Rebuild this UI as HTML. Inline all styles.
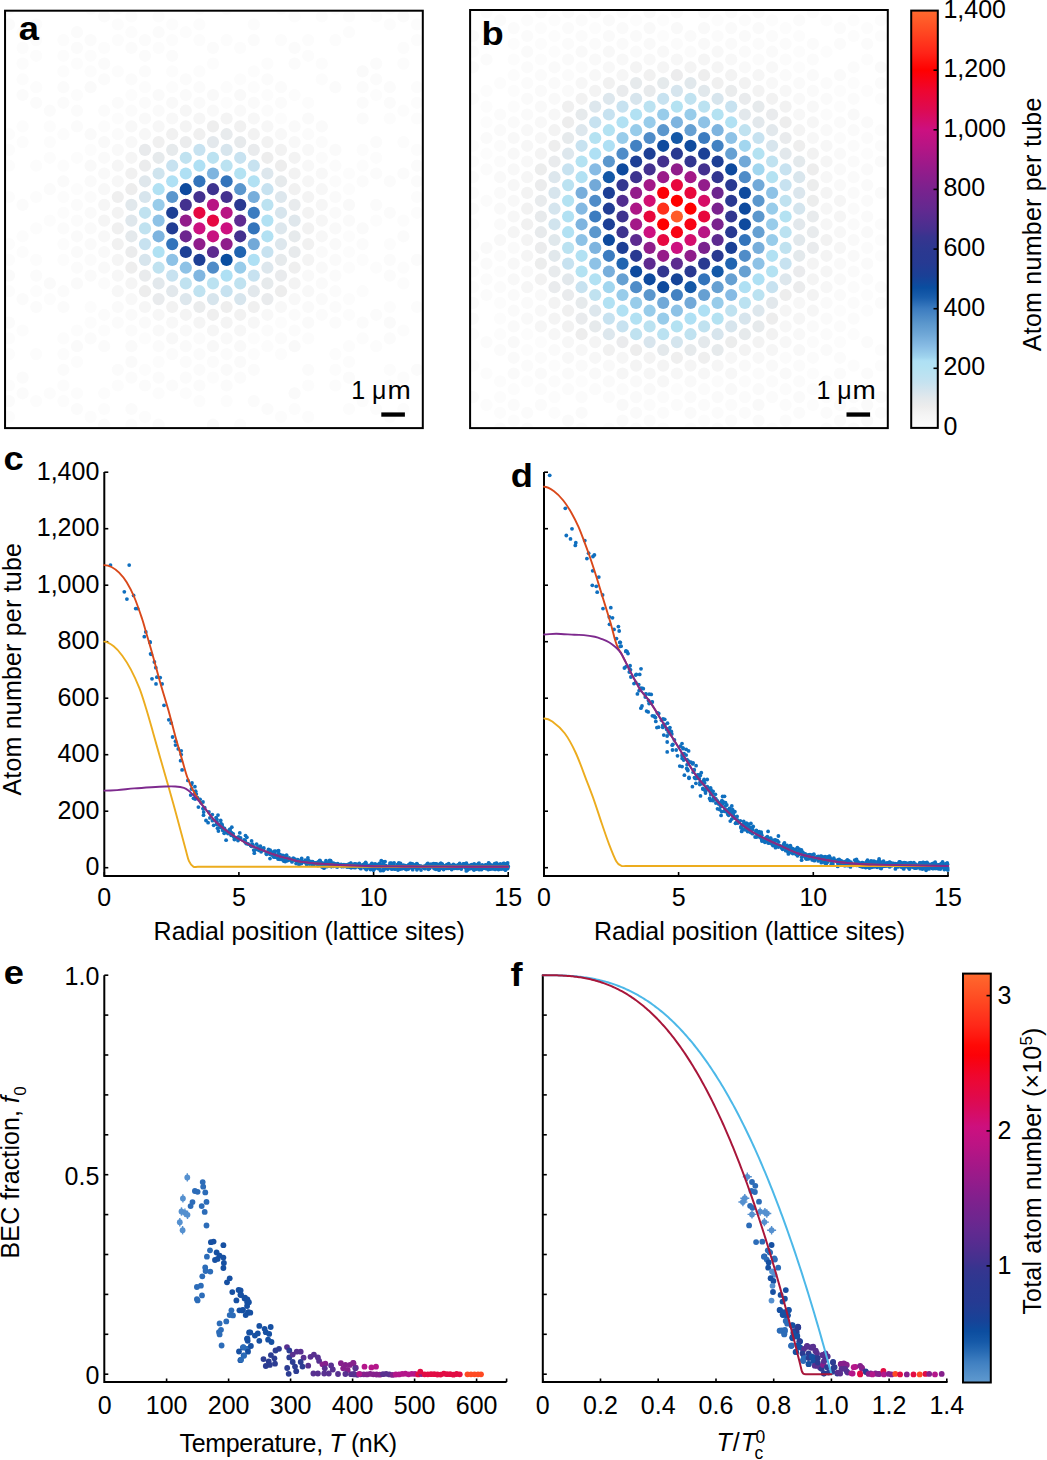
<!DOCTYPE html>
<html><head><meta charset="utf-8"><style>html,body{margin:0;padding:0;background:#fff;overflow:hidden}svg{display:block}</style></head>
<body><svg width="1047" height="1460" viewBox="0 0 1047 1460">
<rect width="1047" height="1460" fill="#fff"/>
<defs><clipPath id="ca"><rect x="6" y="11.7" width="415.8" height="415.3"/></clipPath><clipPath id="cb"><rect x="471" y="11" width="416" height="416"/></clipPath></defs>
<g clip-path="url(#ca)"><circle cx="9.0" cy="8.7" r="6.1" fill="#fbfbfb"/><circle cx="9.0" cy="24.4" r="6.1" fill="#fbfbfb"/><circle cx="9.0" cy="134.2" r="6.1" fill="#fcfcfc"/><circle cx="9.0" cy="149.9" r="6.1" fill="#fcfcfc"/><circle cx="9.0" cy="165.7" r="6.1" fill="#fcfcfc"/><circle cx="9.0" cy="197.0" r="6.1" fill="#fcfcfc"/><circle cx="9.0" cy="244.1" r="6.1" fill="#fcfcfc"/><circle cx="9.0" cy="259.9" r="6.1" fill="#fcfcfc"/><circle cx="9.0" cy="275.6" r="6.1" fill="#fafafa"/><circle cx="9.0" cy="291.2" r="6.1" fill="#fcfcfc"/><circle cx="9.0" cy="322.6" r="6.1" fill="#fbfbfb"/><circle cx="9.0" cy="338.4" r="6.1" fill="#fcfcfc"/><circle cx="9.0" cy="354.1" r="6.1" fill="#fcfcfc"/><circle cx="9.0" cy="385.5" r="6.1" fill="#fcfcfc"/><circle cx="9.0" cy="401.1" r="6.1" fill="#fbfbfb"/><circle cx="9.0" cy="416.9" r="6.1" fill="#fcfcfc"/><circle cx="9.0" cy="432.6" r="6.1" fill="#fcfcfc"/><circle cx="22.6" cy="32.2" r="6.1" fill="#fcfcfc"/><circle cx="22.6" cy="47.9" r="6.1" fill="#fcfcfc"/><circle cx="22.6" cy="63.6" r="6.1" fill="#fcfcfc"/><circle cx="22.6" cy="79.3" r="6.1" fill="#fcfcfc"/><circle cx="22.6" cy="95.0" r="6.1" fill="#fbfbfb"/><circle cx="22.6" cy="126.4" r="6.1" fill="#fcfcfc"/><circle cx="22.6" cy="142.1" r="6.1" fill="#fcfcfc"/><circle cx="22.6" cy="204.9" r="6.1" fill="#fbfbfb"/><circle cx="22.6" cy="236.3" r="6.1" fill="#fcfcfc"/><circle cx="22.6" cy="252.0" r="6.1" fill="#fcfcfc"/><circle cx="22.6" cy="299.1" r="6.1" fill="#fbfbfb"/><circle cx="22.6" cy="330.5" r="6.1" fill="#fcfcfc"/><circle cx="22.6" cy="377.6" r="6.1" fill="#fbfbfb"/><circle cx="22.6" cy="393.3" r="6.1" fill="#fbfbfb"/><circle cx="36.2" cy="24.4" r="6.1" fill="#fcfcfc"/><circle cx="36.2" cy="40.1" r="6.1" fill="#fcfcfc"/><circle cx="36.2" cy="55.8" r="6.1" fill="#fcfcfc"/><circle cx="36.2" cy="87.2" r="6.1" fill="#fcfcfc"/><circle cx="36.2" cy="102.8" r="6.1" fill="#fbfbfb"/><circle cx="36.2" cy="165.7" r="6.1" fill="#fcfcfc"/><circle cx="36.2" cy="197.0" r="6.1" fill="#fcfcfc"/><circle cx="36.2" cy="228.4" r="6.1" fill="#fcfcfc"/><circle cx="36.2" cy="259.9" r="6.1" fill="#fcfcfc"/><circle cx="36.2" cy="275.6" r="6.1" fill="#fbfbfb"/><circle cx="36.2" cy="291.2" r="6.1" fill="#fcfcfc"/><circle cx="36.2" cy="307.0" r="6.1" fill="#fbfbfb"/><circle cx="36.2" cy="354.1" r="6.1" fill="#fcfcfc"/><circle cx="36.2" cy="401.1" r="6.1" fill="#fcfcfc"/><circle cx="36.2" cy="432.6" r="6.1" fill="#fcfcfc"/><circle cx="49.8" cy="110.7" r="6.1" fill="#fbfbfb"/><circle cx="49.8" cy="126.4" r="6.1" fill="#fcfcfc"/><circle cx="49.8" cy="142.1" r="6.1" fill="#fcfcfc"/><circle cx="49.8" cy="157.8" r="6.1" fill="#fcfcfc"/><circle cx="49.8" cy="189.2" r="6.1" fill="#fbfbfb"/><circle cx="49.8" cy="220.6" r="6.1" fill="#fcfcfc"/><circle cx="49.8" cy="283.4" r="6.1" fill="#fafafa"/><circle cx="49.8" cy="299.1" r="6.1" fill="#fcfcfc"/><circle cx="49.8" cy="393.3" r="6.1" fill="#fcfcfc"/><circle cx="63.4" cy="40.1" r="6.1" fill="#fcfcfc"/><circle cx="63.4" cy="55.8" r="6.1" fill="#fcfcfc"/><circle cx="63.4" cy="71.4" r="6.1" fill="#fcfcfc"/><circle cx="63.4" cy="87.2" r="6.1" fill="#fbfbfb"/><circle cx="63.4" cy="102.8" r="6.1" fill="#fbfbfb"/><circle cx="63.4" cy="134.2" r="6.1" fill="#fcfcfc"/><circle cx="63.4" cy="165.7" r="6.1" fill="#fcfcfc"/><circle cx="63.4" cy="181.3" r="6.1" fill="#fafafa"/><circle cx="63.4" cy="197.0" r="6.1" fill="#fcfcfc"/><circle cx="63.4" cy="212.8" r="6.1" fill="#fcfcfc"/><circle cx="63.4" cy="228.4" r="6.1" fill="#fbfbfb"/><circle cx="63.4" cy="244.1" r="6.1" fill="#fcfcfc"/><circle cx="63.4" cy="259.9" r="6.1" fill="#fcfcfc"/><circle cx="63.4" cy="291.2" r="6.1" fill="#fbfbfb"/><circle cx="63.4" cy="307.0" r="6.1" fill="#fbfbfb"/><circle cx="63.4" cy="338.4" r="6.1" fill="#fcfcfc"/><circle cx="63.4" cy="354.1" r="6.1" fill="#fcfcfc"/><circle cx="63.4" cy="369.8" r="6.1" fill="#fbfbfb"/><circle cx="63.4" cy="385.5" r="6.1" fill="#fcfcfc"/><circle cx="63.4" cy="401.1" r="6.1" fill="#fcfcfc"/><circle cx="77.0" cy="32.2" r="6.1" fill="#fbfbfb"/><circle cx="77.0" cy="47.9" r="6.1" fill="#fbfbfb"/><circle cx="77.0" cy="63.6" r="6.1" fill="#fcfcfc"/><circle cx="77.0" cy="95.0" r="6.1" fill="#fcfcfc"/><circle cx="77.0" cy="110.7" r="6.1" fill="#fbfbfb"/><circle cx="77.0" cy="126.4" r="6.1" fill="#fbfbfb"/><circle cx="77.0" cy="157.8" r="6.1" fill="#fcfcfc"/><circle cx="77.0" cy="189.2" r="6.1" fill="#fcfcfc"/><circle cx="77.0" cy="204.9" r="6.1" fill="#fbfbfb"/><circle cx="77.0" cy="220.6" r="6.1" fill="#fbfbfb"/><circle cx="77.0" cy="236.3" r="6.1" fill="#fafafa"/><circle cx="77.0" cy="252.0" r="6.1" fill="#fafafa"/><circle cx="77.0" cy="267.7" r="6.1" fill="#fbfbfb"/><circle cx="77.0" cy="283.4" r="6.1" fill="#fafafa"/><circle cx="77.0" cy="330.5" r="6.1" fill="#fcfcfc"/><circle cx="77.0" cy="346.2" r="6.1" fill="#fafafa"/><circle cx="77.0" cy="361.9" r="6.1" fill="#fcfcfc"/><circle cx="77.0" cy="393.3" r="6.1" fill="#fcfcfc"/><circle cx="77.0" cy="409.0" r="6.1" fill="#fbfbfb"/><circle cx="90.6" cy="8.7" r="6.1" fill="#fcfcfc"/><circle cx="90.6" cy="40.1" r="6.1" fill="#fbfbfb"/><circle cx="90.6" cy="55.8" r="6.1" fill="#fcfcfc"/><circle cx="90.6" cy="71.4" r="6.1" fill="#fcfcfc"/><circle cx="90.6" cy="87.2" r="6.1" fill="#fafafa"/><circle cx="90.6" cy="134.2" r="6.1" fill="#fafafa"/><circle cx="90.6" cy="149.9" r="6.1" fill="#fcfcfc"/><circle cx="90.6" cy="165.7" r="6.1" fill="#f9f9f9"/><circle cx="90.6" cy="181.3" r="6.1" fill="#fafafa"/><circle cx="90.6" cy="197.0" r="6.1" fill="#fbfbfb"/><circle cx="90.6" cy="212.8" r="6.1" fill="#fafafa"/><circle cx="90.6" cy="228.4" r="6.1" fill="#fafafa"/><circle cx="90.6" cy="244.1" r="6.1" fill="#fafafa"/><circle cx="90.6" cy="259.9" r="6.1" fill="#fbfbfb"/><circle cx="90.6" cy="275.6" r="6.1" fill="#fafafa"/><circle cx="90.6" cy="307.0" r="6.1" fill="#fcfcfc"/><circle cx="90.6" cy="322.6" r="6.1" fill="#fcfcfc"/><circle cx="90.6" cy="338.4" r="6.1" fill="#fbfbfb"/><circle cx="90.6" cy="416.9" r="6.1" fill="#fcfcfc"/><circle cx="90.6" cy="432.6" r="6.1" fill="#fcfcfc"/><circle cx="104.2" cy="16.5" r="6.1" fill="#fbfbfb"/><circle cx="104.2" cy="47.9" r="6.1" fill="#fcfcfc"/><circle cx="104.2" cy="63.6" r="6.1" fill="#fbfbfb"/><circle cx="104.2" cy="79.3" r="6.1" fill="#fbfbfb"/><circle cx="104.2" cy="110.7" r="6.1" fill="#fbfbfb"/><circle cx="104.2" cy="126.4" r="6.1" fill="#fcfcfc"/><circle cx="104.2" cy="142.1" r="6.1" fill="#f9f9f9"/><circle cx="104.2" cy="157.8" r="6.1" fill="#fafafa"/><circle cx="104.2" cy="173.5" r="6.1" fill="#f9f9f9"/><circle cx="104.2" cy="189.2" r="6.1" fill="#f8f8f8"/><circle cx="104.2" cy="204.9" r="6.1" fill="#f6f6f6"/><circle cx="104.2" cy="220.6" r="6.1" fill="#f5f5f5"/><circle cx="104.2" cy="236.3" r="6.1" fill="#f8f8f8"/><circle cx="104.2" cy="252.0" r="6.1" fill="#f9f9f9"/><circle cx="104.2" cy="267.7" r="6.1" fill="#f9f9f9"/><circle cx="104.2" cy="283.4" r="6.1" fill="#fbfbfb"/><circle cx="104.2" cy="314.8" r="6.1" fill="#fbfbfb"/><circle cx="104.2" cy="330.5" r="6.1" fill="#fcfcfc"/><circle cx="104.2" cy="346.2" r="6.1" fill="#fbfbfb"/><circle cx="104.2" cy="393.3" r="6.1" fill="#fcfcfc"/><circle cx="104.2" cy="409.0" r="6.1" fill="#fcfcfc"/><circle cx="104.2" cy="424.7" r="6.1" fill="#fbfbfb"/><circle cx="117.8" cy="8.7" r="6.1" fill="#fcfcfc"/><circle cx="117.8" cy="24.4" r="6.1" fill="#fcfcfc"/><circle cx="117.8" cy="40.1" r="6.1" fill="#fcfcfc"/><circle cx="117.8" cy="71.4" r="6.1" fill="#fcfcfc"/><circle cx="117.8" cy="102.8" r="6.1" fill="#fbfbfb"/><circle cx="117.8" cy="118.5" r="6.1" fill="#fcfcfc"/><circle cx="117.8" cy="134.2" r="6.1" fill="#fbfbfb"/><circle cx="117.8" cy="149.9" r="6.1" fill="#f9f9f9"/><circle cx="117.8" cy="165.7" r="6.1" fill="#f6f6f6"/><circle cx="117.8" cy="181.3" r="6.1" fill="#f7f7f7"/><circle cx="117.8" cy="197.0" r="6.1" fill="#efefef"/><circle cx="117.8" cy="212.8" r="6.1" fill="#f3f3f3"/><circle cx="117.8" cy="228.4" r="6.1" fill="#f0f0f0"/><circle cx="117.8" cy="244.1" r="6.1" fill="#f1f1f1"/><circle cx="117.8" cy="259.9" r="6.1" fill="#f5f5f5"/><circle cx="117.8" cy="275.6" r="6.1" fill="#f7f7f7"/><circle cx="117.8" cy="291.2" r="6.1" fill="#f7f7f7"/><circle cx="117.8" cy="307.0" r="6.1" fill="#fafafa"/><circle cx="117.8" cy="322.6" r="6.1" fill="#fbfbfb"/><circle cx="117.8" cy="369.8" r="6.1" fill="#fbfbfb"/><circle cx="117.8" cy="385.5" r="6.1" fill="#fcfcfc"/><circle cx="131.4" cy="16.5" r="6.1" fill="#fcfcfc"/><circle cx="131.4" cy="32.2" r="6.1" fill="#fcfcfc"/><circle cx="131.4" cy="47.9" r="6.1" fill="#fbfbfb"/><circle cx="131.4" cy="79.3" r="6.1" fill="#fbfbfb"/><circle cx="131.4" cy="95.0" r="6.1" fill="#fcfcfc"/><circle cx="131.4" cy="110.7" r="6.1" fill="#fbfbfb"/><circle cx="131.4" cy="126.4" r="6.1" fill="#f8f8f8"/><circle cx="131.4" cy="142.1" r="6.1" fill="#f8f8f8"/><circle cx="131.4" cy="157.8" r="6.1" fill="#f5f5f5"/><circle cx="131.4" cy="173.5" r="6.1" fill="#f1f1f1"/><circle cx="131.4" cy="189.2" r="6.1" fill="#ededed"/><circle cx="131.4" cy="204.9" r="6.1" fill="#e1e8ec"/><circle cx="131.4" cy="220.6" r="6.1" fill="#dfe7ec"/><circle cx="131.4" cy="236.3" r="6.1" fill="#e4e9ec"/><circle cx="131.4" cy="252.0" r="6.1" fill="#ebeced"/><circle cx="131.4" cy="267.7" r="6.1" fill="#eeeeee"/><circle cx="131.4" cy="283.4" r="6.1" fill="#f5f5f5"/><circle cx="131.4" cy="299.1" r="6.1" fill="#f8f8f8"/><circle cx="131.4" cy="314.8" r="6.1" fill="#fafafa"/><circle cx="131.4" cy="330.5" r="6.1" fill="#fbfbfb"/><circle cx="131.4" cy="346.2" r="6.1" fill="#fafafa"/><circle cx="131.4" cy="361.9" r="6.1" fill="#fafafa"/><circle cx="131.4" cy="377.6" r="6.1" fill="#fbfbfb"/><circle cx="131.4" cy="409.0" r="6.1" fill="#fbfbfb"/><circle cx="131.4" cy="424.7" r="6.1" fill="#fcfcfc"/><circle cx="145.0" cy="40.1" r="6.1" fill="#fbfbfb"/><circle cx="145.0" cy="55.8" r="6.1" fill="#fbfbfb"/><circle cx="145.0" cy="71.4" r="6.1" fill="#fbfbfb"/><circle cx="145.0" cy="87.2" r="6.1" fill="#fcfcfc"/><circle cx="145.0" cy="102.8" r="6.1" fill="#fbfbfb"/><circle cx="145.0" cy="118.5" r="6.1" fill="#f9f9f9"/><circle cx="145.0" cy="134.2" r="6.1" fill="#f7f7f7"/><circle cx="145.0" cy="149.9" r="6.1" fill="#e8eaec"/><circle cx="145.0" cy="165.7" r="6.1" fill="#ebeced"/><circle cx="145.0" cy="181.3" r="6.1" fill="#dfe7ec"/><circle cx="145.0" cy="197.0" r="6.1" fill="#d7e5ed"/><circle cx="145.0" cy="212.8" r="6.1" fill="#c0e2f0"/><circle cx="145.0" cy="228.4" r="6.1" fill="#c0e2f0"/><circle cx="145.0" cy="244.1" r="6.1" fill="#c7e2f0"/><circle cx="145.0" cy="259.9" r="6.1" fill="#d7e5ed"/><circle cx="145.0" cy="275.6" r="6.1" fill="#e9ebed"/><circle cx="145.0" cy="291.2" r="6.1" fill="#ededed"/><circle cx="145.0" cy="307.0" r="6.1" fill="#f6f6f6"/><circle cx="145.0" cy="322.6" r="6.1" fill="#fafafa"/><circle cx="145.0" cy="338.4" r="6.1" fill="#fcfcfc"/><circle cx="145.0" cy="369.8" r="6.1" fill="#fcfcfc"/><circle cx="145.0" cy="385.5" r="6.1" fill="#fbfbfb"/><circle cx="145.0" cy="416.9" r="6.1" fill="#fcfcfc"/><circle cx="145.0" cy="432.6" r="6.1" fill="#fcfcfc"/><circle cx="158.6" cy="16.5" r="6.1" fill="#fcfcfc"/><circle cx="158.6" cy="32.2" r="6.1" fill="#fbfbfb"/><circle cx="158.6" cy="47.9" r="6.1" fill="#fcfcfc"/><circle cx="158.6" cy="95.0" r="6.1" fill="#fafafa"/><circle cx="158.6" cy="110.7" r="6.1" fill="#fafafa"/><circle cx="158.6" cy="126.4" r="6.1" fill="#f7f7f7"/><circle cx="158.6" cy="142.1" r="6.1" fill="#f0f0f0"/><circle cx="158.6" cy="157.8" r="6.1" fill="#e6eaec"/><circle cx="158.6" cy="173.5" r="6.1" fill="#cfe4ee"/><circle cx="158.6" cy="189.2" r="6.1" fill="#b2e1f3"/><circle cx="158.6" cy="204.9" r="6.1" fill="#98ccea"/><circle cx="158.6" cy="220.6" r="6.1" fill="#8ec2e6"/><circle cx="158.6" cy="236.3" r="6.1" fill="#7eb4df"/><circle cx="158.6" cy="252.0" r="6.1" fill="#b0e1f3"/><circle cx="158.6" cy="267.7" r="6.1" fill="#c0e2f0"/><circle cx="158.6" cy="283.4" r="6.1" fill="#e2e8ec"/><circle cx="158.6" cy="299.1" r="6.1" fill="#e9ebed"/><circle cx="158.6" cy="314.8" r="6.1" fill="#f7f7f7"/><circle cx="158.6" cy="330.5" r="6.1" fill="#f9f9f9"/><circle cx="158.6" cy="346.2" r="6.1" fill="#fbfbfb"/><circle cx="158.6" cy="361.9" r="6.1" fill="#fcfcfc"/><circle cx="158.6" cy="377.6" r="6.1" fill="#fbfbfb"/><circle cx="158.6" cy="393.3" r="6.1" fill="#fcfcfc"/><circle cx="158.6" cy="424.7" r="6.1" fill="#fbfbfb"/><circle cx="172.2" cy="24.4" r="6.1" fill="#fcfcfc"/><circle cx="172.2" cy="40.1" r="6.1" fill="#fcfcfc"/><circle cx="172.2" cy="55.8" r="6.1" fill="#fbfbfb"/><circle cx="172.2" cy="71.4" r="6.1" fill="#fcfcfc"/><circle cx="172.2" cy="87.2" r="6.1" fill="#fcfcfc"/><circle cx="172.2" cy="102.8" r="6.1" fill="#f9f9f9"/><circle cx="172.2" cy="118.5" r="6.1" fill="#f8f8f8"/><circle cx="172.2" cy="134.2" r="6.1" fill="#f1f1f1"/><circle cx="172.2" cy="149.9" r="6.1" fill="#e6eaec"/><circle cx="172.2" cy="165.7" r="6.1" fill="#c7e2f0"/><circle cx="172.2" cy="181.3" r="6.1" fill="#afe0f4"/><circle cx="172.2" cy="197.0" r="6.1" fill="#5b97cd"/><circle cx="172.2" cy="212.8" r="6.1" fill="#1d3f95"/><circle cx="172.2" cy="228.4" r="6.1" fill="#223c93"/><circle cx="172.2" cy="244.1" r="6.1" fill="#3374bb"/><circle cx="172.2" cy="259.9" r="6.1" fill="#8ec2e6"/><circle cx="172.2" cy="275.6" r="6.1" fill="#c7e2f0"/><circle cx="172.2" cy="291.2" r="6.1" fill="#e2e8ec"/><circle cx="172.2" cy="307.0" r="6.1" fill="#f2f2f2"/><circle cx="172.2" cy="322.6" r="6.1" fill="#f8f8f8"/><circle cx="172.2" cy="338.4" r="6.1" fill="#f8f8f8"/><circle cx="172.2" cy="354.1" r="6.1" fill="#fbfbfb"/><circle cx="172.2" cy="385.5" r="6.1" fill="#fbfbfb"/><circle cx="185.8" cy="32.2" r="6.1" fill="#fcfcfc"/><circle cx="185.8" cy="79.3" r="6.1" fill="#fbfbfb"/><circle cx="185.8" cy="95.0" r="6.1" fill="#fafafa"/><circle cx="185.8" cy="110.7" r="6.1" fill="#f6f6f6"/><circle cx="185.8" cy="126.4" r="6.1" fill="#f4f4f4"/><circle cx="185.8" cy="142.1" r="6.1" fill="#ebeced"/><circle cx="185.8" cy="157.8" r="6.1" fill="#c0e2f0"/><circle cx="185.8" cy="173.5" r="6.1" fill="#afe0f4"/><circle cx="185.8" cy="189.2" r="6.1" fill="#0e4a9e"/><circle cx="185.8" cy="204.9" r="6.1" fill="#43318f"/><circle cx="185.8" cy="220.6" r="6.1" fill="#931c8b"/><circle cx="185.8" cy="236.3" r="6.1" fill="#6c268f"/><circle cx="185.8" cy="252.0" r="6.1" fill="#1d3f95"/><circle cx="185.8" cy="267.7" r="6.1" fill="#8ec2e6"/><circle cx="185.8" cy="283.4" r="6.1" fill="#c0e2f0"/><circle cx="185.8" cy="299.1" r="6.1" fill="#dde7ed"/><circle cx="185.8" cy="314.8" r="6.1" fill="#f4f4f4"/><circle cx="185.8" cy="330.5" r="6.1" fill="#f9f9f9"/><circle cx="185.8" cy="346.2" r="6.1" fill="#fafafa"/><circle cx="185.8" cy="361.9" r="6.1" fill="#fbfbfb"/><circle cx="185.8" cy="377.6" r="6.1" fill="#fbfbfb"/><circle cx="185.8" cy="393.3" r="6.1" fill="#fcfcfc"/><circle cx="199.4" cy="8.7" r="6.1" fill="#fcfcfc"/><circle cx="199.4" cy="24.4" r="6.1" fill="#fcfcfc"/><circle cx="199.4" cy="40.1" r="6.1" fill="#fcfcfc"/><circle cx="199.4" cy="71.4" r="6.1" fill="#fcfcfc"/><circle cx="199.4" cy="87.2" r="6.1" fill="#fbfbfb"/><circle cx="199.4" cy="102.8" r="6.1" fill="#fafafa"/><circle cx="199.4" cy="118.5" r="6.1" fill="#f6f6f6"/><circle cx="199.4" cy="134.2" r="6.1" fill="#f0f0f0"/><circle cx="199.4" cy="149.9" r="6.1" fill="#c7e2f0"/><circle cx="199.4" cy="165.7" r="6.1" fill="#afe0f4"/><circle cx="199.4" cy="181.3" r="6.1" fill="#3374bb"/><circle cx="199.4" cy="197.0" r="6.1" fill="#43318f"/><circle cx="199.4" cy="212.8" r="6.1" fill="#e60841"/><circle cx="199.4" cy="228.4" r="6.1" fill="#cc1080"/><circle cx="199.4" cy="244.1" r="6.1" fill="#8f1d8b"/><circle cx="199.4" cy="259.9" r="6.1" fill="#1d3f95"/><circle cx="199.4" cy="275.6" r="6.1" fill="#81b6e0"/><circle cx="199.4" cy="291.2" r="6.1" fill="#c0e2f0"/><circle cx="199.4" cy="307.0" r="6.1" fill="#eaeced"/><circle cx="199.4" cy="322.6" r="6.1" fill="#f5f5f5"/><circle cx="199.4" cy="338.4" r="6.1" fill="#fbfbfb"/><circle cx="199.4" cy="354.1" r="6.1" fill="#fbfbfb"/><circle cx="199.4" cy="369.8" r="6.1" fill="#fbfbfb"/><circle cx="199.4" cy="385.5" r="6.1" fill="#fbfbfb"/><circle cx="199.4" cy="401.1" r="6.1" fill="#fcfcfc"/><circle cx="213.0" cy="47.9" r="6.1" fill="#fbfbfb"/><circle cx="213.0" cy="63.6" r="6.1" fill="#fcfcfc"/><circle cx="213.0" cy="95.0" r="6.1" fill="#f9f9f9"/><circle cx="213.0" cy="110.7" r="6.1" fill="#f9f9f9"/><circle cx="213.0" cy="126.4" r="6.1" fill="#eeeeee"/><circle cx="213.0" cy="142.1" r="6.1" fill="#e3e8ec"/><circle cx="213.0" cy="157.8" r="6.1" fill="#bbe2f1"/><circle cx="213.0" cy="173.5" r="6.1" fill="#7eb4df"/><circle cx="213.0" cy="189.2" r="6.1" fill="#3d338f"/><circle cx="213.0" cy="204.9" r="6.1" fill="#b81484"/><circle cx="213.0" cy="220.6" r="6.1" fill="#e60841"/><circle cx="213.0" cy="236.3" r="6.1" fill="#c81181"/><circle cx="213.0" cy="252.0" r="6.1" fill="#5d2b90"/><circle cx="213.0" cy="267.7" r="6.1" fill="#4f8cc8"/><circle cx="213.0" cy="283.4" r="6.1" fill="#bbe2f1"/><circle cx="213.0" cy="299.1" r="6.1" fill="#d7e5ed"/><circle cx="213.0" cy="314.8" r="6.1" fill="#efefef"/><circle cx="213.0" cy="330.5" r="6.1" fill="#f6f6f6"/><circle cx="213.0" cy="346.2" r="6.1" fill="#f8f8f8"/><circle cx="213.0" cy="361.9" r="6.1" fill="#fbfbfb"/><circle cx="213.0" cy="377.6" r="6.1" fill="#fcfcfc"/><circle cx="213.0" cy="424.7" r="6.1" fill="#fafafa"/><circle cx="226.6" cy="8.7" r="6.1" fill="#fcfcfc"/><circle cx="226.6" cy="40.1" r="6.1" fill="#fcfcfc"/><circle cx="226.6" cy="87.2" r="6.1" fill="#fcfcfc"/><circle cx="226.6" cy="102.8" r="6.1" fill="#fcfcfc"/><circle cx="226.6" cy="118.5" r="6.1" fill="#f4f4f4"/><circle cx="226.6" cy="134.2" r="6.1" fill="#e8ebed"/><circle cx="226.6" cy="149.9" r="6.1" fill="#d7e5ed"/><circle cx="226.6" cy="165.7" r="6.1" fill="#bbe2f1"/><circle cx="226.6" cy="181.3" r="6.1" fill="#3374bb"/><circle cx="226.6" cy="197.0" r="6.1" fill="#43318f"/><circle cx="226.6" cy="212.8" r="6.1" fill="#b81484"/><circle cx="226.6" cy="228.4" r="6.1" fill="#cc1080"/><circle cx="226.6" cy="244.1" r="6.1" fill="#8f1d8b"/><circle cx="226.6" cy="259.9" r="6.1" fill="#0a4ea0"/><circle cx="226.6" cy="275.6" r="6.1" fill="#afe0f4"/><circle cx="226.6" cy="291.2" r="6.1" fill="#c7e2f0"/><circle cx="226.6" cy="307.0" r="6.1" fill="#eeeeee"/><circle cx="226.6" cy="322.6" r="6.1" fill="#f4f4f4"/><circle cx="226.6" cy="338.4" r="6.1" fill="#f9f9f9"/><circle cx="226.6" cy="354.1" r="6.1" fill="#fbfbfb"/><circle cx="226.6" cy="369.8" r="6.1" fill="#fafafa"/><circle cx="226.6" cy="385.5" r="6.1" fill="#fbfbfb"/><circle cx="226.6" cy="401.1" r="6.1" fill="#fcfcfc"/><circle cx="226.6" cy="432.6" r="6.1" fill="#fcfcfc"/><circle cx="240.2" cy="47.9" r="6.1" fill="#fcfcfc"/><circle cx="240.2" cy="79.3" r="6.1" fill="#fcfcfc"/><circle cx="240.2" cy="95.0" r="6.1" fill="#f9f9f9"/><circle cx="240.2" cy="110.7" r="6.1" fill="#f9f9f9"/><circle cx="240.2" cy="126.4" r="6.1" fill="#f1f1f1"/><circle cx="240.2" cy="142.1" r="6.1" fill="#e7eaec"/><circle cx="240.2" cy="157.8" r="6.1" fill="#c7e2f0"/><circle cx="240.2" cy="173.5" r="6.1" fill="#b4e2f2"/><circle cx="240.2" cy="189.2" r="6.1" fill="#5b97cd"/><circle cx="240.2" cy="204.9" r="6.1" fill="#293991"/><circle cx="240.2" cy="220.6" r="6.1" fill="#5d2b90"/><circle cx="240.2" cy="236.3" r="6.1" fill="#43318f"/><circle cx="240.2" cy="252.0" r="6.1" fill="#2064b0"/><circle cx="240.2" cy="267.7" r="6.1" fill="#98ccea"/><circle cx="240.2" cy="283.4" r="6.1" fill="#c0e2f0"/><circle cx="240.2" cy="299.1" r="6.1" fill="#d7e5ed"/><circle cx="240.2" cy="314.8" r="6.1" fill="#f2f2f2"/><circle cx="240.2" cy="330.5" r="6.1" fill="#f7f7f7"/><circle cx="240.2" cy="346.2" r="6.1" fill="#f9f9f9"/><circle cx="240.2" cy="361.9" r="6.1" fill="#fafafa"/><circle cx="240.2" cy="377.6" r="6.1" fill="#fbfbfb"/><circle cx="240.2" cy="424.7" r="6.1" fill="#fcfcfc"/><circle cx="253.8" cy="24.4" r="6.1" fill="#fcfcfc"/><circle cx="253.8" cy="40.1" r="6.1" fill="#fbfbfb"/><circle cx="253.8" cy="71.4" r="6.1" fill="#fcfcfc"/><circle cx="253.8" cy="87.2" r="6.1" fill="#fcfcfc"/><circle cx="253.8" cy="102.8" r="6.1" fill="#fafafa"/><circle cx="253.8" cy="118.5" r="6.1" fill="#f7f7f7"/><circle cx="253.8" cy="134.2" r="6.1" fill="#f2f2f2"/><circle cx="253.8" cy="149.9" r="6.1" fill="#e9ebed"/><circle cx="253.8" cy="165.7" r="6.1" fill="#c7e2f0"/><circle cx="253.8" cy="181.3" r="6.1" fill="#b2e1f3"/><circle cx="253.8" cy="197.0" r="6.1" fill="#78aedb"/><circle cx="253.8" cy="212.8" r="6.1" fill="#3c7cc0"/><circle cx="253.8" cy="228.4" r="6.1" fill="#3374bb"/><circle cx="253.8" cy="244.1" r="6.1" fill="#72a9d8"/><circle cx="253.8" cy="259.9" r="6.1" fill="#afe0f4"/><circle cx="253.8" cy="275.6" r="6.1" fill="#c7e2f0"/><circle cx="253.8" cy="291.2" r="6.1" fill="#e2e8ec"/><circle cx="253.8" cy="307.0" r="6.1" fill="#f0f0f0"/><circle cx="253.8" cy="322.6" r="6.1" fill="#f7f7f7"/><circle cx="253.8" cy="338.4" r="6.1" fill="#fcfcfc"/><circle cx="253.8" cy="354.1" r="6.1" fill="#fcfcfc"/><circle cx="253.8" cy="369.8" r="6.1" fill="#fbfbfb"/><circle cx="253.8" cy="401.1" r="6.1" fill="#fbfbfb"/><circle cx="253.8" cy="432.6" r="6.1" fill="#fcfcfc"/><circle cx="267.4" cy="63.6" r="6.1" fill="#fcfcfc"/><circle cx="267.4" cy="79.3" r="6.1" fill="#fbfbfb"/><circle cx="267.4" cy="95.0" r="6.1" fill="#fcfcfc"/><circle cx="267.4" cy="110.7" r="6.1" fill="#fbfbfb"/><circle cx="267.4" cy="126.4" r="6.1" fill="#f7f7f7"/><circle cx="267.4" cy="142.1" r="6.1" fill="#f2f2f2"/><circle cx="267.4" cy="157.8" r="6.1" fill="#ededed"/><circle cx="267.4" cy="173.5" r="6.1" fill="#dde7ed"/><circle cx="267.4" cy="189.2" r="6.1" fill="#c7e2f0"/><circle cx="267.4" cy="204.9" r="6.1" fill="#bbe2f1"/><circle cx="267.4" cy="220.6" r="6.1" fill="#b2e1f3"/><circle cx="267.4" cy="236.3" r="6.1" fill="#b2e1f3"/><circle cx="267.4" cy="252.0" r="6.1" fill="#c7e2f0"/><circle cx="267.4" cy="267.7" r="6.1" fill="#dde7ed"/><circle cx="267.4" cy="283.4" r="6.1" fill="#e6eaec"/><circle cx="267.4" cy="299.1" r="6.1" fill="#e9ebed"/><circle cx="267.4" cy="314.8" r="6.1" fill="#f8f8f8"/><circle cx="267.4" cy="330.5" r="6.1" fill="#fbfbfb"/><circle cx="267.4" cy="346.2" r="6.1" fill="#fcfcfc"/><circle cx="267.4" cy="409.0" r="6.1" fill="#fbfbfb"/><circle cx="281.0" cy="8.7" r="6.1" fill="#fcfcfc"/><circle cx="281.0" cy="40.1" r="6.1" fill="#fcfcfc"/><circle cx="281.0" cy="87.2" r="6.1" fill="#fbfbfb"/><circle cx="281.0" cy="102.8" r="6.1" fill="#fbfbfb"/><circle cx="281.0" cy="118.5" r="6.1" fill="#fcfcfc"/><circle cx="281.0" cy="134.2" r="6.1" fill="#f8f8f8"/><circle cx="281.0" cy="149.9" r="6.1" fill="#f2f2f2"/><circle cx="281.0" cy="165.7" r="6.1" fill="#ededed"/><circle cx="281.0" cy="181.3" r="6.1" fill="#e6eaec"/><circle cx="281.0" cy="197.0" r="6.1" fill="#dde7ed"/><circle cx="281.0" cy="212.8" r="6.1" fill="#d7e5ed"/><circle cx="281.0" cy="228.4" r="6.1" fill="#dde7ed"/><circle cx="281.0" cy="244.1" r="6.1" fill="#dde7ed"/><circle cx="281.0" cy="259.9" r="6.1" fill="#e6eaec"/><circle cx="281.0" cy="275.6" r="6.1" fill="#e9ebed"/><circle cx="281.0" cy="291.2" r="6.1" fill="#ededed"/><circle cx="281.0" cy="307.0" r="6.1" fill="#f8f8f8"/><circle cx="281.0" cy="322.6" r="6.1" fill="#fcfcfc"/><circle cx="281.0" cy="338.4" r="6.1" fill="#fbfbfb"/><circle cx="281.0" cy="354.1" r="6.1" fill="#fcfcfc"/><circle cx="281.0" cy="416.9" r="6.1" fill="#fcfcfc"/><circle cx="281.0" cy="432.6" r="6.1" fill="#fcfcfc"/><circle cx="294.6" cy="16.5" r="6.1" fill="#fcfcfc"/><circle cx="294.6" cy="47.9" r="6.1" fill="#fbfbfb"/><circle cx="294.6" cy="63.6" r="6.1" fill="#fbfbfb"/><circle cx="294.6" cy="95.0" r="6.1" fill="#fcfcfc"/><circle cx="294.6" cy="126.4" r="6.1" fill="#fafafa"/><circle cx="294.6" cy="142.1" r="6.1" fill="#f8f8f8"/><circle cx="294.6" cy="157.8" r="6.1" fill="#f3f3f3"/><circle cx="294.6" cy="173.5" r="6.1" fill="#f2f2f2"/><circle cx="294.6" cy="189.2" r="6.1" fill="#f1f1f1"/><circle cx="294.6" cy="204.9" r="6.1" fill="#e8ebed"/><circle cx="294.6" cy="220.6" r="6.1" fill="#dfe7ec"/><circle cx="294.6" cy="236.3" r="6.1" fill="#e6eaec"/><circle cx="294.6" cy="252.0" r="6.1" fill="#e7eaec"/><circle cx="294.6" cy="267.7" r="6.1" fill="#efefef"/><circle cx="294.6" cy="283.4" r="6.1" fill="#f3f3f3"/><circle cx="294.6" cy="299.1" r="6.1" fill="#f8f8f8"/><circle cx="294.6" cy="314.8" r="6.1" fill="#fbfbfb"/><circle cx="294.6" cy="330.5" r="6.1" fill="#fbfbfb"/><circle cx="294.6" cy="346.2" r="6.1" fill="#f9f9f9"/><circle cx="294.6" cy="393.3" r="6.1" fill="#fafafa"/><circle cx="294.6" cy="409.0" r="6.1" fill="#fcfcfc"/><circle cx="308.2" cy="40.1" r="6.1" fill="#fcfcfc"/><circle cx="308.2" cy="55.8" r="6.1" fill="#fcfcfc"/><circle cx="308.2" cy="102.8" r="6.1" fill="#fcfcfc"/><circle cx="308.2" cy="118.5" r="6.1" fill="#fafafa"/><circle cx="308.2" cy="134.2" r="6.1" fill="#fbfbfb"/><circle cx="308.2" cy="149.9" r="6.1" fill="#f8f8f8"/><circle cx="308.2" cy="165.7" r="6.1" fill="#f8f8f8"/><circle cx="308.2" cy="181.3" r="6.1" fill="#f6f6f6"/><circle cx="308.2" cy="197.0" r="6.1" fill="#f4f4f4"/><circle cx="308.2" cy="212.8" r="6.1" fill="#f3f3f3"/><circle cx="308.2" cy="228.4" r="6.1" fill="#f2f2f2"/><circle cx="308.2" cy="244.1" r="6.1" fill="#f1f1f1"/><circle cx="308.2" cy="259.9" r="6.1" fill="#f4f4f4"/><circle cx="308.2" cy="275.6" r="6.1" fill="#f9f9f9"/><circle cx="308.2" cy="291.2" r="6.1" fill="#f8f8f8"/><circle cx="308.2" cy="307.0" r="6.1" fill="#fafafa"/><circle cx="308.2" cy="322.6" r="6.1" fill="#fafafa"/><circle cx="308.2" cy="338.4" r="6.1" fill="#fcfcfc"/><circle cx="308.2" cy="369.8" r="6.1" fill="#fbfbfb"/><circle cx="308.2" cy="385.5" r="6.1" fill="#fcfcfc"/><circle cx="308.2" cy="416.9" r="6.1" fill="#fcfcfc"/><circle cx="308.2" cy="432.6" r="6.1" fill="#fcfcfc"/><circle cx="321.8" cy="16.5" r="6.1" fill="#fcfcfc"/><circle cx="321.8" cy="63.6" r="6.1" fill="#fcfcfc"/><circle cx="321.8" cy="79.3" r="6.1" fill="#fcfcfc"/><circle cx="321.8" cy="126.4" r="6.1" fill="#fafafa"/><circle cx="321.8" cy="142.1" r="6.1" fill="#fbfbfb"/><circle cx="321.8" cy="157.8" r="6.1" fill="#fbfbfb"/><circle cx="321.8" cy="173.5" r="6.1" fill="#f8f8f8"/><circle cx="321.8" cy="189.2" r="6.1" fill="#f7f7f7"/><circle cx="321.8" cy="204.9" r="6.1" fill="#f6f6f6"/><circle cx="321.8" cy="220.6" r="6.1" fill="#f6f6f6"/><circle cx="321.8" cy="236.3" r="6.1" fill="#f7f7f7"/><circle cx="321.8" cy="252.0" r="6.1" fill="#fafafa"/><circle cx="321.8" cy="267.7" r="6.1" fill="#f9f9f9"/><circle cx="321.8" cy="283.4" r="6.1" fill="#fafafa"/><circle cx="321.8" cy="299.1" r="6.1" fill="#fafafa"/><circle cx="321.8" cy="314.8" r="6.1" fill="#fbfbfb"/><circle cx="335.4" cy="8.7" r="6.1" fill="#fcfcfc"/><circle cx="335.4" cy="40.1" r="6.1" fill="#fcfcfc"/><circle cx="335.4" cy="87.2" r="6.1" fill="#fbfbfb"/><circle cx="335.4" cy="149.9" r="6.1" fill="#fafafa"/><circle cx="335.4" cy="165.7" r="6.1" fill="#fbfbfb"/><circle cx="335.4" cy="181.3" r="6.1" fill="#fbfbfb"/><circle cx="335.4" cy="197.0" r="6.1" fill="#fafafa"/><circle cx="335.4" cy="212.8" r="6.1" fill="#fafafa"/><circle cx="335.4" cy="228.4" r="6.1" fill="#f9f9f9"/><circle cx="335.4" cy="244.1" r="6.1" fill="#f9f9f9"/><circle cx="335.4" cy="259.9" r="6.1" fill="#fafafa"/><circle cx="335.4" cy="275.6" r="6.1" fill="#fbfbfb"/><circle cx="335.4" cy="291.2" r="6.1" fill="#fbfbfb"/><circle cx="335.4" cy="307.0" r="6.1" fill="#fbfbfb"/><circle cx="335.4" cy="322.6" r="6.1" fill="#fbfbfb"/><circle cx="335.4" cy="354.1" r="6.1" fill="#fcfcfc"/><circle cx="335.4" cy="369.8" r="6.1" fill="#fcfcfc"/><circle cx="335.4" cy="385.5" r="6.1" fill="#fcfcfc"/><circle cx="335.4" cy="432.6" r="6.1" fill="#fcfcfc"/><circle cx="349.0" cy="16.5" r="6.1" fill="#fcfcfc"/><circle cx="349.0" cy="32.2" r="6.1" fill="#fcfcfc"/><circle cx="349.0" cy="173.5" r="6.1" fill="#fcfcfc"/><circle cx="349.0" cy="189.2" r="6.1" fill="#fcfcfc"/><circle cx="349.0" cy="204.9" r="6.1" fill="#f9f9f9"/><circle cx="349.0" cy="220.6" r="6.1" fill="#fafafa"/><circle cx="349.0" cy="236.3" r="6.1" fill="#fcfcfc"/><circle cx="349.0" cy="252.0" r="6.1" fill="#fcfcfc"/><circle cx="349.0" cy="267.7" r="6.1" fill="#fcfcfc"/><circle cx="349.0" cy="299.1" r="6.1" fill="#fcfcfc"/><circle cx="349.0" cy="314.8" r="6.1" fill="#fcfcfc"/><circle cx="349.0" cy="346.2" r="6.1" fill="#fcfcfc"/><circle cx="349.0" cy="361.9" r="6.1" fill="#fcfcfc"/><circle cx="349.0" cy="377.6" r="6.1" fill="#fbfbfb"/><circle cx="349.0" cy="409.0" r="6.1" fill="#fcfcfc"/><circle cx="362.6" cy="71.4" r="6.1" fill="#fafafa"/><circle cx="362.6" cy="87.2" r="6.1" fill="#fbfbfb"/><circle cx="362.6" cy="102.8" r="6.1" fill="#fbfbfb"/><circle cx="362.6" cy="118.5" r="6.1" fill="#fbfbfb"/><circle cx="362.6" cy="149.9" r="6.1" fill="#fcfcfc"/><circle cx="362.6" cy="165.7" r="6.1" fill="#fcfcfc"/><circle cx="362.6" cy="181.3" r="6.1" fill="#fbfbfb"/><circle cx="362.6" cy="228.4" r="6.1" fill="#fafafa"/><circle cx="362.6" cy="244.1" r="6.1" fill="#fbfbfb"/><circle cx="362.6" cy="259.9" r="6.1" fill="#fcfcfc"/><circle cx="362.6" cy="291.2" r="6.1" fill="#fcfcfc"/><circle cx="362.6" cy="322.6" r="6.1" fill="#fbfbfb"/><circle cx="362.6" cy="338.4" r="6.1" fill="#fcfcfc"/><circle cx="362.6" cy="401.1" r="6.1" fill="#fcfcfc"/><circle cx="362.6" cy="432.6" r="6.1" fill="#fcfcfc"/><circle cx="376.2" cy="16.5" r="6.1" fill="#fcfcfc"/><circle cx="376.2" cy="63.6" r="6.1" fill="#fbfbfb"/><circle cx="376.2" cy="79.3" r="6.1" fill="#fbfbfb"/><circle cx="376.2" cy="95.0" r="6.1" fill="#fcfcfc"/><circle cx="376.2" cy="142.1" r="6.1" fill="#fbfbfb"/><circle cx="376.2" cy="157.8" r="6.1" fill="#fcfcfc"/><circle cx="376.2" cy="173.5" r="6.1" fill="#fbfbfb"/><circle cx="376.2" cy="204.9" r="6.1" fill="#fbfbfb"/><circle cx="376.2" cy="220.6" r="6.1" fill="#fcfcfc"/><circle cx="376.2" cy="267.7" r="6.1" fill="#fcfcfc"/><circle cx="376.2" cy="314.8" r="6.1" fill="#fbfbfb"/><circle cx="376.2" cy="346.2" r="6.1" fill="#fcfcfc"/><circle cx="376.2" cy="409.0" r="6.1" fill="#fcfcfc"/><circle cx="389.8" cy="8.7" r="6.1" fill="#fcfcfc"/><circle cx="389.8" cy="24.4" r="6.1" fill="#fcfcfc"/><circle cx="389.8" cy="87.2" r="6.1" fill="#fbfbfb"/><circle cx="389.8" cy="102.8" r="6.1" fill="#fbfbfb"/><circle cx="389.8" cy="118.5" r="6.1" fill="#fcfcfc"/><circle cx="389.8" cy="181.3" r="6.1" fill="#fbfbfb"/><circle cx="389.8" cy="212.8" r="6.1" fill="#fbfbfb"/><circle cx="389.8" cy="244.1" r="6.1" fill="#fcfcfc"/><circle cx="389.8" cy="259.9" r="6.1" fill="#fbfbfb"/><circle cx="389.8" cy="275.6" r="6.1" fill="#fbfbfb"/><circle cx="389.8" cy="307.0" r="6.1" fill="#fcfcfc"/><circle cx="389.8" cy="322.6" r="6.1" fill="#fafafa"/><circle cx="389.8" cy="338.4" r="6.1" fill="#fbfbfb"/><circle cx="389.8" cy="369.8" r="6.1" fill="#fcfcfc"/><circle cx="389.8" cy="385.5" r="6.1" fill="#fafafa"/><circle cx="389.8" cy="416.9" r="6.1" fill="#fcfcfc"/><circle cx="403.4" cy="16.5" r="6.1" fill="#fbfbfb"/><circle cx="403.4" cy="47.9" r="6.1" fill="#fcfcfc"/><circle cx="403.4" cy="63.6" r="6.1" fill="#fcfcfc"/><circle cx="403.4" cy="110.7" r="6.1" fill="#fcfcfc"/><circle cx="403.4" cy="142.1" r="6.1" fill="#fcfcfc"/><circle cx="403.4" cy="173.5" r="6.1" fill="#fbfbfb"/><circle cx="403.4" cy="220.6" r="6.1" fill="#fcfcfc"/><circle cx="403.4" cy="236.3" r="6.1" fill="#fbfbfb"/><circle cx="403.4" cy="267.7" r="6.1" fill="#fcfcfc"/><circle cx="403.4" cy="283.4" r="6.1" fill="#fcfcfc"/><circle cx="403.4" cy="330.5" r="6.1" fill="#fcfcfc"/><circle cx="403.4" cy="377.6" r="6.1" fill="#fcfcfc"/><circle cx="403.4" cy="393.3" r="6.1" fill="#fcfcfc"/><circle cx="403.4" cy="409.0" r="6.1" fill="#fcfcfc"/><circle cx="417.0" cy="24.4" r="6.1" fill="#fcfcfc"/><circle cx="417.0" cy="40.1" r="6.1" fill="#fcfcfc"/><circle cx="417.0" cy="87.2" r="6.1" fill="#fcfcfc"/><circle cx="417.0" cy="102.8" r="6.1" fill="#fcfcfc"/><circle cx="417.0" cy="118.5" r="6.1" fill="#fcfcfc"/><circle cx="417.0" cy="149.9" r="6.1" fill="#fcfcfc"/><circle cx="417.0" cy="165.7" r="6.1" fill="#fbfbfb"/><circle cx="417.0" cy="181.3" r="6.1" fill="#fbfbfb"/><circle cx="417.0" cy="197.0" r="6.1" fill="#fcfcfc"/><circle cx="417.0" cy="212.8" r="6.1" fill="#fcfcfc"/><circle cx="417.0" cy="259.9" r="6.1" fill="#fbfbfb"/><circle cx="417.0" cy="307.0" r="6.1" fill="#fcfcfc"/><circle cx="417.0" cy="369.8" r="6.1" fill="#fbfbfb"/><circle cx="417.0" cy="432.6" r="6.1" fill="#fcfcfc"/></g>
<g clip-path="url(#cb)"><circle cx="472.9" cy="4.6" r="6.1" fill="#fafafa"/><circle cx="472.9" cy="36.0" r="6.1" fill="#fbfbfb"/><circle cx="472.9" cy="51.7" r="6.1" fill="#fcfcfc"/><circle cx="472.9" cy="67.3" r="6.1" fill="#fbfbfb"/><circle cx="472.9" cy="98.8" r="6.1" fill="#fcfcfc"/><circle cx="472.9" cy="145.8" r="6.1" fill="#fcfcfc"/><circle cx="472.9" cy="161.5" r="6.1" fill="#fcfcfc"/><circle cx="472.9" cy="177.2" r="6.1" fill="#fbfbfb"/><circle cx="472.9" cy="192.9" r="6.1" fill="#fcfcfc"/><circle cx="472.9" cy="208.7" r="6.1" fill="#fbfbfb"/><circle cx="472.9" cy="224.3" r="6.1" fill="#fcfcfc"/><circle cx="472.9" cy="255.8" r="6.1" fill="#fafafa"/><circle cx="472.9" cy="271.5" r="6.1" fill="#fcfcfc"/><circle cx="472.9" cy="287.2" r="6.1" fill="#fcfcfc"/><circle cx="472.9" cy="302.9" r="6.1" fill="#fbfbfb"/><circle cx="472.9" cy="318.6" r="6.1" fill="#fbfbfb"/><circle cx="472.9" cy="334.2" r="6.1" fill="#fcfcfc"/><circle cx="472.9" cy="365.6" r="6.1" fill="#fcfcfc"/><circle cx="472.9" cy="397.1" r="6.1" fill="#fbfbfb"/><circle cx="472.9" cy="428.5" r="6.1" fill="#fcfcfc"/><circle cx="486.5" cy="12.4" r="6.1" fill="#fcfcfc"/><circle cx="486.5" cy="28.1" r="6.1" fill="#fcfcfc"/><circle cx="486.5" cy="43.8" r="6.1" fill="#fcfcfc"/><circle cx="486.5" cy="59.5" r="6.1" fill="#fbfbfb"/><circle cx="486.5" cy="90.9" r="6.1" fill="#fcfcfc"/><circle cx="486.5" cy="106.6" r="6.1" fill="#fcfcfc"/><circle cx="486.5" cy="122.3" r="6.1" fill="#fcfcfc"/><circle cx="486.5" cy="138.0" r="6.1" fill="#fafafa"/><circle cx="486.5" cy="153.7" r="6.1" fill="#fcfcfc"/><circle cx="486.5" cy="169.4" r="6.1" fill="#fbfbfb"/><circle cx="486.5" cy="200.8" r="6.1" fill="#fbfbfb"/><circle cx="486.5" cy="247.9" r="6.1" fill="#f9f9f9"/><circle cx="486.5" cy="263.6" r="6.1" fill="#fafafa"/><circle cx="486.5" cy="279.3" r="6.1" fill="#fbfbfb"/><circle cx="486.5" cy="295.0" r="6.1" fill="#fbfbfb"/><circle cx="486.5" cy="342.1" r="6.1" fill="#fbfbfb"/><circle cx="486.5" cy="373.5" r="6.1" fill="#fcfcfc"/><circle cx="486.5" cy="404.9" r="6.1" fill="#fcfcfc"/><circle cx="500.1" cy="4.6" r="6.1" fill="#fafafa"/><circle cx="500.1" cy="20.3" r="6.1" fill="#fbfbfb"/><circle cx="500.1" cy="83.1" r="6.1" fill="#fcfcfc"/><circle cx="500.1" cy="114.5" r="6.1" fill="#fbfbfb"/><circle cx="500.1" cy="130.2" r="6.1" fill="#fafafa"/><circle cx="500.1" cy="145.8" r="6.1" fill="#fbfbfb"/><circle cx="500.1" cy="161.5" r="6.1" fill="#fbfbfb"/><circle cx="500.1" cy="177.2" r="6.1" fill="#f9f9f9"/><circle cx="500.1" cy="192.9" r="6.1" fill="#fafafa"/><circle cx="500.1" cy="208.7" r="6.1" fill="#f9f9f9"/><circle cx="500.1" cy="224.3" r="6.1" fill="#fafafa"/><circle cx="500.1" cy="240.0" r="6.1" fill="#f8f8f8"/><circle cx="500.1" cy="255.8" r="6.1" fill="#fbfbfb"/><circle cx="500.1" cy="271.5" r="6.1" fill="#fcfcfc"/><circle cx="500.1" cy="287.2" r="6.1" fill="#fbfbfb"/><circle cx="500.1" cy="302.9" r="6.1" fill="#fcfcfc"/><circle cx="500.1" cy="318.6" r="6.1" fill="#fcfcfc"/><circle cx="500.1" cy="334.2" r="6.1" fill="#fcfcfc"/><circle cx="500.1" cy="350.0" r="6.1" fill="#fbfbfb"/><circle cx="500.1" cy="381.4" r="6.1" fill="#fcfcfc"/><circle cx="500.1" cy="397.1" r="6.1" fill="#fcfcfc"/><circle cx="500.1" cy="412.8" r="6.1" fill="#fcfcfc"/><circle cx="500.1" cy="428.5" r="6.1" fill="#fbfbfb"/><circle cx="513.7" cy="28.1" r="6.1" fill="#fbfbfb"/><circle cx="513.7" cy="43.8" r="6.1" fill="#fcfcfc"/><circle cx="513.7" cy="59.5" r="6.1" fill="#fcfcfc"/><circle cx="513.7" cy="75.2" r="6.1" fill="#fcfcfc"/><circle cx="513.7" cy="90.9" r="6.1" fill="#fcfcfc"/><circle cx="513.7" cy="106.6" r="6.1" fill="#fcfcfc"/><circle cx="513.7" cy="122.3" r="6.1" fill="#fafafa"/><circle cx="513.7" cy="138.0" r="6.1" fill="#f8f8f8"/><circle cx="513.7" cy="153.7" r="6.1" fill="#f8f8f8"/><circle cx="513.7" cy="169.4" r="6.1" fill="#f8f8f8"/><circle cx="513.7" cy="185.1" r="6.1" fill="#f7f7f7"/><circle cx="513.7" cy="200.8" r="6.1" fill="#f8f8f8"/><circle cx="513.7" cy="216.5" r="6.1" fill="#f7f7f7"/><circle cx="513.7" cy="232.2" r="6.1" fill="#f5f5f5"/><circle cx="513.7" cy="247.9" r="6.1" fill="#fafafa"/><circle cx="513.7" cy="263.6" r="6.1" fill="#f8f8f8"/><circle cx="513.7" cy="279.3" r="6.1" fill="#f8f8f8"/><circle cx="513.7" cy="295.0" r="6.1" fill="#fafafa"/><circle cx="513.7" cy="310.7" r="6.1" fill="#fafafa"/><circle cx="513.7" cy="326.4" r="6.1" fill="#fafafa"/><circle cx="513.7" cy="342.1" r="6.1" fill="#f9f9f9"/><circle cx="513.7" cy="357.8" r="6.1" fill="#fafafa"/><circle cx="513.7" cy="373.5" r="6.1" fill="#fafafa"/><circle cx="513.7" cy="389.2" r="6.1" fill="#fcfcfc"/><circle cx="513.7" cy="404.9" r="6.1" fill="#fbfbfb"/><circle cx="513.7" cy="420.6" r="6.1" fill="#fcfcfc"/><circle cx="527.2" cy="4.6" r="6.1" fill="#fcfcfc"/><circle cx="527.2" cy="20.3" r="6.1" fill="#fcfcfc"/><circle cx="527.2" cy="36.0" r="6.1" fill="#fbfbfb"/><circle cx="527.2" cy="51.7" r="6.1" fill="#fafafa"/><circle cx="527.2" cy="67.3" r="6.1" fill="#fbfbfb"/><circle cx="527.2" cy="83.1" r="6.1" fill="#fbfbfb"/><circle cx="527.2" cy="98.8" r="6.1" fill="#fafafa"/><circle cx="527.2" cy="114.5" r="6.1" fill="#fafafa"/><circle cx="527.2" cy="130.2" r="6.1" fill="#f8f8f8"/><circle cx="527.2" cy="145.8" r="6.1" fill="#f7f7f7"/><circle cx="527.2" cy="161.5" r="6.1" fill="#f8f8f8"/><circle cx="527.2" cy="177.2" r="6.1" fill="#f6f6f6"/><circle cx="527.2" cy="192.9" r="6.1" fill="#f3f3f3"/><circle cx="527.2" cy="208.7" r="6.1" fill="#f2f2f2"/><circle cx="527.2" cy="224.3" r="6.1" fill="#f1f1f1"/><circle cx="527.2" cy="240.0" r="6.1" fill="#f4f4f4"/><circle cx="527.2" cy="255.8" r="6.1" fill="#f5f5f5"/><circle cx="527.2" cy="271.5" r="6.1" fill="#f8f8f8"/><circle cx="527.2" cy="287.2" r="6.1" fill="#f6f6f6"/><circle cx="527.2" cy="302.9" r="6.1" fill="#fafafa"/><circle cx="527.2" cy="318.6" r="6.1" fill="#f9f9f9"/><circle cx="527.2" cy="334.2" r="6.1" fill="#fcfcfc"/><circle cx="527.2" cy="350.0" r="6.1" fill="#fcfcfc"/><circle cx="527.2" cy="365.6" r="6.1" fill="#fbfbfb"/><circle cx="527.2" cy="381.4" r="6.1" fill="#fcfcfc"/><circle cx="527.2" cy="412.8" r="6.1" fill="#fbfbfb"/><circle cx="527.2" cy="428.5" r="6.1" fill="#fbfbfb"/><circle cx="540.9" cy="12.4" r="6.1" fill="#fbfbfb"/><circle cx="540.9" cy="28.1" r="6.1" fill="#fcfcfc"/><circle cx="540.9" cy="43.8" r="6.1" fill="#fcfcfc"/><circle cx="540.9" cy="59.5" r="6.1" fill="#fcfcfc"/><circle cx="540.9" cy="75.2" r="6.1" fill="#fbfbfb"/><circle cx="540.9" cy="90.9" r="6.1" fill="#fafafa"/><circle cx="540.9" cy="106.6" r="6.1" fill="#f9f9f9"/><circle cx="540.9" cy="122.3" r="6.1" fill="#f8f8f8"/><circle cx="540.9" cy="138.0" r="6.1" fill="#f7f7f7"/><circle cx="540.9" cy="153.7" r="6.1" fill="#f4f4f4"/><circle cx="540.9" cy="169.4" r="6.1" fill="#eceded"/><circle cx="540.9" cy="185.1" r="6.1" fill="#ebeced"/><circle cx="540.9" cy="200.8" r="6.1" fill="#e8ebed"/><circle cx="540.9" cy="216.5" r="6.1" fill="#e7eaec"/><circle cx="540.9" cy="232.2" r="6.1" fill="#e7eaec"/><circle cx="540.9" cy="247.9" r="6.1" fill="#ebeced"/><circle cx="540.9" cy="263.6" r="6.1" fill="#eceded"/><circle cx="540.9" cy="279.3" r="6.1" fill="#f2f2f2"/><circle cx="540.9" cy="295.0" r="6.1" fill="#f9f9f9"/><circle cx="540.9" cy="310.7" r="6.1" fill="#f8f8f8"/><circle cx="540.9" cy="326.4" r="6.1" fill="#f6f6f6"/><circle cx="540.9" cy="342.1" r="6.1" fill="#fcfcfc"/><circle cx="540.9" cy="357.8" r="6.1" fill="#fbfbfb"/><circle cx="540.9" cy="373.5" r="6.1" fill="#fafafa"/><circle cx="540.9" cy="389.2" r="6.1" fill="#fbfbfb"/><circle cx="540.9" cy="404.9" r="6.1" fill="#fbfbfb"/><circle cx="554.5" cy="20.3" r="6.1" fill="#fcfcfc"/><circle cx="554.5" cy="36.0" r="6.1" fill="#fcfcfc"/><circle cx="554.5" cy="51.7" r="6.1" fill="#fcfcfc"/><circle cx="554.5" cy="67.3" r="6.1" fill="#fafafa"/><circle cx="554.5" cy="83.1" r="6.1" fill="#fafafa"/><circle cx="554.5" cy="98.8" r="6.1" fill="#f9f9f9"/><circle cx="554.5" cy="114.5" r="6.1" fill="#f7f7f7"/><circle cx="554.5" cy="130.2" r="6.1" fill="#f3f3f3"/><circle cx="554.5" cy="145.8" r="6.1" fill="#eeeeee"/><circle cx="554.5" cy="161.5" r="6.1" fill="#e9ebed"/><circle cx="554.5" cy="177.2" r="6.1" fill="#dde7ed"/><circle cx="554.5" cy="192.9" r="6.1" fill="#d7e5ed"/><circle cx="554.5" cy="208.7" r="6.1" fill="#d5e5ee"/><circle cx="554.5" cy="224.3" r="6.1" fill="#d1e4ee"/><circle cx="554.5" cy="240.0" r="6.1" fill="#e0e8ec"/><circle cx="554.5" cy="255.8" r="6.1" fill="#e1e8ec"/><circle cx="554.5" cy="271.5" r="6.1" fill="#e8ebed"/><circle cx="554.5" cy="287.2" r="6.1" fill="#e9ebed"/><circle cx="554.5" cy="302.9" r="6.1" fill="#f3f3f3"/><circle cx="554.5" cy="318.6" r="6.1" fill="#f4f4f4"/><circle cx="554.5" cy="334.2" r="6.1" fill="#f7f7f7"/><circle cx="554.5" cy="350.0" r="6.1" fill="#fafafa"/><circle cx="554.5" cy="365.6" r="6.1" fill="#fcfcfc"/><circle cx="554.5" cy="381.4" r="6.1" fill="#fbfbfb"/><circle cx="554.5" cy="397.1" r="6.1" fill="#fcfcfc"/><circle cx="554.5" cy="412.8" r="6.1" fill="#fcfcfc"/><circle cx="568.1" cy="12.4" r="6.1" fill="#fbfbfb"/><circle cx="568.1" cy="28.1" r="6.1" fill="#fbfbfb"/><circle cx="568.1" cy="43.8" r="6.1" fill="#fbfbfb"/><circle cx="568.1" cy="59.5" r="6.1" fill="#fafafa"/><circle cx="568.1" cy="75.2" r="6.1" fill="#fbfbfb"/><circle cx="568.1" cy="90.9" r="6.1" fill="#fafafa"/><circle cx="568.1" cy="106.6" r="6.1" fill="#f0f0f0"/><circle cx="568.1" cy="122.3" r="6.1" fill="#ededed"/><circle cx="568.1" cy="138.0" r="6.1" fill="#e6eaec"/><circle cx="568.1" cy="153.7" r="6.1" fill="#dde7ed"/><circle cx="568.1" cy="169.4" r="6.1" fill="#c7e2f0"/><circle cx="568.1" cy="185.1" r="6.1" fill="#bbe2f1"/><circle cx="568.1" cy="200.8" r="6.1" fill="#b4e2f2"/><circle cx="568.1" cy="216.5" r="6.1" fill="#b2e1f3"/><circle cx="568.1" cy="232.2" r="6.1" fill="#b2e1f3"/><circle cx="568.1" cy="247.9" r="6.1" fill="#bbe2f1"/><circle cx="568.1" cy="263.6" r="6.1" fill="#c7e2f0"/><circle cx="568.1" cy="279.3" r="6.1" fill="#e2e8ec"/><circle cx="568.1" cy="295.0" r="6.1" fill="#e9ebed"/><circle cx="568.1" cy="310.7" r="6.1" fill="#f0f0f0"/><circle cx="568.1" cy="326.4" r="6.1" fill="#f2f2f2"/><circle cx="568.1" cy="342.1" r="6.1" fill="#f7f7f7"/><circle cx="568.1" cy="357.8" r="6.1" fill="#f8f8f8"/><circle cx="568.1" cy="373.5" r="6.1" fill="#fafafa"/><circle cx="568.1" cy="389.2" r="6.1" fill="#fbfbfb"/><circle cx="568.1" cy="420.6" r="6.1" fill="#fafafa"/><circle cx="581.6" cy="4.6" r="6.1" fill="#fafafa"/><circle cx="581.6" cy="20.3" r="6.1" fill="#fbfbfb"/><circle cx="581.6" cy="36.0" r="6.1" fill="#fbfbfb"/><circle cx="581.6" cy="51.7" r="6.1" fill="#f9f9f9"/><circle cx="581.6" cy="67.3" r="6.1" fill="#fbfbfb"/><circle cx="581.6" cy="83.1" r="6.1" fill="#f7f7f7"/><circle cx="581.6" cy="98.8" r="6.1" fill="#f2f2f2"/><circle cx="581.6" cy="114.5" r="6.1" fill="#e6eaec"/><circle cx="581.6" cy="130.2" r="6.1" fill="#dde7ed"/><circle cx="581.6" cy="145.8" r="6.1" fill="#c7e2f0"/><circle cx="581.6" cy="161.5" r="6.1" fill="#b4e2f2"/><circle cx="581.6" cy="177.2" r="6.1" fill="#b2e1f3"/><circle cx="581.6" cy="192.9" r="6.1" fill="#78aedb"/><circle cx="581.6" cy="208.7" r="6.1" fill="#84b9e2"/><circle cx="581.6" cy="224.3" r="6.1" fill="#7eb4df"/><circle cx="581.6" cy="240.0" r="6.1" fill="#8ec2e6"/><circle cx="581.6" cy="255.8" r="6.1" fill="#b2e1f3"/><circle cx="581.6" cy="271.5" r="6.1" fill="#b4e2f2"/><circle cx="581.6" cy="287.2" r="6.1" fill="#c7e2f0"/><circle cx="581.6" cy="302.9" r="6.1" fill="#e6eaec"/><circle cx="581.6" cy="318.6" r="6.1" fill="#e9ebed"/><circle cx="581.6" cy="334.2" r="6.1" fill="#ededed"/><circle cx="581.6" cy="350.0" r="6.1" fill="#f7f7f7"/><circle cx="581.6" cy="365.6" r="6.1" fill="#fafafa"/><circle cx="581.6" cy="381.4" r="6.1" fill="#fcfcfc"/><circle cx="581.6" cy="397.1" r="6.1" fill="#fbfbfb"/><circle cx="581.6" cy="412.8" r="6.1" fill="#fafafa"/><circle cx="581.6" cy="428.5" r="6.1" fill="#fcfcfc"/><circle cx="595.2" cy="12.4" r="6.1" fill="#fafafa"/><circle cx="595.2" cy="28.1" r="6.1" fill="#fcfcfc"/><circle cx="595.2" cy="43.8" r="6.1" fill="#fbfbfb"/><circle cx="595.2" cy="59.5" r="6.1" fill="#f9f9f9"/><circle cx="595.2" cy="75.2" r="6.1" fill="#f8f8f8"/><circle cx="595.2" cy="90.9" r="6.1" fill="#f3f3f3"/><circle cx="595.2" cy="106.6" r="6.1" fill="#dde7ed"/><circle cx="595.2" cy="122.3" r="6.1" fill="#c7e2f0"/><circle cx="595.2" cy="138.0" r="6.1" fill="#b4e2f2"/><circle cx="595.2" cy="153.7" r="6.1" fill="#afe0f4"/><circle cx="595.2" cy="169.4" r="6.1" fill="#87bbe4"/><circle cx="595.2" cy="185.1" r="6.1" fill="#72a9d8"/><circle cx="595.2" cy="200.8" r="6.1" fill="#4f8cc8"/><circle cx="595.2" cy="216.5" r="6.1" fill="#3c7cc0"/><circle cx="595.2" cy="232.2" r="6.1" fill="#5b97cd"/><circle cx="595.2" cy="247.9" r="6.1" fill="#7eb4df"/><circle cx="595.2" cy="263.6" r="6.1" fill="#8ec2e6"/><circle cx="595.2" cy="279.3" r="6.1" fill="#b2e1f3"/><circle cx="595.2" cy="295.0" r="6.1" fill="#c0e2f0"/><circle cx="595.2" cy="310.7" r="6.1" fill="#dde7ed"/><circle cx="595.2" cy="326.4" r="6.1" fill="#e6eaec"/><circle cx="595.2" cy="342.1" r="6.1" fill="#f4f4f4"/><circle cx="595.2" cy="357.8" r="6.1" fill="#f7f7f7"/><circle cx="595.2" cy="373.5" r="6.1" fill="#f9f9f9"/><circle cx="595.2" cy="389.2" r="6.1" fill="#fbfbfb"/><circle cx="608.9" cy="4.6" r="6.1" fill="#fbfbfb"/><circle cx="608.9" cy="20.3" r="6.1" fill="#fafafa"/><circle cx="608.9" cy="36.0" r="6.1" fill="#fafafa"/><circle cx="608.9" cy="51.7" r="6.1" fill="#f8f8f8"/><circle cx="608.9" cy="67.3" r="6.1" fill="#f8f8f8"/><circle cx="608.9" cy="83.1" r="6.1" fill="#f1f1f1"/><circle cx="608.9" cy="98.8" r="6.1" fill="#dde7ed"/><circle cx="608.9" cy="114.5" r="6.1" fill="#c7e2f0"/><circle cx="608.9" cy="130.2" r="6.1" fill="#b4e2f2"/><circle cx="608.9" cy="145.8" r="6.1" fill="#afe0f4"/><circle cx="608.9" cy="161.5" r="6.1" fill="#5b97cd"/><circle cx="608.9" cy="177.2" r="6.1" fill="#1458a7"/><circle cx="608.9" cy="192.9" r="6.1" fill="#1d3f95"/><circle cx="608.9" cy="208.7" r="6.1" fill="#203d94"/><circle cx="608.9" cy="224.3" r="6.1" fill="#1d3f95"/><circle cx="608.9" cy="240.0" r="6.1" fill="#0e4a9e"/><circle cx="608.9" cy="255.8" r="6.1" fill="#3c7cc0"/><circle cx="608.9" cy="271.5" r="6.1" fill="#78aedb"/><circle cx="608.9" cy="287.2" r="6.1" fill="#a2d6ef"/><circle cx="608.9" cy="302.9" r="6.1" fill="#b2e1f3"/><circle cx="608.9" cy="318.6" r="6.1" fill="#c7e2f0"/><circle cx="608.9" cy="334.2" r="6.1" fill="#dde7ed"/><circle cx="608.9" cy="350.0" r="6.1" fill="#f1f1f1"/><circle cx="608.9" cy="365.6" r="6.1" fill="#f9f9f9"/><circle cx="608.9" cy="381.4" r="6.1" fill="#fafafa"/><circle cx="608.9" cy="397.1" r="6.1" fill="#fbfbfb"/><circle cx="608.9" cy="428.5" r="6.1" fill="#fcfcfc"/><circle cx="622.5" cy="12.4" r="6.1" fill="#fcfcfc"/><circle cx="622.5" cy="28.1" r="6.1" fill="#fafafa"/><circle cx="622.5" cy="43.8" r="6.1" fill="#fafafa"/><circle cx="622.5" cy="59.5" r="6.1" fill="#f8f8f8"/><circle cx="622.5" cy="75.2" r="6.1" fill="#f6f6f6"/><circle cx="622.5" cy="90.9" r="6.1" fill="#e9ebed"/><circle cx="622.5" cy="106.6" r="6.1" fill="#c7e2f0"/><circle cx="622.5" cy="122.3" r="6.1" fill="#b2e1f3"/><circle cx="622.5" cy="138.0" r="6.1" fill="#98ccea"/><circle cx="622.5" cy="153.7" r="6.1" fill="#4f8cc8"/><circle cx="622.5" cy="169.4" r="6.1" fill="#0e4a9e"/><circle cx="622.5" cy="185.1" r="6.1" fill="#323690"/><circle cx="622.5" cy="200.8" r="6.1" fill="#512d8f"/><circle cx="622.5" cy="216.5" r="6.1" fill="#3d338f"/><circle cx="622.5" cy="232.2" r="6.1" fill="#3d338f"/><circle cx="622.5" cy="247.9" r="6.1" fill="#1d3f95"/><circle cx="622.5" cy="263.6" r="6.1" fill="#2064b0"/><circle cx="622.5" cy="279.3" r="6.1" fill="#66a0d2"/><circle cx="622.5" cy="295.0" r="6.1" fill="#98ccea"/><circle cx="622.5" cy="310.7" r="6.1" fill="#b2e1f3"/><circle cx="622.5" cy="326.4" r="6.1" fill="#c7e2f0"/><circle cx="622.5" cy="342.1" r="6.1" fill="#eaebed"/><circle cx="622.5" cy="357.8" r="6.1" fill="#f6f6f6"/><circle cx="622.5" cy="373.5" r="6.1" fill="#f6f6f6"/><circle cx="622.5" cy="389.2" r="6.1" fill="#fbfbfb"/><circle cx="622.5" cy="404.9" r="6.1" fill="#f9f9f9"/><circle cx="622.5" cy="420.6" r="6.1" fill="#fafafa"/><circle cx="636.1" cy="4.6" r="6.1" fill="#fbfbfb"/><circle cx="636.1" cy="20.3" r="6.1" fill="#fcfcfc"/><circle cx="636.1" cy="36.0" r="6.1" fill="#fafafa"/><circle cx="636.1" cy="51.7" r="6.1" fill="#fafafa"/><circle cx="636.1" cy="67.3" r="6.1" fill="#f4f4f4"/><circle cx="636.1" cy="83.1" r="6.1" fill="#e6eaec"/><circle cx="636.1" cy="98.8" r="6.1" fill="#d7e5ed"/><circle cx="636.1" cy="114.5" r="6.1" fill="#b2e1f3"/><circle cx="636.1" cy="130.2" r="6.1" fill="#98ccea"/><circle cx="636.1" cy="145.8" r="6.1" fill="#4281c2"/><circle cx="636.1" cy="161.5" r="6.1" fill="#1d3f95"/><circle cx="636.1" cy="177.2" r="6.1" fill="#3d338f"/><circle cx="636.1" cy="192.9" r="6.1" fill="#931c8b"/><circle cx="636.1" cy="208.7" r="6.1" fill="#ac1686"/><circle cx="636.1" cy="224.3" r="6.1" fill="#a31888"/><circle cx="636.1" cy="240.0" r="6.1" fill="#5d2b90"/><circle cx="636.1" cy="255.8" r="6.1" fill="#293991"/><circle cx="636.1" cy="271.5" r="6.1" fill="#0e4a9e"/><circle cx="636.1" cy="287.2" r="6.1" fill="#4f8cc8"/><circle cx="636.1" cy="302.9" r="6.1" fill="#98ccea"/><circle cx="636.1" cy="318.6" r="6.1" fill="#b2e1f3"/><circle cx="636.1" cy="334.2" r="6.1" fill="#c0e2f0"/><circle cx="636.1" cy="350.0" r="6.1" fill="#ededed"/><circle cx="636.1" cy="365.6" r="6.1" fill="#f4f4f4"/><circle cx="636.1" cy="381.4" r="6.1" fill="#f9f9f9"/><circle cx="636.1" cy="397.1" r="6.1" fill="#fafafa"/><circle cx="636.1" cy="412.8" r="6.1" fill="#fafafa"/><circle cx="636.1" cy="428.5" r="6.1" fill="#fbfbfb"/><circle cx="649.6" cy="12.4" r="6.1" fill="#fafafa"/><circle cx="649.6" cy="28.1" r="6.1" fill="#f9f9f9"/><circle cx="649.6" cy="43.8" r="6.1" fill="#f9f9f9"/><circle cx="649.6" cy="59.5" r="6.1" fill="#f8f8f8"/><circle cx="649.6" cy="75.2" r="6.1" fill="#f1f1f1"/><circle cx="649.6" cy="90.9" r="6.1" fill="#e7eaec"/><circle cx="649.6" cy="106.6" r="6.1" fill="#bbe2f1"/><circle cx="649.6" cy="122.3" r="6.1" fill="#98ccea"/><circle cx="649.6" cy="138.0" r="6.1" fill="#4f8cc8"/><circle cx="649.6" cy="153.7" r="6.1" fill="#1d3f95"/><circle cx="649.6" cy="169.4" r="6.1" fill="#43318f"/><circle cx="649.6" cy="185.1" r="6.1" fill="#a31888"/><circle cx="649.6" cy="200.8" r="6.1" fill="#d10e72"/><circle cx="649.6" cy="216.5" r="6.1" fill="#e8073c"/><circle cx="649.6" cy="232.2" r="6.1" fill="#cc1080"/><circle cx="649.6" cy="247.9" r="6.1" fill="#8f1d8b"/><circle cx="649.6" cy="263.6" r="6.1" fill="#5d2b90"/><circle cx="649.6" cy="279.3" r="6.1" fill="#0e4a9e"/><circle cx="649.6" cy="295.0" r="6.1" fill="#5b97cd"/><circle cx="649.6" cy="310.7" r="6.1" fill="#98ccea"/><circle cx="649.6" cy="326.4" r="6.1" fill="#bbe2f1"/><circle cx="649.6" cy="342.1" r="6.1" fill="#d8e5ed"/><circle cx="649.6" cy="357.8" r="6.1" fill="#f3f3f3"/><circle cx="649.6" cy="373.5" r="6.1" fill="#f6f6f6"/><circle cx="649.6" cy="389.2" r="6.1" fill="#f9f9f9"/><circle cx="649.6" cy="404.9" r="6.1" fill="#fbfbfb"/><circle cx="649.6" cy="420.6" r="6.1" fill="#fbfbfb"/><circle cx="663.2" cy="4.6" r="6.1" fill="#fcfcfc"/><circle cx="663.2" cy="20.3" r="6.1" fill="#fcfcfc"/><circle cx="663.2" cy="36.0" r="6.1" fill="#fcfcfc"/><circle cx="663.2" cy="51.7" r="6.1" fill="#f8f8f8"/><circle cx="663.2" cy="67.3" r="6.1" fill="#f5f5f5"/><circle cx="663.2" cy="83.1" r="6.1" fill="#e5eaec"/><circle cx="663.2" cy="98.8" r="6.1" fill="#c7e2f0"/><circle cx="663.2" cy="114.5" r="6.1" fill="#98ccea"/><circle cx="663.2" cy="130.2" r="6.1" fill="#5b97cd"/><circle cx="663.2" cy="145.8" r="6.1" fill="#0e4a9e"/><circle cx="663.2" cy="161.5" r="6.1" fill="#43318f"/><circle cx="663.2" cy="177.2" r="6.1" fill="#9b1a8a"/><circle cx="663.2" cy="192.9" r="6.1" fill="#fc0107"/><circle cx="663.2" cy="208.7" r="6.1" fill="#ff2f1b"/><circle cx="663.2" cy="224.3" r="6.1" fill="#ff0000"/><circle cx="663.2" cy="240.0" r="6.1" fill="#e60841"/><circle cx="663.2" cy="255.8" r="6.1" fill="#971b8a"/><circle cx="663.2" cy="271.5" r="6.1" fill="#323690"/><circle cx="663.2" cy="287.2" r="6.1" fill="#0e4a9e"/><circle cx="663.2" cy="302.9" r="6.1" fill="#72a9d8"/><circle cx="663.2" cy="318.6" r="6.1" fill="#98ccea"/><circle cx="663.2" cy="334.2" r="6.1" fill="#bbe2f1"/><circle cx="663.2" cy="350.0" r="6.1" fill="#e4e9ec"/><circle cx="663.2" cy="365.6" r="6.1" fill="#f4f4f4"/><circle cx="663.2" cy="381.4" r="6.1" fill="#f7f7f7"/><circle cx="663.2" cy="397.1" r="6.1" fill="#fbfbfb"/><circle cx="663.2" cy="412.8" r="6.1" fill="#fbfbfb"/><circle cx="663.2" cy="428.5" r="6.1" fill="#fcfcfc"/><circle cx="676.9" cy="12.4" r="6.1" fill="#fbfbfb"/><circle cx="676.9" cy="28.1" r="6.1" fill="#f9f9f9"/><circle cx="676.9" cy="43.8" r="6.1" fill="#fbfbfb"/><circle cx="676.9" cy="59.5" r="6.1" fill="#f7f7f7"/><circle cx="676.9" cy="75.2" r="6.1" fill="#ececed"/><circle cx="676.9" cy="90.9" r="6.1" fill="#d6e5ee"/><circle cx="676.9" cy="106.6" r="6.1" fill="#b4e2f2"/><circle cx="676.9" cy="122.3" r="6.1" fill="#7eb4df"/><circle cx="676.9" cy="138.0" r="6.1" fill="#1458a7"/><circle cx="676.9" cy="153.7" r="6.1" fill="#283991"/><circle cx="676.9" cy="169.4" r="6.1" fill="#8f1d8b"/><circle cx="676.9" cy="185.1" r="6.1" fill="#e8073c"/><circle cx="676.9" cy="200.8" r="6.1" fill="#ff0000"/><circle cx="676.9" cy="216.5" r="6.1" fill="#ff5c29"/><circle cx="676.9" cy="232.2" r="6.1" fill="#f80315"/><circle cx="676.9" cy="247.9" r="6.1" fill="#cc1080"/><circle cx="676.9" cy="263.6" r="6.1" fill="#5d2b90"/><circle cx="676.9" cy="279.3" r="6.1" fill="#164498"/><circle cx="676.9" cy="295.0" r="6.1" fill="#4281c2"/><circle cx="676.9" cy="310.7" r="6.1" fill="#8ec2e6"/><circle cx="676.9" cy="326.4" r="6.1" fill="#b4e2f2"/><circle cx="676.9" cy="342.1" r="6.1" fill="#d4e5ee"/><circle cx="676.9" cy="357.8" r="6.1" fill="#efefef"/><circle cx="676.9" cy="373.5" r="6.1" fill="#f7f7f7"/><circle cx="676.9" cy="389.2" r="6.1" fill="#fcfcfc"/><circle cx="676.9" cy="404.9" r="6.1" fill="#fbfbfb"/><circle cx="690.5" cy="4.6" r="6.1" fill="#fafafa"/><circle cx="690.5" cy="36.0" r="6.1" fill="#fafafa"/><circle cx="690.5" cy="51.7" r="6.1" fill="#fbfbfb"/><circle cx="690.5" cy="67.3" r="6.1" fill="#f4f4f4"/><circle cx="690.5" cy="83.1" r="6.1" fill="#e1e8ec"/><circle cx="690.5" cy="98.8" r="6.1" fill="#c0e2f0"/><circle cx="690.5" cy="114.5" r="6.1" fill="#98ccea"/><circle cx="690.5" cy="130.2" r="6.1" fill="#66a0d2"/><circle cx="690.5" cy="145.8" r="6.1" fill="#0e4a9e"/><circle cx="690.5" cy="161.5" r="6.1" fill="#323690"/><circle cx="690.5" cy="177.2" r="6.1" fill="#a31888"/><circle cx="690.5" cy="192.9" r="6.1" fill="#e8073c"/><circle cx="690.5" cy="208.7" r="6.1" fill="#ff0000"/><circle cx="690.5" cy="224.3" r="6.1" fill="#f80315"/><circle cx="690.5" cy="240.0" r="6.1" fill="#d40d6c"/><circle cx="690.5" cy="255.8" r="6.1" fill="#8f1d8b"/><circle cx="690.5" cy="271.5" r="6.1" fill="#293991"/><circle cx="690.5" cy="287.2" r="6.1" fill="#1458a7"/><circle cx="690.5" cy="302.9" r="6.1" fill="#72a9d8"/><circle cx="690.5" cy="318.6" r="6.1" fill="#afe0f4"/><circle cx="690.5" cy="334.2" r="6.1" fill="#c0e2f0"/><circle cx="690.5" cy="350.0" r="6.1" fill="#e6eaec"/><circle cx="690.5" cy="365.6" r="6.1" fill="#f5f5f5"/><circle cx="690.5" cy="381.4" r="6.1" fill="#f9f9f9"/><circle cx="690.5" cy="397.1" r="6.1" fill="#fafafa"/><circle cx="690.5" cy="412.8" r="6.1" fill="#fafafa"/><circle cx="690.5" cy="428.5" r="6.1" fill="#fcfcfc"/><circle cx="704.1" cy="12.4" r="6.1" fill="#fbfbfb"/><circle cx="704.1" cy="28.1" r="6.1" fill="#f9f9f9"/><circle cx="704.1" cy="43.8" r="6.1" fill="#f9f9f9"/><circle cx="704.1" cy="59.5" r="6.1" fill="#f5f5f5"/><circle cx="704.1" cy="75.2" r="6.1" fill="#eeeeee"/><circle cx="704.1" cy="90.9" r="6.1" fill="#e1e8ec"/><circle cx="704.1" cy="106.6" r="6.1" fill="#bbe2f1"/><circle cx="704.1" cy="122.3" r="6.1" fill="#8ec2e6"/><circle cx="704.1" cy="138.0" r="6.1" fill="#3c7cc0"/><circle cx="704.1" cy="153.7" r="6.1" fill="#1a4096"/><circle cx="704.1" cy="169.4" r="6.1" fill="#43318f"/><circle cx="704.1" cy="185.1" r="6.1" fill="#931c8b"/><circle cx="704.1" cy="200.8" r="6.1" fill="#d60d65"/><circle cx="704.1" cy="216.5" r="6.1" fill="#e8073c"/><circle cx="704.1" cy="232.2" r="6.1" fill="#b81484"/><circle cx="704.1" cy="247.9" r="6.1" fill="#7a228e"/><circle cx="704.1" cy="263.6" r="6.1" fill="#293991"/><circle cx="704.1" cy="279.3" r="6.1" fill="#3374bb"/><circle cx="704.1" cy="295.0" r="6.1" fill="#66a0d2"/><circle cx="704.1" cy="310.7" r="6.1" fill="#afe0f4"/><circle cx="704.1" cy="326.4" r="6.1" fill="#c0e2f0"/><circle cx="704.1" cy="342.1" r="6.1" fill="#e4e9ec"/><circle cx="704.1" cy="357.8" r="6.1" fill="#efefef"/><circle cx="704.1" cy="373.5" r="6.1" fill="#f7f7f7"/><circle cx="704.1" cy="389.2" r="6.1" fill="#fbfbfb"/><circle cx="704.1" cy="404.9" r="6.1" fill="#fbfbfb"/><circle cx="704.1" cy="420.6" r="6.1" fill="#fcfcfc"/><circle cx="717.6" cy="4.6" r="6.1" fill="#fafafa"/><circle cx="717.6" cy="20.3" r="6.1" fill="#fcfcfc"/><circle cx="717.6" cy="36.0" r="6.1" fill="#fbfbfb"/><circle cx="717.6" cy="51.7" r="6.1" fill="#f8f8f8"/><circle cx="717.6" cy="67.3" r="6.1" fill="#f5f5f5"/><circle cx="717.6" cy="83.1" r="6.1" fill="#f0f0f0"/><circle cx="717.6" cy="98.8" r="6.1" fill="#d7e5ed"/><circle cx="717.6" cy="114.5" r="6.1" fill="#b4e2f2"/><circle cx="717.6" cy="130.2" r="6.1" fill="#7eb4df"/><circle cx="717.6" cy="145.8" r="6.1" fill="#4281c2"/><circle cx="717.6" cy="161.5" r="6.1" fill="#1d3f95"/><circle cx="717.6" cy="177.2" r="6.1" fill="#323690"/><circle cx="717.6" cy="192.9" r="6.1" fill="#6c268f"/><circle cx="717.6" cy="208.7" r="6.1" fill="#7a228e"/><circle cx="717.6" cy="224.3" r="6.1" fill="#7a228e"/><circle cx="717.6" cy="240.0" r="6.1" fill="#5d2b90"/><circle cx="717.6" cy="255.8" r="6.1" fill="#283991"/><circle cx="717.6" cy="271.5" r="6.1" fill="#1458a7"/><circle cx="717.6" cy="287.2" r="6.1" fill="#66a0d2"/><circle cx="717.6" cy="302.9" r="6.1" fill="#98ccea"/><circle cx="717.6" cy="318.6" r="6.1" fill="#b4e2f2"/><circle cx="717.6" cy="334.2" r="6.1" fill="#d7e5ed"/><circle cx="717.6" cy="350.0" r="6.1" fill="#e6eaec"/><circle cx="717.6" cy="365.6" r="6.1" fill="#f6f6f6"/><circle cx="717.6" cy="381.4" r="6.1" fill="#fbfbfb"/><circle cx="717.6" cy="397.1" r="6.1" fill="#fafafa"/><circle cx="717.6" cy="412.8" r="6.1" fill="#fbfbfb"/><circle cx="717.6" cy="428.5" r="6.1" fill="#fbfbfb"/><circle cx="731.2" cy="12.4" r="6.1" fill="#fbfbfb"/><circle cx="731.2" cy="28.1" r="6.1" fill="#fafafa"/><circle cx="731.2" cy="43.8" r="6.1" fill="#fafafa"/><circle cx="731.2" cy="59.5" r="6.1" fill="#f8f8f8"/><circle cx="731.2" cy="75.2" r="6.1" fill="#f3f3f3"/><circle cx="731.2" cy="90.9" r="6.1" fill="#eaeced"/><circle cx="731.2" cy="106.6" r="6.1" fill="#c7e2f0"/><circle cx="731.2" cy="122.3" r="6.1" fill="#b2e1f3"/><circle cx="731.2" cy="138.0" r="6.1" fill="#8ec2e6"/><circle cx="731.2" cy="153.7" r="6.1" fill="#66a0d2"/><circle cx="731.2" cy="169.4" r="6.1" fill="#0e4a9e"/><circle cx="731.2" cy="185.1" r="6.1" fill="#293991"/><circle cx="731.2" cy="200.8" r="6.1" fill="#293991"/><circle cx="731.2" cy="216.5" r="6.1" fill="#323690"/><circle cx="731.2" cy="232.2" r="6.1" fill="#283991"/><circle cx="731.2" cy="247.9" r="6.1" fill="#1a4096"/><circle cx="731.2" cy="263.6" r="6.1" fill="#2064b0"/><circle cx="731.2" cy="279.3" r="6.1" fill="#66a0d2"/><circle cx="731.2" cy="295.0" r="6.1" fill="#87bbe4"/><circle cx="731.2" cy="310.7" r="6.1" fill="#c0e2f0"/><circle cx="731.2" cy="326.4" r="6.1" fill="#d7e5ed"/><circle cx="731.2" cy="342.1" r="6.1" fill="#eceded"/><circle cx="731.2" cy="357.8" r="6.1" fill="#f7f7f7"/><circle cx="731.2" cy="373.5" r="6.1" fill="#f7f7f7"/><circle cx="731.2" cy="389.2" r="6.1" fill="#f9f9f9"/><circle cx="731.2" cy="404.9" r="6.1" fill="#fbfbfb"/><circle cx="731.2" cy="420.6" r="6.1" fill="#fbfbfb"/><circle cx="744.9" cy="4.6" r="6.1" fill="#fbfbfb"/><circle cx="744.9" cy="20.3" r="6.1" fill="#fbfbfb"/><circle cx="744.9" cy="36.0" r="6.1" fill="#fafafa"/><circle cx="744.9" cy="51.7" r="6.1" fill="#fafafa"/><circle cx="744.9" cy="67.3" r="6.1" fill="#f9f9f9"/><circle cx="744.9" cy="83.1" r="6.1" fill="#f2f2f2"/><circle cx="744.9" cy="98.8" r="6.1" fill="#e9ebed"/><circle cx="744.9" cy="114.5" r="6.1" fill="#e2e8ec"/><circle cx="744.9" cy="130.2" r="6.1" fill="#c0e2f0"/><circle cx="744.9" cy="145.8" r="6.1" fill="#a2d6ef"/><circle cx="744.9" cy="161.5" r="6.1" fill="#72a9d8"/><circle cx="744.9" cy="177.2" r="6.1" fill="#4f8cc8"/><circle cx="744.9" cy="192.9" r="6.1" fill="#0e4a9e"/><circle cx="744.9" cy="208.7" r="6.1" fill="#0e4a9e"/><circle cx="744.9" cy="224.3" r="6.1" fill="#0e4a9e"/><circle cx="744.9" cy="240.0" r="6.1" fill="#3374bb"/><circle cx="744.9" cy="255.8" r="6.1" fill="#4f8cc8"/><circle cx="744.9" cy="271.5" r="6.1" fill="#66a0d2"/><circle cx="744.9" cy="287.2" r="6.1" fill="#afe0f4"/><circle cx="744.9" cy="302.9" r="6.1" fill="#bbe2f1"/><circle cx="744.9" cy="318.6" r="6.1" fill="#d7e5ed"/><circle cx="744.9" cy="334.2" r="6.1" fill="#e6eaec"/><circle cx="744.9" cy="350.0" r="6.1" fill="#f3f3f3"/><circle cx="744.9" cy="365.6" r="6.1" fill="#f9f9f9"/><circle cx="744.9" cy="381.4" r="6.1" fill="#fbfbfb"/><circle cx="744.9" cy="397.1" r="6.1" fill="#fbfbfb"/><circle cx="744.9" cy="412.8" r="6.1" fill="#fbfbfb"/><circle cx="758.5" cy="12.4" r="6.1" fill="#fbfbfb"/><circle cx="758.5" cy="28.1" r="6.1" fill="#fafafa"/><circle cx="758.5" cy="43.8" r="6.1" fill="#fbfbfb"/><circle cx="758.5" cy="59.5" r="6.1" fill="#fbfbfb"/><circle cx="758.5" cy="75.2" r="6.1" fill="#f6f6f6"/><circle cx="758.5" cy="90.9" r="6.1" fill="#f3f3f3"/><circle cx="758.5" cy="106.6" r="6.1" fill="#e6eaec"/><circle cx="758.5" cy="122.3" r="6.1" fill="#e2e8ec"/><circle cx="758.5" cy="138.0" r="6.1" fill="#c7e2f0"/><circle cx="758.5" cy="153.7" r="6.1" fill="#b4e2f2"/><circle cx="758.5" cy="169.4" r="6.1" fill="#a2d6ef"/><circle cx="758.5" cy="185.1" r="6.1" fill="#72a9d8"/><circle cx="758.5" cy="200.8" r="6.1" fill="#5b97cd"/><circle cx="758.5" cy="216.5" r="6.1" fill="#5b97cd"/><circle cx="758.5" cy="232.2" r="6.1" fill="#66a0d2"/><circle cx="758.5" cy="247.9" r="6.1" fill="#78aedb"/><circle cx="758.5" cy="263.6" r="6.1" fill="#8ec2e6"/><circle cx="758.5" cy="279.3" r="6.1" fill="#afe0f4"/><circle cx="758.5" cy="295.0" r="6.1" fill="#bbe2f1"/><circle cx="758.5" cy="310.7" r="6.1" fill="#dde7ed"/><circle cx="758.5" cy="326.4" r="6.1" fill="#e6eaec"/><circle cx="758.5" cy="342.1" r="6.1" fill="#f3f3f3"/><circle cx="758.5" cy="357.8" r="6.1" fill="#f8f8f8"/><circle cx="758.5" cy="373.5" r="6.1" fill="#fbfbfb"/><circle cx="758.5" cy="389.2" r="6.1" fill="#fafafa"/><circle cx="758.5" cy="404.9" r="6.1" fill="#f9f9f9"/><circle cx="758.5" cy="420.6" r="6.1" fill="#fafafa"/><circle cx="772.1" cy="4.6" r="6.1" fill="#fcfcfc"/><circle cx="772.1" cy="20.3" r="6.1" fill="#fcfcfc"/><circle cx="772.1" cy="36.0" r="6.1" fill="#fbfbfb"/><circle cx="772.1" cy="51.7" r="6.1" fill="#fafafa"/><circle cx="772.1" cy="67.3" r="6.1" fill="#f8f8f8"/><circle cx="772.1" cy="83.1" r="6.1" fill="#f8f8f8"/><circle cx="772.1" cy="98.8" r="6.1" fill="#f2f2f2"/><circle cx="772.1" cy="114.5" r="6.1" fill="#e9ebed"/><circle cx="772.1" cy="130.2" r="6.1" fill="#e2e8ec"/><circle cx="772.1" cy="145.8" r="6.1" fill="#d7e5ed"/><circle cx="772.1" cy="161.5" r="6.1" fill="#c0e2f0"/><circle cx="772.1" cy="177.2" r="6.1" fill="#b4e2f2"/><circle cx="772.1" cy="192.9" r="6.1" fill="#8ec2e6"/><circle cx="772.1" cy="208.7" r="6.1" fill="#98ccea"/><circle cx="772.1" cy="224.3" r="6.1" fill="#98ccea"/><circle cx="772.1" cy="240.0" r="6.1" fill="#98ccea"/><circle cx="772.1" cy="255.8" r="6.1" fill="#b2e1f3"/><circle cx="772.1" cy="271.5" r="6.1" fill="#b4e2f2"/><circle cx="772.1" cy="287.2" r="6.1" fill="#c7e2f0"/><circle cx="772.1" cy="302.9" r="6.1" fill="#e2e8ec"/><circle cx="772.1" cy="318.6" r="6.1" fill="#ededed"/><circle cx="772.1" cy="334.2" r="6.1" fill="#f2f2f2"/><circle cx="772.1" cy="350.0" r="6.1" fill="#f6f6f6"/><circle cx="772.1" cy="365.6" r="6.1" fill="#f9f9f9"/><circle cx="772.1" cy="381.4" r="6.1" fill="#fbfbfb"/><circle cx="772.1" cy="397.1" r="6.1" fill="#fbfbfb"/><circle cx="772.1" cy="428.5" r="6.1" fill="#fcfcfc"/><circle cx="785.6" cy="28.1" r="6.1" fill="#fcfcfc"/><circle cx="785.6" cy="43.8" r="6.1" fill="#fbfbfb"/><circle cx="785.6" cy="59.5" r="6.1" fill="#fbfbfb"/><circle cx="785.6" cy="75.2" r="6.1" fill="#fafafa"/><circle cx="785.6" cy="90.9" r="6.1" fill="#f7f7f7"/><circle cx="785.6" cy="106.6" r="6.1" fill="#f2f2f2"/><circle cx="785.6" cy="122.3" r="6.1" fill="#ededed"/><circle cx="785.6" cy="138.0" r="6.1" fill="#e9ebed"/><circle cx="785.6" cy="153.7" r="6.1" fill="#e2e8ec"/><circle cx="785.6" cy="169.4" r="6.1" fill="#c7e2f0"/><circle cx="785.6" cy="185.1" r="6.1" fill="#c7e2f0"/><circle cx="785.6" cy="200.8" r="6.1" fill="#c0e2f0"/><circle cx="785.6" cy="216.5" r="6.1" fill="#b4e2f2"/><circle cx="785.6" cy="232.2" r="6.1" fill="#bbe2f1"/><circle cx="785.6" cy="247.9" r="6.1" fill="#c0e2f0"/><circle cx="785.6" cy="263.6" r="6.1" fill="#c7e2f0"/><circle cx="785.6" cy="279.3" r="6.1" fill="#dde7ed"/><circle cx="785.6" cy="295.0" r="6.1" fill="#ededed"/><circle cx="785.6" cy="310.7" r="6.1" fill="#f5f5f5"/><circle cx="785.6" cy="326.4" r="6.1" fill="#f7f7f7"/><circle cx="785.6" cy="342.1" r="6.1" fill="#f7f7f7"/><circle cx="785.6" cy="357.8" r="6.1" fill="#fbfbfb"/><circle cx="785.6" cy="373.5" r="6.1" fill="#f9f9f9"/><circle cx="785.6" cy="389.2" r="6.1" fill="#fbfbfb"/><circle cx="785.6" cy="404.9" r="6.1" fill="#fbfbfb"/><circle cx="785.6" cy="420.6" r="6.1" fill="#fbfbfb"/><circle cx="799.2" cy="4.6" r="6.1" fill="#fcfcfc"/><circle cx="799.2" cy="20.3" r="6.1" fill="#fbfbfb"/><circle cx="799.2" cy="36.0" r="6.1" fill="#fcfcfc"/><circle cx="799.2" cy="51.7" r="6.1" fill="#fcfcfc"/><circle cx="799.2" cy="67.3" r="6.1" fill="#fcfcfc"/><circle cx="799.2" cy="83.1" r="6.1" fill="#fafafa"/><circle cx="799.2" cy="98.8" r="6.1" fill="#f9f9f9"/><circle cx="799.2" cy="114.5" r="6.1" fill="#f7f7f7"/><circle cx="799.2" cy="130.2" r="6.1" fill="#f4f4f4"/><circle cx="799.2" cy="145.8" r="6.1" fill="#eeeeee"/><circle cx="799.2" cy="161.5" r="6.1" fill="#e3e9ec"/><circle cx="799.2" cy="177.2" r="6.1" fill="#d9e6ed"/><circle cx="799.2" cy="192.9" r="6.1" fill="#dbe6ed"/><circle cx="799.2" cy="208.7" r="6.1" fill="#d4e5ee"/><circle cx="799.2" cy="224.3" r="6.1" fill="#e2e8ec"/><circle cx="799.2" cy="240.0" r="6.1" fill="#e1e8ec"/><circle cx="799.2" cy="255.8" r="6.1" fill="#e3e9ec"/><circle cx="799.2" cy="271.5" r="6.1" fill="#eaebed"/><circle cx="799.2" cy="287.2" r="6.1" fill="#ebeced"/><circle cx="799.2" cy="302.9" r="6.1" fill="#f7f7f7"/><circle cx="799.2" cy="318.6" r="6.1" fill="#f6f6f6"/><circle cx="799.2" cy="334.2" r="6.1" fill="#f8f8f8"/><circle cx="799.2" cy="350.0" r="6.1" fill="#f8f8f8"/><circle cx="799.2" cy="365.6" r="6.1" fill="#fbfbfb"/><circle cx="799.2" cy="381.4" r="6.1" fill="#fbfbfb"/><circle cx="799.2" cy="397.1" r="6.1" fill="#fafafa"/><circle cx="799.2" cy="412.8" r="6.1" fill="#fbfbfb"/><circle cx="812.9" cy="12.4" r="6.1" fill="#fcfcfc"/><circle cx="812.9" cy="43.8" r="6.1" fill="#fbfbfb"/><circle cx="812.9" cy="59.5" r="6.1" fill="#fbfbfb"/><circle cx="812.9" cy="75.2" r="6.1" fill="#fafafa"/><circle cx="812.9" cy="90.9" r="6.1" fill="#fafafa"/><circle cx="812.9" cy="106.6" r="6.1" fill="#f8f8f8"/><circle cx="812.9" cy="122.3" r="6.1" fill="#f6f6f6"/><circle cx="812.9" cy="138.0" r="6.1" fill="#f7f7f7"/><circle cx="812.9" cy="153.7" r="6.1" fill="#f2f2f2"/><circle cx="812.9" cy="169.4" r="6.1" fill="#ededed"/><circle cx="812.9" cy="185.1" r="6.1" fill="#eceded"/><circle cx="812.9" cy="200.8" r="6.1" fill="#eceded"/><circle cx="812.9" cy="216.5" r="6.1" fill="#e8ebed"/><circle cx="812.9" cy="232.2" r="6.1" fill="#e8ebed"/><circle cx="812.9" cy="247.9" r="6.1" fill="#e9ebed"/><circle cx="812.9" cy="263.6" r="6.1" fill="#f4f4f4"/><circle cx="812.9" cy="279.3" r="6.1" fill="#f4f4f4"/><circle cx="812.9" cy="295.0" r="6.1" fill="#f3f3f3"/><circle cx="812.9" cy="310.7" r="6.1" fill="#f6f6f6"/><circle cx="812.9" cy="326.4" r="6.1" fill="#fafafa"/><circle cx="812.9" cy="342.1" r="6.1" fill="#fbfbfb"/><circle cx="812.9" cy="357.8" r="6.1" fill="#fbfbfb"/><circle cx="812.9" cy="373.5" r="6.1" fill="#fcfcfc"/><circle cx="812.9" cy="389.2" r="6.1" fill="#fcfcfc"/><circle cx="812.9" cy="404.9" r="6.1" fill="#fcfcfc"/><circle cx="826.5" cy="4.6" r="6.1" fill="#fcfcfc"/><circle cx="826.5" cy="20.3" r="6.1" fill="#fcfcfc"/><circle cx="826.5" cy="51.7" r="6.1" fill="#fcfcfc"/><circle cx="826.5" cy="83.1" r="6.1" fill="#fbfbfb"/><circle cx="826.5" cy="98.8" r="6.1" fill="#fafafa"/><circle cx="826.5" cy="114.5" r="6.1" fill="#fbfbfb"/><circle cx="826.5" cy="130.2" r="6.1" fill="#f9f9f9"/><circle cx="826.5" cy="145.8" r="6.1" fill="#f7f7f7"/><circle cx="826.5" cy="161.5" r="6.1" fill="#f5f5f5"/><circle cx="826.5" cy="177.2" r="6.1" fill="#f7f7f7"/><circle cx="826.5" cy="192.9" r="6.1" fill="#f4f4f4"/><circle cx="826.5" cy="208.7" r="6.1" fill="#f6f6f6"/><circle cx="826.5" cy="224.3" r="6.1" fill="#f6f6f6"/><circle cx="826.5" cy="240.0" r="6.1" fill="#f2f2f2"/><circle cx="826.5" cy="255.8" r="6.1" fill="#f4f4f4"/><circle cx="826.5" cy="271.5" r="6.1" fill="#f5f5f5"/><circle cx="826.5" cy="287.2" r="6.1" fill="#f7f7f7"/><circle cx="826.5" cy="302.9" r="6.1" fill="#fafafa"/><circle cx="826.5" cy="318.6" r="6.1" fill="#fafafa"/><circle cx="826.5" cy="334.2" r="6.1" fill="#fbfbfb"/><circle cx="826.5" cy="350.0" r="6.1" fill="#fafafa"/><circle cx="826.5" cy="381.4" r="6.1" fill="#fbfbfb"/><circle cx="826.5" cy="397.1" r="6.1" fill="#fcfcfc"/><circle cx="826.5" cy="412.8" r="6.1" fill="#fbfbfb"/><circle cx="826.5" cy="428.5" r="6.1" fill="#fbfbfb"/><circle cx="840.0" cy="28.1" r="6.1" fill="#fbfbfb"/><circle cx="840.0" cy="43.8" r="6.1" fill="#fbfbfb"/><circle cx="840.0" cy="75.2" r="6.1" fill="#fafafa"/><circle cx="840.0" cy="90.9" r="6.1" fill="#fcfcfc"/><circle cx="840.0" cy="106.6" r="6.1" fill="#fcfcfc"/><circle cx="840.0" cy="122.3" r="6.1" fill="#fafafa"/><circle cx="840.0" cy="138.0" r="6.1" fill="#fbfbfb"/><circle cx="840.0" cy="153.7" r="6.1" fill="#f9f9f9"/><circle cx="840.0" cy="169.4" r="6.1" fill="#f9f9f9"/><circle cx="840.0" cy="185.1" r="6.1" fill="#f9f9f9"/><circle cx="840.0" cy="200.8" r="6.1" fill="#f5f5f5"/><circle cx="840.0" cy="216.5" r="6.1" fill="#f5f5f5"/><circle cx="840.0" cy="232.2" r="6.1" fill="#f7f7f7"/><circle cx="840.0" cy="247.9" r="6.1" fill="#f6f6f6"/><circle cx="840.0" cy="263.6" r="6.1" fill="#f9f9f9"/><circle cx="840.0" cy="279.3" r="6.1" fill="#f9f9f9"/><circle cx="840.0" cy="295.0" r="6.1" fill="#fafafa"/><circle cx="840.0" cy="310.7" r="6.1" fill="#fcfcfc"/><circle cx="840.0" cy="326.4" r="6.1" fill="#fbfbfb"/><circle cx="840.0" cy="342.1" r="6.1" fill="#fcfcfc"/><circle cx="840.0" cy="357.8" r="6.1" fill="#fbfbfb"/><circle cx="840.0" cy="373.5" r="6.1" fill="#fbfbfb"/><circle cx="840.0" cy="404.9" r="6.1" fill="#fbfbfb"/><circle cx="840.0" cy="420.6" r="6.1" fill="#fbfbfb"/><circle cx="853.6" cy="4.6" r="6.1" fill="#fafafa"/><circle cx="853.6" cy="20.3" r="6.1" fill="#fcfcfc"/><circle cx="853.6" cy="36.0" r="6.1" fill="#fcfcfc"/><circle cx="853.6" cy="67.3" r="6.1" fill="#fbfbfb"/><circle cx="853.6" cy="83.1" r="6.1" fill="#fcfcfc"/><circle cx="853.6" cy="98.8" r="6.1" fill="#fbfbfb"/><circle cx="853.6" cy="114.5" r="6.1" fill="#f9f9f9"/><circle cx="853.6" cy="130.2" r="6.1" fill="#fafafa"/><circle cx="853.6" cy="145.8" r="6.1" fill="#fbfbfb"/><circle cx="853.6" cy="161.5" r="6.1" fill="#fafafa"/><circle cx="853.6" cy="177.2" r="6.1" fill="#fafafa"/><circle cx="853.6" cy="192.9" r="6.1" fill="#fafafa"/><circle cx="853.6" cy="208.7" r="6.1" fill="#fafafa"/><circle cx="853.6" cy="224.3" r="6.1" fill="#fafafa"/><circle cx="853.6" cy="240.0" r="6.1" fill="#f9f9f9"/><circle cx="853.6" cy="255.8" r="6.1" fill="#f9f9f9"/><circle cx="853.6" cy="271.5" r="6.1" fill="#fafafa"/><circle cx="853.6" cy="287.2" r="6.1" fill="#fbfbfb"/><circle cx="853.6" cy="302.9" r="6.1" fill="#fbfbfb"/><circle cx="853.6" cy="318.6" r="6.1" fill="#fbfbfb"/><circle cx="853.6" cy="334.2" r="6.1" fill="#fcfcfc"/><circle cx="853.6" cy="365.6" r="6.1" fill="#fcfcfc"/><circle cx="853.6" cy="397.1" r="6.1" fill="#fbfbfb"/><circle cx="853.6" cy="412.8" r="6.1" fill="#fbfbfb"/><circle cx="853.6" cy="428.5" r="6.1" fill="#fbfbfb"/><circle cx="867.2" cy="28.1" r="6.1" fill="#fcfcfc"/><circle cx="867.2" cy="43.8" r="6.1" fill="#fbfbfb"/><circle cx="867.2" cy="59.5" r="6.1" fill="#fcfcfc"/><circle cx="867.2" cy="90.9" r="6.1" fill="#fcfcfc"/><circle cx="867.2" cy="122.3" r="6.1" fill="#fafafa"/><circle cx="867.2" cy="138.0" r="6.1" fill="#fbfbfb"/><circle cx="867.2" cy="153.7" r="6.1" fill="#fcfcfc"/><circle cx="867.2" cy="169.4" r="6.1" fill="#fafafa"/><circle cx="867.2" cy="185.1" r="6.1" fill="#fafafa"/><circle cx="867.2" cy="200.8" r="6.1" fill="#fafafa"/><circle cx="867.2" cy="216.5" r="6.1" fill="#fafafa"/><circle cx="867.2" cy="232.2" r="6.1" fill="#f9f9f9"/><circle cx="867.2" cy="247.9" r="6.1" fill="#fbfbfb"/><circle cx="867.2" cy="263.6" r="6.1" fill="#fafafa"/><circle cx="867.2" cy="279.3" r="6.1" fill="#fbfbfb"/><circle cx="867.2" cy="295.0" r="6.1" fill="#fcfcfc"/><circle cx="867.2" cy="310.7" r="6.1" fill="#fcfcfc"/><circle cx="867.2" cy="342.1" r="6.1" fill="#fbfbfb"/><circle cx="867.2" cy="373.5" r="6.1" fill="#fbfbfb"/><circle cx="867.2" cy="389.2" r="6.1" fill="#fcfcfc"/><circle cx="867.2" cy="404.9" r="6.1" fill="#fafafa"/><circle cx="867.2" cy="420.6" r="6.1" fill="#fafafa"/><circle cx="880.9" cy="4.6" r="6.1" fill="#fcfcfc"/><circle cx="880.9" cy="20.3" r="6.1" fill="#fcfcfc"/><circle cx="880.9" cy="36.0" r="6.1" fill="#fcfcfc"/><circle cx="880.9" cy="67.3" r="6.1" fill="#fafafa"/><circle cx="880.9" cy="83.1" r="6.1" fill="#fbfbfb"/><circle cx="880.9" cy="98.8" r="6.1" fill="#fcfcfc"/><circle cx="880.9" cy="130.2" r="6.1" fill="#fcfcfc"/><circle cx="880.9" cy="145.8" r="6.1" fill="#fbfbfb"/><circle cx="880.9" cy="161.5" r="6.1" fill="#fafafa"/><circle cx="880.9" cy="192.9" r="6.1" fill="#fafafa"/><circle cx="880.9" cy="224.3" r="6.1" fill="#fbfbfb"/><circle cx="880.9" cy="240.0" r="6.1" fill="#fcfcfc"/><circle cx="880.9" cy="255.8" r="6.1" fill="#fcfcfc"/><circle cx="880.9" cy="287.2" r="6.1" fill="#fbfbfb"/><circle cx="880.9" cy="302.9" r="6.1" fill="#fbfbfb"/><circle cx="880.9" cy="350.0" r="6.1" fill="#fcfcfc"/><circle cx="880.9" cy="365.6" r="6.1" fill="#fcfcfc"/><circle cx="880.9" cy="397.1" r="6.1" fill="#fbfbfb"/><circle cx="880.9" cy="412.8" r="6.1" fill="#fcfcfc"/></g>
<rect x="5.05" y="10.7" width="417.75" height="417.4" fill="none" stroke="#000" stroke-width="2"/>
<rect x="470.1" y="10.0" width="417.7" height="418.1" fill="none" stroke="#000" stroke-width="2"/>
<text transform="translate(18.8,39.5) scale(1.1,1)" font-family="Liberation Sans, sans-serif" font-size="33" font-weight="bold">a</text>
<text transform="translate(481.4,44.5) scale(1.1,1)" font-family="Liberation Sans, sans-serif" font-size="33" font-weight="bold">b</text>
<text transform="translate(3.4,469.5) scale(1.1,1)" font-family="Liberation Sans, sans-serif" font-size="33" font-weight="bold">c</text>
<text transform="translate(510.65,486.5) scale(1.1,1)" font-family="Liberation Sans, sans-serif" font-size="33" font-weight="bold">d</text>
<text transform="translate(3.7,984.2) scale(1.1,1)" font-family="Liberation Sans, sans-serif" font-size="33" font-weight="bold">e</text>
<text transform="translate(510.4,985.8) scale(1.1,1)" font-family="Liberation Sans, sans-serif" font-size="33" font-weight="bold">f</text>
<rect x="381.3" y="412.4" width="23.599999999999966" height="4.300000000000011" fill="#000"/><text x="351.2" y="398.9" font-family="Liberation Sans, sans-serif" font-size="25">1 μ</text><text transform="translate(387.4,398.9) scale(1.12,1)" font-family="Liberation Sans, sans-serif" font-size="25">m</text>
<rect x="846.5" y="412.4" width="23.59999999999991" height="4.300000000000011" fill="#000"/><text x="816.4" y="398.9" font-family="Liberation Sans, sans-serif" font-size="25">1 μ</text><text transform="translate(852.6,398.9) scale(1.12,1)" font-family="Liberation Sans, sans-serif" font-size="25">m</text>
<defs><linearGradient id="g1" x1="0" y1="0" x2="0" y2="1"><stop offset="0.0000" stop-color="#ff6a2e"/><stop offset="0.0479" stop-color="#ff4a22"/><stop offset="0.1014" stop-color="#ff2418"/><stop offset="0.1429" stop-color="#ff0000"/><stop offset="0.1914" stop-color="#ee0630"/><stop offset="0.2350" stop-color="#de0a50"/><stop offset="0.2857" stop-color="#cc1080"/><stop offset="0.3221" stop-color="#b81484"/><stop offset="0.3729" stop-color="#9a1a8a"/><stop offset="0.4286" stop-color="#7a228e"/><stop offset="0.4814" stop-color="#602a90"/><stop offset="0.5257" stop-color="#46308f"/><stop offset="0.5414" stop-color="#38348f"/><stop offset="0.5714" stop-color="#2c3890"/><stop offset="0.6050" stop-color="#263a92"/><stop offset="0.6357" stop-color="#1a4096"/><stop offset="0.6643" stop-color="#0a4ea0"/><stop offset="0.6879" stop-color="#1a5eac"/><stop offset="0.7143" stop-color="#3c7cc0"/><stop offset="0.7486" stop-color="#5a96cc"/><stop offset="0.7743" stop-color="#6ea6d6"/><stop offset="0.8043" stop-color="#88bce4"/><stop offset="0.8307" stop-color="#a0d4ee"/><stop offset="0.8393" stop-color="#aee0f4"/><stop offset="0.8571" stop-color="#b4e2f2"/><stop offset="0.8893" stop-color="#c4e2f0"/><stop offset="0.9071" stop-color="#d2e4ee"/><stop offset="0.9286" stop-color="#e2e8ec"/><stop offset="0.9500" stop-color="#ededed"/><stop offset="0.9643" stop-color="#f3f3f3"/><stop offset="0.9857" stop-color="#f9f9f9"/><stop offset="1.0000" stop-color="#fdfdfd"/></linearGradient></defs>
<rect x="911.2" y="10.6" width="26.6" height="417.29999999999995" fill="url(#g1)" stroke="#000" stroke-width="2"/>
<text x="943.4" y="434.9" font-family="Liberation Sans, sans-serif" font-size="25" text-anchor="start" >0</text>
<line x1="933.5" y1="368.3" x2="937.8" y2="368.3" stroke="#000" stroke-width="1.6"/>
<text x="943.4" y="375.3" font-family="Liberation Sans, sans-serif" font-size="25" text-anchor="start" >200</text>
<line x1="933.5" y1="308.7" x2="937.8" y2="308.7" stroke="#000" stroke-width="1.6"/>
<text x="943.4" y="315.7" font-family="Liberation Sans, sans-serif" font-size="25" text-anchor="start" >400</text>
<line x1="933.5" y1="249.1" x2="937.8" y2="249.1" stroke="#000" stroke-width="1.6"/>
<text x="943.4" y="256.1" font-family="Liberation Sans, sans-serif" font-size="25" text-anchor="start" >600</text>
<line x1="933.5" y1="189.4" x2="937.8" y2="189.4" stroke="#000" stroke-width="1.6"/>
<text x="943.4" y="196.4" font-family="Liberation Sans, sans-serif" font-size="25" text-anchor="start" >800</text>
<line x1="933.5" y1="129.8" x2="937.8" y2="129.8" stroke="#000" stroke-width="1.6"/>
<text x="943.4" y="136.8" font-family="Liberation Sans, sans-serif" font-size="25" text-anchor="start" >1,000</text>
<line x1="933.5" y1="70.2" x2="937.8" y2="70.2" stroke="#000" stroke-width="1.6"/>
<text x="943.4" y="77.2" font-family="Liberation Sans, sans-serif" font-size="25" text-anchor="start" >1,200</text>
<text x="943.4" y="17.6" font-family="Liberation Sans, sans-serif" font-size="25" text-anchor="start" >1,400</text>
<text transform="translate(1041.3,351.2) rotate(-90)" font-family="Liberation Sans, sans-serif" font-size="25" textLength="253.5">Atom number per tube</text>
<path d="M104.3 471.9 V876 H509.05" fill="none" stroke="#000" stroke-width="2"/>
<line x1="104.3" y1="867.7" x2="108.3" y2="867.7" stroke="#000" stroke-width="1.6"/>
<text x="99.3" y="875.3" font-family="Liberation Sans, sans-serif" font-size="25" text-anchor="end" >0</text>
<line x1="104.3" y1="811.2" x2="108.3" y2="811.2" stroke="#000" stroke-width="1.6"/>
<text x="99.3" y="818.8" font-family="Liberation Sans, sans-serif" font-size="25" text-anchor="end" >200</text>
<line x1="104.3" y1="754.7" x2="108.3" y2="754.7" stroke="#000" stroke-width="1.6"/>
<text x="99.3" y="762.3" font-family="Liberation Sans, sans-serif" font-size="25" text-anchor="end" >400</text>
<line x1="104.3" y1="698.2" x2="108.3" y2="698.2" stroke="#000" stroke-width="1.6"/>
<text x="99.3" y="705.8" font-family="Liberation Sans, sans-serif" font-size="25" text-anchor="end" >600</text>
<line x1="104.3" y1="641.7" x2="108.3" y2="641.7" stroke="#000" stroke-width="1.6"/>
<text x="99.3" y="649.3" font-family="Liberation Sans, sans-serif" font-size="25" text-anchor="end" >800</text>
<line x1="104.3" y1="585.2" x2="108.3" y2="585.2" stroke="#000" stroke-width="1.6"/>
<text x="99.3" y="592.8" font-family="Liberation Sans, sans-serif" font-size="25" text-anchor="end" >1,000</text>
<line x1="104.3" y1="528.7" x2="108.3" y2="528.7" stroke="#000" stroke-width="1.6"/>
<text x="99.3" y="536.3" font-family="Liberation Sans, sans-serif" font-size="25" text-anchor="end" >1,200</text>
<line x1="104.3" y1="472.2" x2="108.3" y2="472.2" stroke="#000" stroke-width="1.6"/>
<text x="99.3" y="479.8" font-family="Liberation Sans, sans-serif" font-size="25" text-anchor="end" >1,400</text>
<line x1="104.3" y1="876" x2="104.3" y2="872" stroke="#000" stroke-width="1.6"/>
<text x="104.3" y="905.7" font-family="Liberation Sans, sans-serif" font-size="25" text-anchor="middle" >0</text>
<line x1="238.9" y1="876" x2="238.9" y2="872" stroke="#000" stroke-width="1.6"/>
<text x="238.9" y="905.7" font-family="Liberation Sans, sans-serif" font-size="25" text-anchor="middle" >5</text>
<line x1="373.6" y1="876" x2="373.6" y2="872" stroke="#000" stroke-width="1.6"/>
<text x="373.6" y="905.7" font-family="Liberation Sans, sans-serif" font-size="25" text-anchor="middle" >10</text>
<line x1="508.2" y1="876" x2="508.2" y2="872" stroke="#000" stroke-width="1.6"/>
<text x="508.2" y="905.7" font-family="Liberation Sans, sans-serif" font-size="25" text-anchor="middle" >15</text>
<path d="M544.0 471.9 V876 H948.75" fill="none" stroke="#000" stroke-width="2"/>
<line x1="544.0" y1="867.7" x2="548.0" y2="867.7" stroke="#000" stroke-width="1.6"/>
<line x1="544.0" y1="811.2" x2="548.0" y2="811.2" stroke="#000" stroke-width="1.6"/>
<line x1="544.0" y1="754.7" x2="548.0" y2="754.7" stroke="#000" stroke-width="1.6"/>
<line x1="544.0" y1="698.2" x2="548.0" y2="698.2" stroke="#000" stroke-width="1.6"/>
<line x1="544.0" y1="641.7" x2="548.0" y2="641.7" stroke="#000" stroke-width="1.6"/>
<line x1="544.0" y1="585.2" x2="548.0" y2="585.2" stroke="#000" stroke-width="1.6"/>
<line x1="544.0" y1="528.7" x2="548.0" y2="528.7" stroke="#000" stroke-width="1.6"/>
<line x1="544.0" y1="472.2" x2="548.0" y2="472.2" stroke="#000" stroke-width="1.6"/>
<line x1="544.0" y1="876" x2="544.0" y2="872" stroke="#000" stroke-width="1.6"/>
<text x="544.0" y="905.7" font-family="Liberation Sans, sans-serif" font-size="25" text-anchor="middle" >0</text>
<line x1="678.6" y1="876" x2="678.6" y2="872" stroke="#000" stroke-width="1.6"/>
<text x="678.6" y="905.7" font-family="Liberation Sans, sans-serif" font-size="25" text-anchor="middle" >5</text>
<line x1="813.3" y1="876" x2="813.3" y2="872" stroke="#000" stroke-width="1.6"/>
<text x="813.3" y="905.7" font-family="Liberation Sans, sans-serif" font-size="25" text-anchor="middle" >10</text>
<line x1="948.0" y1="876" x2="948.0" y2="872" stroke="#000" stroke-width="1.6"/>
<text x="948.0" y="905.7" font-family="Liberation Sans, sans-serif" font-size="25" text-anchor="middle" >15</text>
<text x="153.6" y="940" font-family="Liberation Sans, sans-serif" font-size="25" text-anchor="start" textLength="311.2">Radial position (lattice sites)</text>
<text x="593.9" y="940" font-family="Liberation Sans, sans-serif" font-size="25" text-anchor="start" textLength="311.2">Radial position (lattice sites)</text>
<text transform="translate(20.5,795.6) rotate(-90)" font-family="Liberation Sans, sans-serif" font-size="25" textLength="252.5">Atom number per tube</text>
<g fill="#0f6fbf"><circle cx="301.4" cy="863.5" r="1.9"/><circle cx="418.2" cy="867.0" r="1.9"/><circle cx="423.8" cy="866.4" r="1.9"/><circle cx="474.0" cy="866.6" r="1.9"/><circle cx="310.0" cy="862.1" r="1.9"/><circle cx="381.3" cy="860.6" r="1.9"/><circle cx="473.7" cy="869.2" r="1.9"/><circle cx="261.1" cy="849.1" r="1.9"/><circle cx="426.2" cy="865.2" r="1.9"/><circle cx="452.1" cy="868.2" r="1.9"/><circle cx="435.3" cy="864.0" r="1.9"/><circle cx="414.9" cy="865.4" r="1.9"/><circle cx="326.0" cy="860.6" r="1.9"/><circle cx="382.0" cy="865.6" r="1.9"/><circle cx="446.8" cy="864.7" r="1.9"/><circle cx="492.0" cy="868.6" r="1.9"/><circle cx="358.2" cy="865.1" r="1.9"/><circle cx="495.0" cy="868.5" r="1.9"/><circle cx="483.0" cy="866.0" r="1.9"/><circle cx="292.5" cy="859.1" r="1.9"/><circle cx="501.2" cy="869.0" r="1.9"/><circle cx="325.9" cy="863.2" r="1.9"/><circle cx="392.0" cy="867.6" r="1.9"/><circle cx="413.3" cy="865.5" r="1.9"/><circle cx="413.1" cy="864.4" r="1.9"/><circle cx="493.6" cy="868.2" r="1.9"/><circle cx="478.1" cy="864.2" r="1.9"/><circle cx="267.4" cy="852.3" r="1.9"/><circle cx="479.0" cy="863.1" r="1.9"/><circle cx="409.0" cy="867.3" r="1.9"/><circle cx="445.6" cy="865.9" r="1.9"/><circle cx="410.2" cy="863.3" r="1.9"/><circle cx="319.9" cy="860.5" r="1.9"/><circle cx="506.2" cy="865.5" r="1.9"/><circle cx="224.5" cy="828.4" r="1.9"/><circle cx="261.1" cy="851.8" r="1.9"/><circle cx="323.3" cy="863.6" r="1.9"/><circle cx="421.0" cy="870.1" r="1.9"/><circle cx="446.7" cy="868.4" r="1.9"/><circle cx="504.3" cy="863.7" r="1.9"/><circle cx="391.5" cy="864.9" r="1.9"/><circle cx="216.4" cy="822.1" r="1.9"/><circle cx="417.1" cy="865.5" r="1.9"/><circle cx="362.3" cy="865.6" r="1.9"/><circle cx="419.9" cy="866.3" r="1.9"/><circle cx="480.6" cy="866.3" r="1.9"/><circle cx="330.6" cy="860.7" r="1.9"/><circle cx="352.6" cy="866.4" r="1.9"/><circle cx="378.4" cy="868.7" r="1.9"/><circle cx="416.1" cy="866.9" r="1.9"/><circle cx="406.4" cy="869.5" r="1.9"/><circle cx="391.9" cy="869.2" r="1.9"/><circle cx="369.6" cy="866.3" r="1.9"/><circle cx="326.0" cy="865.5" r="1.9"/><circle cx="503.7" cy="868.9" r="1.9"/><circle cx="364.6" cy="866.2" r="1.9"/><circle cx="411.9" cy="864.2" r="1.9"/><circle cx="425.5" cy="866.3" r="1.9"/><circle cx="203.3" cy="808.8" r="1.9"/><circle cx="437.2" cy="868.0" r="1.9"/><circle cx="344.2" cy="865.9" r="1.9"/><circle cx="203.7" cy="812.1" r="1.9"/><circle cx="436.4" cy="865.4" r="1.9"/><circle cx="377.2" cy="866.5" r="1.9"/><circle cx="415.3" cy="867.3" r="1.9"/><circle cx="330.2" cy="862.9" r="1.9"/><circle cx="349.7" cy="866.6" r="1.9"/><circle cx="352.4" cy="866.3" r="1.9"/><circle cx="459.3" cy="864.5" r="1.9"/><circle cx="450.7" cy="866.3" r="1.9"/><circle cx="329.2" cy="863.8" r="1.9"/><circle cx="301.7" cy="858.5" r="1.9"/><circle cx="279.2" cy="859.0" r="1.9"/><circle cx="233.2" cy="833.8" r="1.9"/><circle cx="333.5" cy="866.3" r="1.9"/><circle cx="371.8" cy="863.3" r="1.9"/><circle cx="477.9" cy="866.0" r="1.9"/><circle cx="430.0" cy="865.3" r="1.9"/><circle cx="484.3" cy="867.9" r="1.9"/><circle cx="244.8" cy="841.7" r="1.9"/><circle cx="398.3" cy="865.3" r="1.9"/><circle cx="474.2" cy="863.8" r="1.9"/><circle cx="277.4" cy="856.2" r="1.9"/><circle cx="427.9" cy="863.5" r="1.9"/><circle cx="467.0" cy="867.2" r="1.9"/><circle cx="322.6" cy="863.2" r="1.9"/><circle cx="464.2" cy="866.9" r="1.9"/><circle cx="365.1" cy="864.3" r="1.9"/><circle cx="366.0" cy="869.3" r="1.9"/><circle cx="263.8" cy="848.0" r="1.9"/><circle cx="496.6" cy="863.1" r="1.9"/><circle cx="370.5" cy="869.6" r="1.9"/><circle cx="498.1" cy="865.7" r="1.9"/><circle cx="453.1" cy="867.2" r="1.9"/><circle cx="473.8" cy="867.8" r="1.9"/><circle cx="321.5" cy="865.8" r="1.9"/><circle cx="340.2" cy="864.9" r="1.9"/><circle cx="414.2" cy="865.9" r="1.9"/><circle cx="320.7" cy="863.6" r="1.9"/><circle cx="488.3" cy="867.2" r="1.9"/><circle cx="440.7" cy="863.4" r="1.9"/><circle cx="487.5" cy="868.4" r="1.9"/><circle cx="411.1" cy="863.7" r="1.9"/><circle cx="271.7" cy="853.5" r="1.9"/><circle cx="325.5" cy="865.3" r="1.9"/><circle cx="364.1" cy="867.7" r="1.9"/><circle cx="495.7" cy="868.0" r="1.9"/><circle cx="307.3" cy="863.5" r="1.9"/><circle cx="479.3" cy="869.7" r="1.9"/><circle cx="343.9" cy="864.7" r="1.9"/><circle cx="283.7" cy="861.0" r="1.9"/><circle cx="271.5" cy="854.6" r="1.9"/><circle cx="463.7" cy="863.9" r="1.9"/><circle cx="470.9" cy="868.2" r="1.9"/><circle cx="424.6" cy="866.3" r="1.9"/><circle cx="314.7" cy="863.7" r="1.9"/><circle cx="313.6" cy="865.0" r="1.9"/><circle cx="382.1" cy="866.6" r="1.9"/><circle cx="460.3" cy="866.1" r="1.9"/><circle cx="248.2" cy="844.0" r="1.9"/><circle cx="246.9" cy="837.3" r="1.9"/><circle cx="477.7" cy="864.8" r="1.9"/><circle cx="222.8" cy="830.4" r="1.9"/><circle cx="330.9" cy="864.5" r="1.9"/><circle cx="343.7" cy="866.6" r="1.9"/><circle cx="347.0" cy="867.1" r="1.9"/><circle cx="280.9" cy="857.1" r="1.9"/><circle cx="405.4" cy="865.7" r="1.9"/><circle cx="446.1" cy="867.2" r="1.9"/><circle cx="275.0" cy="854.3" r="1.9"/><circle cx="351.1" cy="867.8" r="1.9"/><circle cx="353.4" cy="867.4" r="1.9"/><circle cx="465.9" cy="868.0" r="1.9"/><circle cx="350.8" cy="866.7" r="1.9"/><circle cx="388.8" cy="866.9" r="1.9"/><circle cx="440.8" cy="868.4" r="1.9"/><circle cx="378.5" cy="866.2" r="1.9"/><circle cx="441.1" cy="864.5" r="1.9"/><circle cx="212.4" cy="820.7" r="1.9"/><circle cx="483.2" cy="865.9" r="1.9"/><circle cx="495.2" cy="869.4" r="1.9"/><circle cx="463.5" cy="864.1" r="1.9"/><circle cx="311.1" cy="863.7" r="1.9"/><circle cx="468.6" cy="866.5" r="1.9"/><circle cx="433.0" cy="864.3" r="1.9"/><circle cx="434.3" cy="868.6" r="1.9"/><circle cx="450.3" cy="867.4" r="1.9"/><circle cx="414.0" cy="866.9" r="1.9"/><circle cx="257.3" cy="848.0" r="1.9"/><circle cx="226.7" cy="831.7" r="1.9"/><circle cx="231.6" cy="833.1" r="1.9"/><circle cx="474.9" cy="867.5" r="1.9"/><circle cx="245.0" cy="840.3" r="1.9"/><circle cx="473.7" cy="868.9" r="1.9"/><circle cx="498.5" cy="869.5" r="1.9"/><circle cx="458.2" cy="868.2" r="1.9"/><circle cx="393.2" cy="866.6" r="1.9"/><circle cx="453.9" cy="867.5" r="1.9"/><circle cx="494.8" cy="865.4" r="1.9"/><circle cx="407.7" cy="865.9" r="1.9"/><circle cx="471.9" cy="866.7" r="1.9"/><circle cx="306.3" cy="861.1" r="1.9"/><circle cx="421.3" cy="866.6" r="1.9"/><circle cx="349.2" cy="867.1" r="1.9"/><circle cx="358.7" cy="866.8" r="1.9"/><circle cx="220.9" cy="823.6" r="1.9"/><circle cx="390.0" cy="864.6" r="1.9"/><circle cx="453.5" cy="867.0" r="1.9"/><circle cx="266.2" cy="852.9" r="1.9"/><circle cx="435.9" cy="869.3" r="1.9"/><circle cx="394.8" cy="868.9" r="1.9"/><circle cx="487.0" cy="866.5" r="1.9"/><circle cx="260.4" cy="846.2" r="1.9"/><circle cx="491.0" cy="865.1" r="1.9"/><circle cx="394.8" cy="869.0" r="1.9"/><circle cx="278.6" cy="854.8" r="1.9"/><circle cx="313.2" cy="862.3" r="1.9"/><circle cx="331.0" cy="862.2" r="1.9"/><circle cx="299.0" cy="863.0" r="1.9"/><circle cx="324.0" cy="868.2" r="1.9"/><circle cx="443.6" cy="869.5" r="1.9"/><circle cx="413.2" cy="864.8" r="1.9"/><circle cx="313.1" cy="863.0" r="1.9"/><circle cx="384.0" cy="865.9" r="1.9"/><circle cx="354.2" cy="864.7" r="1.9"/><circle cx="333.5" cy="863.1" r="1.9"/><circle cx="459.7" cy="863.4" r="1.9"/><circle cx="384.0" cy="862.1" r="1.9"/><circle cx="416.9" cy="869.8" r="1.9"/><circle cx="470.5" cy="866.1" r="1.9"/><circle cx="405.8" cy="869.2" r="1.9"/><circle cx="478.2" cy="866.4" r="1.9"/><circle cx="359.9" cy="866.2" r="1.9"/><circle cx="380.5" cy="870.7" r="1.9"/><circle cx="297.9" cy="860.8" r="1.9"/><circle cx="436.3" cy="863.9" r="1.9"/><circle cx="499.8" cy="866.0" r="1.9"/><circle cx="280.2" cy="857.6" r="1.9"/><circle cx="309.7" cy="861.6" r="1.9"/><circle cx="478.6" cy="864.2" r="1.9"/><circle cx="487.5" cy="866.9" r="1.9"/><circle cx="330.4" cy="860.8" r="1.9"/><circle cx="367.1" cy="866.1" r="1.9"/><circle cx="227.3" cy="832.4" r="1.9"/><circle cx="473.2" cy="867.1" r="1.9"/><circle cx="412.0" cy="865.0" r="1.9"/><circle cx="436.3" cy="865.1" r="1.9"/><circle cx="371.1" cy="866.1" r="1.9"/><circle cx="385.9" cy="865.7" r="1.9"/><circle cx="499.1" cy="864.6" r="1.9"/><circle cx="356.9" cy="866.5" r="1.9"/><circle cx="316.0" cy="863.6" r="1.9"/><circle cx="433.8" cy="863.9" r="1.9"/><circle cx="489.4" cy="864.4" r="1.9"/><circle cx="230.0" cy="830.8" r="1.9"/><circle cx="459.3" cy="867.3" r="1.9"/><circle cx="455.8" cy="867.4" r="1.9"/><circle cx="431.0" cy="864.1" r="1.9"/><circle cx="467.0" cy="867.0" r="1.9"/><circle cx="500.4" cy="863.9" r="1.9"/><circle cx="435.6" cy="867.5" r="1.9"/><circle cx="388.2" cy="866.5" r="1.9"/><circle cx="344.0" cy="865.7" r="1.9"/><circle cx="408.3" cy="869.1" r="1.9"/><circle cx="276.6" cy="857.1" r="1.9"/><circle cx="275.3" cy="857.2" r="1.9"/><circle cx="485.4" cy="867.2" r="1.9"/><circle cx="494.2" cy="867.5" r="1.9"/><circle cx="256.2" cy="849.4" r="1.9"/><circle cx="416.5" cy="864.2" r="1.9"/><circle cx="405.2" cy="867.6" r="1.9"/><circle cx="330.1" cy="866.0" r="1.9"/><circle cx="273.9" cy="851.5" r="1.9"/><circle cx="455.2" cy="865.5" r="1.9"/><circle cx="402.0" cy="866.6" r="1.9"/><circle cx="312.6" cy="864.7" r="1.9"/><circle cx="354.4" cy="865.2" r="1.9"/><circle cx="391.3" cy="866.7" r="1.9"/><circle cx="305.1" cy="862.0" r="1.9"/><circle cx="337.4" cy="866.5" r="1.9"/><circle cx="360.8" cy="868.7" r="1.9"/><circle cx="344.3" cy="865.9" r="1.9"/><circle cx="476.0" cy="865.7" r="1.9"/><circle cx="231.8" cy="833.1" r="1.9"/><circle cx="239.9" cy="838.7" r="1.9"/><circle cx="278.0" cy="859.0" r="1.9"/><circle cx="280.0" cy="859.3" r="1.9"/><circle cx="469.1" cy="865.3" r="1.9"/><circle cx="453.8" cy="867.5" r="1.9"/><circle cx="359.3" cy="866.2" r="1.9"/><circle cx="282.1" cy="859.5" r="1.9"/><circle cx="285.9" cy="858.4" r="1.9"/><circle cx="306.3" cy="862.2" r="1.9"/><circle cx="466.3" cy="867.1" r="1.9"/><circle cx="485.6" cy="865.1" r="1.9"/><circle cx="404.6" cy="867.0" r="1.9"/><circle cx="412.7" cy="869.7" r="1.9"/><circle cx="439.0" cy="870.2" r="1.9"/><circle cx="325.3" cy="862.8" r="1.9"/><circle cx="417.6" cy="868.1" r="1.9"/><circle cx="448.7" cy="863.7" r="1.9"/><circle cx="433.0" cy="866.6" r="1.9"/><circle cx="387.6" cy="868.2" r="1.9"/><circle cx="282.0" cy="857.3" r="1.9"/><circle cx="398.3" cy="864.4" r="1.9"/><circle cx="429.0" cy="866.2" r="1.9"/><circle cx="373.5" cy="870.2" r="1.9"/><circle cx="485.8" cy="868.5" r="1.9"/><circle cx="253.0" cy="845.5" r="1.9"/><circle cx="195.2" cy="799.1" r="1.9"/><circle cx="346.6" cy="865.2" r="1.9"/><circle cx="400.8" cy="865.7" r="1.9"/><circle cx="493.8" cy="868.3" r="1.9"/><circle cx="441.0" cy="863.5" r="1.9"/><circle cx="252.4" cy="844.1" r="1.9"/><circle cx="493.2" cy="868.6" r="1.9"/><circle cx="446.1" cy="866.8" r="1.9"/><circle cx="467.1" cy="868.3" r="1.9"/><circle cx="494.2" cy="865.6" r="1.9"/><circle cx="455.7" cy="868.1" r="1.9"/><circle cx="385.6" cy="865.9" r="1.9"/><circle cx="217.1" cy="822.1" r="1.9"/><circle cx="285.1" cy="856.5" r="1.9"/><circle cx="442.1" cy="864.9" r="1.9"/><circle cx="400.4" cy="868.6" r="1.9"/><circle cx="327.3" cy="863.0" r="1.9"/><circle cx="379.6" cy="866.2" r="1.9"/><circle cx="276.0" cy="857.2" r="1.9"/><circle cx="487.4" cy="867.1" r="1.9"/><circle cx="350.3" cy="867.0" r="1.9"/><circle cx="398.2" cy="867.4" r="1.9"/><circle cx="289.0" cy="859.6" r="1.9"/><circle cx="461.8" cy="865.5" r="1.9"/><circle cx="282.8" cy="855.4" r="1.9"/><circle cx="289.1" cy="857.8" r="1.9"/><circle cx="270.0" cy="851.2" r="1.9"/><circle cx="238.3" cy="837.1" r="1.9"/><circle cx="203.0" cy="802.0" r="1.9"/><circle cx="374.7" cy="868.5" r="1.9"/><circle cx="195.6" cy="791.2" r="1.9"/><circle cx="360.8" cy="866.1" r="1.9"/><circle cx="501.2" cy="866.5" r="1.9"/><circle cx="293.3" cy="858.1" r="1.9"/><circle cx="268.3" cy="851.1" r="1.9"/><circle cx="423.0" cy="867.1" r="1.9"/><circle cx="196.3" cy="794.1" r="1.9"/><circle cx="448.9" cy="867.1" r="1.9"/><circle cx="379.9" cy="863.2" r="1.9"/><circle cx="494.5" cy="867.2" r="1.9"/><circle cx="312.6" cy="861.7" r="1.9"/><circle cx="468.9" cy="867.8" r="1.9"/><circle cx="228.0" cy="833.6" r="1.9"/><circle cx="438.0" cy="864.4" r="1.9"/><circle cx="225.8" cy="831.0" r="1.9"/><circle cx="271.0" cy="852.9" r="1.9"/><circle cx="431.1" cy="866.5" r="1.9"/><circle cx="487.6" cy="865.3" r="1.9"/><circle cx="383.3" cy="861.8" r="1.9"/><circle cx="466.4" cy="863.2" r="1.9"/><circle cx="327.3" cy="866.4" r="1.9"/><circle cx="419.0" cy="865.9" r="1.9"/><circle cx="323.1" cy="864.2" r="1.9"/><circle cx="476.7" cy="865.4" r="1.9"/><circle cx="337.8" cy="863.7" r="1.9"/><circle cx="437.4" cy="865.7" r="1.9"/><circle cx="451.7" cy="867.1" r="1.9"/><circle cx="450.4" cy="865.5" r="1.9"/><circle cx="492.5" cy="868.6" r="1.9"/><circle cx="347.6" cy="866.4" r="1.9"/><circle cx="460.9" cy="866.1" r="1.9"/><circle cx="384.3" cy="866.4" r="1.9"/><circle cx="447.2" cy="865.6" r="1.9"/><circle cx="418.7" cy="867.0" r="1.9"/><circle cx="386.2" cy="868.0" r="1.9"/><circle cx="262.8" cy="850.4" r="1.9"/><circle cx="380.3" cy="866.6" r="1.9"/><circle cx="456.1" cy="867.0" r="1.9"/><circle cx="301.0" cy="862.5" r="1.9"/><circle cx="475.3" cy="868.9" r="1.9"/><circle cx="481.6" cy="869.5" r="1.9"/><circle cx="375.2" cy="864.0" r="1.9"/><circle cx="337.7" cy="866.6" r="1.9"/><circle cx="350.0" cy="863.8" r="1.9"/><circle cx="499.2" cy="866.0" r="1.9"/><circle cx="235.2" cy="837.8" r="1.9"/><circle cx="219.2" cy="825.2" r="1.9"/><circle cx="429.8" cy="866.6" r="1.9"/><circle cx="262.1" cy="849.3" r="1.9"/><circle cx="428.6" cy="866.8" r="1.9"/><circle cx="298.0" cy="861.2" r="1.9"/><circle cx="501.6" cy="866.4" r="1.9"/><circle cx="366.0" cy="863.7" r="1.9"/><circle cx="461.3" cy="869.1" r="1.9"/><circle cx="399.8" cy="868.3" r="1.9"/><circle cx="279.5" cy="855.8" r="1.9"/><circle cx="471.3" cy="866.1" r="1.9"/><circle cx="239.8" cy="832.9" r="1.9"/><circle cx="284.6" cy="856.8" r="1.9"/><circle cx="486.1" cy="865.1" r="1.9"/><circle cx="295.0" cy="859.2" r="1.9"/><circle cx="472.2" cy="868.6" r="1.9"/><circle cx="456.8" cy="868.3" r="1.9"/><circle cx="481.4" cy="868.1" r="1.9"/><circle cx="373.9" cy="864.3" r="1.9"/><circle cx="238.8" cy="837.1" r="1.9"/><circle cx="468.9" cy="868.7" r="1.9"/><circle cx="287.6" cy="860.6" r="1.9"/><circle cx="449.0" cy="867.1" r="1.9"/><circle cx="216.6" cy="824.3" r="1.9"/><circle cx="212.3" cy="814.6" r="1.9"/><circle cx="404.6" cy="866.6" r="1.9"/><circle cx="429.6" cy="868.4" r="1.9"/><circle cx="418.7" cy="866.2" r="1.9"/><circle cx="507.4" cy="865.2" r="1.9"/><circle cx="338.2" cy="865.6" r="1.9"/><circle cx="292.9" cy="859.4" r="1.9"/><circle cx="268.5" cy="849.4" r="1.9"/><circle cx="482.1" cy="867.9" r="1.9"/><circle cx="505.5" cy="869.8" r="1.9"/><circle cx="400.0" cy="869.0" r="1.9"/><circle cx="365.7" cy="862.4" r="1.9"/><circle cx="497.9" cy="868.0" r="1.9"/><circle cx="385.4" cy="866.0" r="1.9"/><circle cx="507.7" cy="868.5" r="1.9"/><circle cx="491.8" cy="867.8" r="1.9"/><circle cx="277.9" cy="851.1" r="1.9"/><circle cx="229.4" cy="833.1" r="1.9"/><circle cx="395.4" cy="867.8" r="1.9"/><circle cx="427.3" cy="863.9" r="1.9"/><circle cx="316.5" cy="862.7" r="1.9"/><circle cx="369.9" cy="867.7" r="1.9"/><circle cx="453.4" cy="864.3" r="1.9"/><circle cx="320.8" cy="862.6" r="1.9"/><circle cx="363.3" cy="865.0" r="1.9"/><circle cx="216.8" cy="819.5" r="1.9"/><circle cx="442.4" cy="864.2" r="1.9"/><circle cx="503.5" cy="863.3" r="1.9"/><circle cx="350.9" cy="865.9" r="1.9"/><circle cx="266.6" cy="852.7" r="1.9"/><circle cx="397.3" cy="864.6" r="1.9"/><circle cx="401.7" cy="868.6" r="1.9"/><circle cx="320.0" cy="861.1" r="1.9"/><circle cx="379.2" cy="863.9" r="1.9"/><circle cx="324.6" cy="866.2" r="1.9"/><circle cx="303.3" cy="861.9" r="1.9"/><circle cx="250.8" cy="845.6" r="1.9"/><circle cx="398.6" cy="867.4" r="1.9"/><circle cx="194.9" cy="793.8" r="1.9"/><circle cx="286.7" cy="857.9" r="1.9"/><circle cx="504.0" cy="868.7" r="1.9"/><circle cx="462.3" cy="866.2" r="1.9"/><circle cx="278.1" cy="855.8" r="1.9"/><circle cx="369.9" cy="866.4" r="1.9"/><circle cx="402.8" cy="866.0" r="1.9"/><circle cx="228.0" cy="832.6" r="1.9"/><circle cx="466.1" cy="865.5" r="1.9"/><circle cx="365.5" cy="866.0" r="1.9"/><circle cx="369.1" cy="865.5" r="1.9"/><circle cx="424.3" cy="868.3" r="1.9"/><circle cx="467.5" cy="870.1" r="1.9"/><circle cx="305.2" cy="860.1" r="1.9"/><circle cx="463.2" cy="864.5" r="1.9"/><circle cx="392.4" cy="865.3" r="1.9"/><circle cx="317.9" cy="865.6" r="1.9"/><circle cx="270.2" cy="850.2" r="1.9"/><circle cx="486.9" cy="866.5" r="1.9"/><circle cx="488.8" cy="869.3" r="1.9"/><circle cx="493.6" cy="866.2" r="1.9"/><circle cx="468.8" cy="868.1" r="1.9"/><circle cx="395.1" cy="867.5" r="1.9"/><circle cx="271.2" cy="852.3" r="1.9"/><circle cx="506.7" cy="864.4" r="1.9"/><circle cx="403.1" cy="867.8" r="1.9"/><circle cx="376.7" cy="865.3" r="1.9"/><circle cx="466.3" cy="870.9" r="1.9"/><circle cx="263.5" cy="848.9" r="1.9"/><circle cx="331.0" cy="866.3" r="1.9"/><circle cx="477.0" cy="867.0" r="1.9"/><circle cx="471.8" cy="864.6" r="1.9"/><circle cx="410.5" cy="867.5" r="1.9"/><circle cx="403.8" cy="867.9" r="1.9"/><circle cx="444.5" cy="866.5" r="1.9"/><circle cx="490.0" cy="864.7" r="1.9"/><circle cx="350.4" cy="863.8" r="1.9"/><circle cx="394.1" cy="862.9" r="1.9"/><circle cx="428.4" cy="869.3" r="1.9"/><circle cx="282.7" cy="856.0" r="1.9"/><circle cx="354.4" cy="866.1" r="1.9"/><circle cx="471.9" cy="867.3" r="1.9"/><circle cx="498.0" cy="865.5" r="1.9"/><circle cx="496.7" cy="867.5" r="1.9"/><circle cx="318.8" cy="862.0" r="1.9"/><circle cx="250.8" cy="845.3" r="1.9"/><circle cx="218.0" cy="815.1" r="1.9"/><circle cx="297.9" cy="860.8" r="1.9"/><circle cx="397.3" cy="865.7" r="1.9"/><circle cx="452.5" cy="865.4" r="1.9"/><circle cx="469.6" cy="868.8" r="1.9"/><circle cx="318.9" cy="863.0" r="1.9"/><circle cx="313.3" cy="863.2" r="1.9"/><circle cx="385.0" cy="866.5" r="1.9"/><circle cx="192.0" cy="783.0" r="1.9"/><circle cx="300.5" cy="860.6" r="1.9"/><circle cx="488.7" cy="867.0" r="1.9"/><circle cx="274.7" cy="851.6" r="1.9"/><circle cx="429.2" cy="866.7" r="1.9"/><circle cx="256.6" cy="844.2" r="1.9"/><circle cx="273.8" cy="853.3" r="1.9"/><circle cx="280.2" cy="854.6" r="1.9"/><circle cx="193.5" cy="798.3" r="1.9"/><circle cx="500.2" cy="868.4" r="1.9"/><circle cx="236.5" cy="838.0" r="1.9"/><circle cx="356.5" cy="864.2" r="1.9"/><circle cx="250.7" cy="845.4" r="1.9"/><circle cx="258.3" cy="847.0" r="1.9"/><circle cx="490.7" cy="865.6" r="1.9"/><circle cx="216.4" cy="819.5" r="1.9"/><circle cx="507.6" cy="863.0" r="1.9"/><circle cx="504.2" cy="866.8" r="1.9"/><circle cx="498.2" cy="865.2" r="1.9"/><circle cx="385.6" cy="866.7" r="1.9"/><circle cx="341.7" cy="866.5" r="1.9"/><circle cx="453.7" cy="866.2" r="1.9"/><circle cx="379.5" cy="868.5" r="1.9"/><circle cx="400.6" cy="868.4" r="1.9"/><circle cx="473.0" cy="866.0" r="1.9"/><circle cx="285.2" cy="861.6" r="1.9"/><circle cx="476.4" cy="869.0" r="1.9"/><circle cx="275.4" cy="851.1" r="1.9"/><circle cx="269.8" cy="854.0" r="1.9"/><circle cx="312.6" cy="862.8" r="1.9"/><circle cx="503.9" cy="866.2" r="1.9"/><circle cx="362.7" cy="865.2" r="1.9"/><circle cx="481.0" cy="867.3" r="1.9"/><circle cx="464.2" cy="864.1" r="1.9"/><circle cx="397.1" cy="866.5" r="1.9"/><circle cx="457.9" cy="864.9" r="1.9"/><circle cx="372.6" cy="865.0" r="1.9"/><circle cx="258.8" cy="850.3" r="1.9"/><circle cx="391.8" cy="867.3" r="1.9"/><circle cx="351.2" cy="866.1" r="1.9"/><circle cx="417.5" cy="865.1" r="1.9"/><circle cx="504.3" cy="863.6" r="1.9"/><circle cx="473.5" cy="868.1" r="1.9"/><circle cx="320.6" cy="862.4" r="1.9"/><circle cx="246.1" cy="843.2" r="1.9"/><circle cx="390.2" cy="866.5" r="1.9"/><circle cx="428.8" cy="868.2" r="1.9"/><circle cx="319.0" cy="861.7" r="1.9"/><circle cx="383.5" cy="866.7" r="1.9"/><circle cx="398.8" cy="862.8" r="1.9"/><circle cx="398.0" cy="870.0" r="1.9"/><circle cx="372.7" cy="866.7" r="1.9"/><circle cx="367.8" cy="866.5" r="1.9"/><circle cx="476.2" cy="866.6" r="1.9"/><circle cx="477.7" cy="867.3" r="1.9"/><circle cx="354.6" cy="863.9" r="1.9"/><circle cx="291.5" cy="859.6" r="1.9"/><circle cx="403.5" cy="865.1" r="1.9"/><circle cx="480.5" cy="868.0" r="1.9"/><circle cx="445.0" cy="867.6" r="1.9"/><circle cx="391.5" cy="865.2" r="1.9"/><circle cx="359.5" cy="867.5" r="1.9"/><circle cx="482.2" cy="864.9" r="1.9"/><circle cx="413.1" cy="865.8" r="1.9"/><circle cx="350.3" cy="864.4" r="1.9"/><circle cx="421.0" cy="866.1" r="1.9"/><circle cx="333.0" cy="864.0" r="1.9"/><circle cx="319.2" cy="861.5" r="1.9"/><circle cx="492.0" cy="866.4" r="1.9"/><circle cx="399.6" cy="866.7" r="1.9"/><circle cx="474.0" cy="870.0" r="1.9"/><circle cx="490.3" cy="869.2" r="1.9"/><circle cx="244.7" cy="840.8" r="1.9"/><circle cx="483.2" cy="868.2" r="1.9"/><circle cx="485.4" cy="865.4" r="1.9"/><circle cx="320.6" cy="862.6" r="1.9"/><circle cx="416.9" cy="863.6" r="1.9"/><circle cx="222.0" cy="824.4" r="1.9"/><circle cx="472.9" cy="866.4" r="1.9"/><circle cx="277.4" cy="855.9" r="1.9"/><circle cx="393.3" cy="864.7" r="1.9"/><circle cx="369.9" cy="867.9" r="1.9"/><circle cx="371.1" cy="868.0" r="1.9"/><circle cx="230.1" cy="829.1" r="1.9"/><circle cx="221.1" cy="826.9" r="1.9"/><circle cx="372.8" cy="866.1" r="1.9"/><circle cx="208.1" cy="822.7" r="1.9"/><circle cx="384.1" cy="869.5" r="1.9"/><circle cx="471.5" cy="865.0" r="1.9"/><circle cx="336.9" cy="866.9" r="1.9"/><circle cx="484.1" cy="865.6" r="1.9"/><circle cx="285.8" cy="858.6" r="1.9"/><circle cx="427.8" cy="866.2" r="1.9"/><circle cx="494.9" cy="869.0" r="1.9"/><circle cx="222.3" cy="827.9" r="1.9"/><circle cx="299.0" cy="865.0" r="1.9"/><circle cx="400.9" cy="865.8" r="1.9"/><circle cx="319.8" cy="861.1" r="1.9"/><circle cx="397.9" cy="866.7" r="1.9"/><circle cx="286.0" cy="859.3" r="1.9"/><circle cx="251.6" cy="840.9" r="1.9"/><circle cx="398.8" cy="867.6" r="1.9"/><circle cx="458.5" cy="867.8" r="1.9"/><circle cx="489.6" cy="865.0" r="1.9"/><circle cx="286.6" cy="860.7" r="1.9"/><circle cx="203.1" cy="808.6" r="1.9"/><circle cx="282.2" cy="856.3" r="1.9"/><circle cx="481.4" cy="866.1" r="1.9"/><circle cx="495.5" cy="863.6" r="1.9"/><circle cx="244.1" cy="839.8" r="1.9"/><circle cx="290.3" cy="860.1" r="1.9"/><circle cx="278.7" cy="853.6" r="1.9"/><circle cx="354.7" cy="865.0" r="1.9"/><circle cx="477.0" cy="866.4" r="1.9"/><circle cx="360.2" cy="866.3" r="1.9"/><circle cx="356.3" cy="865.0" r="1.9"/><circle cx="311.6" cy="861.6" r="1.9"/><circle cx="440.8" cy="867.1" r="1.9"/><circle cx="293.9" cy="859.3" r="1.9"/><circle cx="372.9" cy="867.4" r="1.9"/><circle cx="442.2" cy="867.2" r="1.9"/><circle cx="291.8" cy="860.8" r="1.9"/><circle cx="273.7" cy="857.0" r="1.9"/><circle cx="454.4" cy="868.4" r="1.9"/><circle cx="416.6" cy="865.2" r="1.9"/><circle cx="424.5" cy="867.2" r="1.9"/><circle cx="462.6" cy="866.5" r="1.9"/><circle cx="478.8" cy="869.0" r="1.9"/><circle cx="313.6" cy="862.9" r="1.9"/><circle cx="487.2" cy="867.2" r="1.9"/><circle cx="469.5" cy="867.8" r="1.9"/><circle cx="505.4" cy="870.0" r="1.9"/><circle cx="385.1" cy="861.6" r="1.9"/><circle cx="275.1" cy="855.2" r="1.9"/><circle cx="450.0" cy="868.2" r="1.9"/><circle cx="412.9" cy="864.9" r="1.9"/><circle cx="476.9" cy="865.4" r="1.9"/><circle cx="383.5" cy="869.6" r="1.9"/><circle cx="374.3" cy="867.1" r="1.9"/><circle cx="387.8" cy="869.1" r="1.9"/><circle cx="286.4" cy="859.9" r="1.9"/><circle cx="227.9" cy="831.4" r="1.9"/><circle cx="326.6" cy="866.5" r="1.9"/><circle cx="485.8" cy="865.1" r="1.9"/><circle cx="505.9" cy="868.2" r="1.9"/><circle cx="473.6" cy="866.7" r="1.9"/><circle cx="437.1" cy="868.1" r="1.9"/><circle cx="450.6" cy="867.8" r="1.9"/><circle cx="408.5" cy="864.9" r="1.9"/><circle cx="306.2" cy="863.1" r="1.9"/><circle cx="355.1" cy="867.7" r="1.9"/><circle cx="238.0" cy="840.5" r="1.9"/><circle cx="448.2" cy="867.2" r="1.9"/><circle cx="272.1" cy="855.1" r="1.9"/><circle cx="362.4" cy="865.1" r="1.9"/><circle cx="411.0" cy="866.1" r="1.9"/><circle cx="384.8" cy="865.9" r="1.9"/><circle cx="285.6" cy="859.1" r="1.9"/><circle cx="232.5" cy="835.0" r="1.9"/><circle cx="400.5" cy="863.3" r="1.9"/><circle cx="394.3" cy="868.0" r="1.9"/><circle cx="358.9" cy="864.4" r="1.9"/><circle cx="330.7" cy="863.9" r="1.9"/><circle cx="496.3" cy="863.7" r="1.9"/><circle cx="383.2" cy="863.4" r="1.9"/><circle cx="370.4" cy="866.5" r="1.9"/><circle cx="278.6" cy="850.7" r="1.9"/><circle cx="409.6" cy="867.7" r="1.9"/><circle cx="295.0" cy="860.4" r="1.9"/><circle cx="505.3" cy="866.1" r="1.9"/><circle cx="488.1" cy="869.5" r="1.9"/><circle cx="231.1" cy="835.3" r="1.9"/><circle cx="296.1" cy="863.6" r="1.9"/><circle cx="377.4" cy="864.7" r="1.9"/><circle cx="457.0" cy="866.9" r="1.9"/><circle cx="268.5" cy="853.4" r="1.9"/><circle cx="392.4" cy="867.6" r="1.9"/><circle cx="350.8" cy="863.4" r="1.9"/><circle cx="391.1" cy="868.4" r="1.9"/><circle cx="439.2" cy="869.4" r="1.9"/><circle cx="309.3" cy="861.2" r="1.9"/><circle cx="402.3" cy="867.9" r="1.9"/><circle cx="191.5" cy="789.0" r="1.9"/><circle cx="270.8" cy="854.4" r="1.9"/><circle cx="456.0" cy="867.6" r="1.9"/><circle cx="391.3" cy="863.1" r="1.9"/><circle cx="448.8" cy="867.6" r="1.9"/><circle cx="350.8" cy="863.2" r="1.9"/><circle cx="453.1" cy="866.1" r="1.9"/><circle cx="492.0" cy="866.5" r="1.9"/><circle cx="504.3" cy="865.8" r="1.9"/><circle cx="451.7" cy="869.5" r="1.9"/><circle cx="260.5" cy="849.0" r="1.9"/><circle cx="402.3" cy="867.6" r="1.9"/><circle cx="266.5" cy="854.3" r="1.9"/><circle cx="253.7" cy="850.1" r="1.9"/><circle cx="254.4" cy="850.3" r="1.9"/><circle cx="220.5" cy="825.2" r="1.9"/><circle cx="377.0" cy="867.9" r="1.9"/><circle cx="507.0" cy="867.8" r="1.9"/><circle cx="442.5" cy="867.5" r="1.9"/><circle cx="318.6" cy="864.0" r="1.9"/><circle cx="395.1" cy="867.4" r="1.9"/><circle cx="335.6" cy="863.9" r="1.9"/><circle cx="466.1" cy="866.8" r="1.9"/><circle cx="356.1" cy="864.9" r="1.9"/><circle cx="434.3" cy="868.4" r="1.9"/><circle cx="335.2" cy="864.4" r="1.9"/><circle cx="465.7" cy="864.8" r="1.9"/><circle cx="341.7" cy="864.8" r="1.9"/><circle cx="229.4" cy="829.9" r="1.9"/><circle cx="331.3" cy="866.5" r="1.9"/><circle cx="416.5" cy="867.5" r="1.9"/><circle cx="321.8" cy="863.5" r="1.9"/><circle cx="339.5" cy="864.9" r="1.9"/><circle cx="283.3" cy="858.7" r="1.9"/><circle cx="456.9" cy="867.3" r="1.9"/><circle cx="417.6" cy="868.1" r="1.9"/><circle cx="396.0" cy="868.8" r="1.9"/><circle cx="368.1" cy="866.2" r="1.9"/><circle cx="464.3" cy="866.1" r="1.9"/><circle cx="390.0" cy="863.1" r="1.9"/><circle cx="412.5" cy="864.2" r="1.9"/><circle cx="423.3" cy="867.4" r="1.9"/><circle cx="508.2" cy="866.5" r="1.9"/><circle cx="270.0" cy="858.6" r="1.9"/><circle cx="245.5" cy="835.6" r="1.9"/><circle cx="389.8" cy="867.6" r="1.9"/><circle cx="492.7" cy="866.6" r="1.9"/><circle cx="364.3" cy="863.9" r="1.9"/><circle cx="444.3" cy="866.5" r="1.9"/><circle cx="480.9" cy="866.3" r="1.9"/><circle cx="436.2" cy="866.9" r="1.9"/><circle cx="327.3" cy="865.7" r="1.9"/><circle cx="327.4" cy="864.0" r="1.9"/><circle cx="251.5" cy="846.3" r="1.9"/><circle cx="501.0" cy="867.3" r="1.9"/><circle cx="500.9" cy="866.5" r="1.9"/><circle cx="452.9" cy="866.0" r="1.9"/><circle cx="398.6" cy="866.2" r="1.9"/><circle cx="425.1" cy="868.7" r="1.9"/><circle cx="220.5" cy="827.4" r="1.9"/><circle cx="500.5" cy="868.6" r="1.9"/><circle cx="209.9" cy="817.9" r="1.9"/><circle cx="366.6" cy="869.5" r="1.9"/><circle cx="444.9" cy="868.3" r="1.9"/><circle cx="379.9" cy="866.9" r="1.9"/><circle cx="417.6" cy="865.1" r="1.9"/><circle cx="451.3" cy="866.4" r="1.9"/><circle cx="309.5" cy="864.1" r="1.9"/><circle cx="345.9" cy="865.0" r="1.9"/><circle cx="430.1" cy="866.8" r="1.9"/><circle cx="383.2" cy="870.6" r="1.9"/><circle cx="286.2" cy="858.4" r="1.9"/><circle cx="302.0" cy="861.3" r="1.9"/><circle cx="413.1" cy="867.5" r="1.9"/><circle cx="276.4" cy="856.3" r="1.9"/><circle cx="230.8" cy="832.4" r="1.9"/><circle cx="308.4" cy="860.6" r="1.9"/><circle cx="484.0" cy="868.2" r="1.9"/><circle cx="369.5" cy="866.7" r="1.9"/><circle cx="450.1" cy="866.7" r="1.9"/><circle cx="448.4" cy="868.3" r="1.9"/><circle cx="315.2" cy="863.0" r="1.9"/><circle cx="283.4" cy="855.9" r="1.9"/><circle cx="418.7" cy="868.3" r="1.9"/><circle cx="234.4" cy="839.5" r="1.9"/><circle cx="457.9" cy="868.4" r="1.9"/><circle cx="390.8" cy="866.1" r="1.9"/><circle cx="370.0" cy="865.6" r="1.9"/><circle cx="429.0" cy="865.0" r="1.9"/><circle cx="445.9" cy="865.7" r="1.9"/><circle cx="485.6" cy="867.3" r="1.9"/><circle cx="465.7" cy="867.8" r="1.9"/><circle cx="254.3" cy="853.2" r="1.9"/><circle cx="460.3" cy="866.0" r="1.9"/><circle cx="415.8" cy="867.1" r="1.9"/><circle cx="497.4" cy="867.7" r="1.9"/><circle cx="488.9" cy="863.5" r="1.9"/><circle cx="370.8" cy="865.4" r="1.9"/><circle cx="472.3" cy="865.8" r="1.9"/><circle cx="366.8" cy="866.7" r="1.9"/><circle cx="493.5" cy="865.1" r="1.9"/><circle cx="307.9" cy="858.0" r="1.9"/><circle cx="331.7" cy="864.0" r="1.9"/><circle cx="355.1" cy="864.1" r="1.9"/><circle cx="222.6" cy="828.0" r="1.9"/><circle cx="484.9" cy="866.7" r="1.9"/><circle cx="495.5" cy="865.6" r="1.9"/><circle cx="297.8" cy="859.6" r="1.9"/><circle cx="326.7" cy="865.1" r="1.9"/><circle cx="292.0" cy="861.9" r="1.9"/><circle cx="359.3" cy="866.3" r="1.9"/><circle cx="392.0" cy="867.3" r="1.9"/><circle cx="494.7" cy="863.6" r="1.9"/><circle cx="454.8" cy="866.4" r="1.9"/><circle cx="306.4" cy="862.9" r="1.9"/><circle cx="286.6" cy="855.2" r="1.9"/><circle cx="488.6" cy="863.0" r="1.9"/><circle cx="490.5" cy="867.6" r="1.9"/><circle cx="368.3" cy="866.3" r="1.9"/><circle cx="200.1" cy="799.3" r="1.9"/><circle cx="321.1" cy="864.7" r="1.9"/><circle cx="497.1" cy="865.6" r="1.9"/><circle cx="329.6" cy="860.5" r="1.9"/><circle cx="433.7" cy="863.7" r="1.9"/><circle cx="359.3" cy="863.4" r="1.9"/><circle cx="341.6" cy="866.4" r="1.9"/><circle cx="306.7" cy="864.4" r="1.9"/><circle cx="246.6" cy="843.7" r="1.9"/><circle cx="481.4" cy="866.9" r="1.9"/><circle cx="341.1" cy="864.3" r="1.9"/><circle cx="240.6" cy="837.9" r="1.9"/><circle cx="331.6" cy="866.3" r="1.9"/><circle cx="337.8" cy="865.4" r="1.9"/><circle cx="322.1" cy="867.1" r="1.9"/><circle cx="371.6" cy="865.9" r="1.9"/><circle cx="458.3" cy="867.6" r="1.9"/><circle cx="271.0" cy="853.4" r="1.9"/><circle cx="476.2" cy="868.4" r="1.9"/><circle cx="394.4" cy="866.2" r="1.9"/><circle cx="475.9" cy="867.9" r="1.9"/><circle cx="348.7" cy="864.1" r="1.9"/><circle cx="402.5" cy="868.5" r="1.9"/><circle cx="375.8" cy="866.0" r="1.9"/><circle cx="382.0" cy="866.5" r="1.9"/><circle cx="504.5" cy="867.9" r="1.9"/><circle cx="110.5" cy="565.1" r="1.9"/><circle cx="129.2" cy="565.1" r="1.9"/><circle cx="124.3" cy="591.8" r="1.9"/><circle cx="126.9" cy="599.1" r="1.9"/><circle cx="133.6" cy="595.4" r="1.9"/><circle cx="135.7" cy="608.6" r="1.9"/><circle cx="137.6" cy="608.6" r="1.9"/><circle cx="145.8" cy="631.9" r="1.9"/><circle cx="144.3" cy="636.7" r="1.9"/><circle cx="150" cy="642.4" r="1.9"/><circle cx="151.2" cy="654.3" r="1.9"/><circle cx="150.0" cy="641.9" r="1.9"/><circle cx="150.6" cy="653.8" r="1.9"/><circle cx="154.4" cy="662.0" r="1.9"/><circle cx="155.8" cy="667.7" r="1.9"/><circle cx="152.0" cy="678.8" r="1.9"/><circle cx="156.9" cy="677.2" r="1.9"/><circle cx="160.2" cy="677.6" r="1.9"/><circle cx="156.0" cy="683.9" r="1.9"/><circle cx="162.1" cy="683.9" r="1.9"/><circle cx="164.0" cy="705.3" r="1.9"/><circle cx="168.8" cy="719.8" r="1.9"/><circle cx="171.1" cy="723.1" r="1.9"/><circle cx="172.6" cy="737.0" r="1.9"/><circle cx="175.5" cy="741.2" r="1.9"/><circle cx="175.5" cy="745.1" r="1.9"/><circle cx="178.3" cy="748.9" r="1.9"/><circle cx="181.2" cy="750.8" r="1.9"/><circle cx="181.2" cy="754.6" r="1.9"/><circle cx="180.6" cy="760.7" r="1.9"/><circle cx="182.1" cy="769.9" r="1.9"/><circle cx="187.9" cy="780.4" r="1.9"/><circle cx="191.3" cy="784.8" r="1.9"/><circle cx="194.9" cy="786.7" r="1.9"/><circle cx="190.7" cy="795.1" r="1.9"/><circle cx="195.5" cy="791.9" r="1.9"/><circle cx="197.4" cy="797.6" r="1.9"/><circle cx="201.2" cy="802.8" r="1.9"/><circle cx="198.4" cy="807.1" r="1.9"/><circle cx="204.7" cy="807.7" r="1.9"/><circle cx="208.9" cy="811.9" r="1.9"/><circle cx="203.5" cy="815.2" r="1.9"/><circle cx="206.0" cy="820.5" r="1.9"/><circle cx="216.1" cy="817.6" r="1.9"/><circle cx="213.7" cy="825.3" r="1.9"/><circle cx="217.5" cy="828.2" r="1.9"/><circle cx="220.7" cy="820.5" r="1.9"/><circle cx="222.3" cy="826.2" r="1.9"/><circle cx="218.4" cy="831.0" r="1.9"/><circle cx="224.2" cy="833.3" r="1.9"/><circle cx="231.8" cy="827.2" r="1.9"/><circle cx="226.1" cy="840.2" r="1.9"/><circle cx="233.7" cy="836.8" r="1.9"/></g>
<path d="M104.30 641.60 C107.43 641.60 110.70 643.95 113.70 646.30 C116.70 648.65 119.45 651.85 122.30 655.70 C125.15 659.55 127.95 663.98 130.80 669.40 C133.65 674.82 136.83 681.63 139.40 688.20 C141.97 694.77 143.92 701.38 146.20 708.80 C148.48 716.22 150.82 724.72 153.10 732.70 C155.38 740.68 157.62 748.70 159.90 756.70 C162.18 764.70 164.52 772.70 166.80 780.70 C169.08 788.70 171.32 796.43 173.60 804.70 C175.88 812.97 178.50 822.88 180.50 830.30 C182.50 837.72 184.18 844.05 185.60 849.20 C187.02 854.35 187.72 858.30 189.00 861.20 C190.28 864.10 191.80 865.67 193.30 866.60 C194.80 867.53 195.15 866.77 198.00 866.80 C200.85 866.83 206.27 866.80 210.40 866.80 C214.53 866.80 218.67 866.80 222.80 866.80 C226.93 866.80 231.07 866.80 235.20 866.80 C239.33 866.80 243.47 866.80 247.60 866.80 C251.73 866.80 255.87 866.80 260.00 866.80 C264.13 866.80 268.27 866.80 272.40 866.80 C276.53 866.80 280.67 866.80 284.80 866.80 C288.93 866.80 293.07 866.80 297.20 866.80 C301.33 866.80 305.47 866.80 309.60 866.80 C313.73 866.80 317.87 866.80 322.00 866.80 C326.13 866.80 330.27 866.80 334.40 866.80 C338.53 866.80 342.67 866.80 346.80 866.80 C350.93 866.80 355.07 866.80 359.20 866.80 C363.33 866.80 367.47 866.80 371.60 866.80 C375.73 866.80 379.87 866.80 384.00 866.80 C388.13 866.80 392.27 866.80 396.40 866.80 C400.53 866.80 404.67 866.80 408.80 866.80 C412.93 866.80 417.07 866.80 421.20 866.80 C425.33 866.80 429.47 866.80 433.60 866.80 C437.73 866.80 441.87 866.80 446.00 866.80 C450.13 866.80 454.27 866.80 458.40 866.80 C462.53 866.80 466.67 866.80 470.80 866.80 C474.93 866.80 479.07 866.80 483.20 866.80 C487.33 866.80 491.47 866.80 495.60 866.80 C499.73 866.80 505.93 866.80 508.00 866.80" fill="none" stroke="#ecac1e" stroke-width="1.9" stroke-linejoin="round" stroke-linecap="round"/>
<path d="M104.20 565.10 C106.63 565.10 109.02 565.73 111.50 567.00 C113.98 568.27 116.57 570.15 119.10 572.70 C121.63 575.25 124.15 578.17 126.70 582.30 C129.25 586.43 131.85 591.47 134.40 597.50 C136.95 603.53 140.17 613.08 142.00 618.50 C143.83 623.92 143.83 624.67 145.40 630.00 C146.97 635.33 148.98 641.93 151.40 650.50 C153.82 659.07 157.05 671.40 159.90 681.40 C162.75 691.40 165.93 701.37 168.50 710.50 C171.07 719.63 173.02 727.93 175.30 736.20 C177.58 744.47 180.20 753.25 182.20 760.10 C184.20 766.95 185.58 772.45 187.30 777.30 C189.02 782.15 190.63 785.50 192.50 789.20 C194.37 792.90 196.08 795.87 198.50 799.50 C200.92 803.13 204.32 807.50 207.00 811.00 C209.68 814.50 211.73 817.48 214.60 820.50 C217.47 823.52 221.02 826.55 224.20 829.10 C227.38 831.65 230.52 833.73 233.70 835.80 C236.88 837.87 240.12 839.75 243.30 841.50 C246.48 843.25 249.62 844.87 252.80 846.30 C255.98 847.73 259.22 848.83 262.40 850.10 C265.58 851.37 268.72 852.78 271.90 853.90 C275.08 855.02 278.32 855.90 281.50 856.80 C284.68 857.70 287.92 858.50 291.00 859.30 C294.08 860.10 295.17 860.85 300.00 861.60 C304.83 862.35 313.33 863.23 320.00 863.80 C326.67 864.37 331.17 864.60 340.00 865.00 C348.83 865.40 364.89 865.98 373.00 866.20 C381.11 866.42 383.44 866.29 388.67 866.33 C393.89 866.38 399.11 866.42 404.33 866.47 C409.56 866.51 415.29 866.57 420.00 866.60 C424.71 866.63 428.38 866.62 432.57 866.63 C436.76 866.64 440.95 866.65 445.14 866.66 C449.33 866.67 453.52 866.68 457.71 866.69 C461.90 866.70 466.10 866.70 470.29 866.71 C474.48 866.72 478.67 866.73 482.86 866.74 C487.05 866.75 491.24 866.76 495.43 866.77 C499.62 866.78 505.90 866.80 508.00 866.80" fill="none" stroke="#d9481a" stroke-width="1.9" stroke-linejoin="round" stroke-linecap="round"/>
<path d="M104.30 790.60 C108.57 790.60 112.12 790.47 117.10 790.10 C122.08 789.73 128.48 788.88 134.20 788.40 C139.92 787.92 146.25 787.52 151.40 787.20 C156.55 786.88 161.12 786.62 165.10 786.50 C169.08 786.38 172.17 786.27 175.30 786.50 C178.43 786.73 181.62 787.15 183.90 787.90 C186.18 788.65 187.43 789.78 189.00 791.00 C190.57 792.22 191.72 793.60 193.30 795.20 C194.88 796.80 196.22 797.97 198.50 800.60 C200.78 803.23 204.32 807.68 207.00 811.00 C209.68 814.32 211.73 817.48 214.60 820.50 C217.47 823.52 221.02 826.55 224.20 829.10 C227.38 831.65 230.52 833.73 233.70 835.80 C236.88 837.87 240.12 839.75 243.30 841.50 C246.48 843.25 249.62 844.87 252.80 846.30 C255.98 847.73 259.22 848.83 262.40 850.10 C265.58 851.37 268.72 852.78 271.90 853.90 C275.08 855.02 278.32 855.90 281.50 856.80 C284.68 857.70 287.92 858.50 291.00 859.30 C294.08 860.10 295.17 860.85 300.00 861.60 C304.83 862.35 313.33 863.23 320.00 863.80 C326.67 864.37 331.17 864.60 340.00 865.00 C348.83 865.40 364.89 865.98 373.00 866.20 C381.11 866.42 383.44 866.29 388.67 866.33 C393.89 866.38 399.11 866.42 404.33 866.47 C409.56 866.51 415.29 866.57 420.00 866.60 C424.71 866.63 428.38 866.62 432.57 866.63 C436.76 866.64 440.95 866.65 445.14 866.66 C449.33 866.67 453.52 866.68 457.71 866.69 C461.90 866.70 466.10 866.70 470.29 866.71 C474.48 866.72 478.67 866.73 482.86 866.74 C487.05 866.75 491.24 866.76 495.43 866.77 C499.62 866.78 505.90 866.80 508.00 866.80" fill="none" stroke="#7e2a8e" stroke-width="1.9" stroke-linejoin="round" stroke-linecap="round"/>
<g fill="#0f6fbf"><circle cx="740.3" cy="820.8" r="1.9"/><circle cx="703.0" cy="781.3" r="1.9"/><circle cx="648.2" cy="711.9" r="1.9"/><circle cx="905.4" cy="863.0" r="1.9"/><circle cx="897.3" cy="864.7" r="1.9"/><circle cx="756.5" cy="830.9" r="1.9"/><circle cx="711.9" cy="792.3" r="1.9"/><circle cx="933.0" cy="865.0" r="1.9"/><circle cx="911.8" cy="864.3" r="1.9"/><circle cx="721.7" cy="811.6" r="1.9"/><circle cx="768.9" cy="843.1" r="1.9"/><circle cx="917.4" cy="867.5" r="1.9"/><circle cx="922.9" cy="863.5" r="1.9"/><circle cx="875.1" cy="863.3" r="1.9"/><circle cx="831.3" cy="859.9" r="1.9"/><circle cx="664.7" cy="719.3" r="1.9"/><circle cx="934.5" cy="864.3" r="1.9"/><circle cx="765.3" cy="841.1" r="1.9"/><circle cx="929.1" cy="868.9" r="1.9"/><circle cx="916.0" cy="867.1" r="1.9"/><circle cx="832.0" cy="863.2" r="1.9"/><circle cx="809.2" cy="854.8" r="1.9"/><circle cx="706.2" cy="790.3" r="1.9"/><circle cx="628.0" cy="653.6" r="1.9"/><circle cx="630.9" cy="677.0" r="1.9"/><circle cx="839.4" cy="863.2" r="1.9"/><circle cx="821.3" cy="862.7" r="1.9"/><circle cx="722.6" cy="796.5" r="1.9"/><circle cx="803.5" cy="854.0" r="1.9"/><circle cx="756.3" cy="830.4" r="1.9"/><circle cx="785.0" cy="847.6" r="1.9"/><circle cx="845.9" cy="864.4" r="1.9"/><circle cx="928.1" cy="865.2" r="1.9"/><circle cx="737.3" cy="819.8" r="1.9"/><circle cx="897.3" cy="866.1" r="1.9"/><circle cx="776.4" cy="844.9" r="1.9"/><circle cx="714.2" cy="798.4" r="1.9"/><circle cx="881.3" cy="864.6" r="1.9"/><circle cx="926.4" cy="862.9" r="1.9"/><circle cx="939.8" cy="866.7" r="1.9"/><circle cx="761.2" cy="832.1" r="1.9"/><circle cx="802.8" cy="855.4" r="1.9"/><circle cx="936.3" cy="868.1" r="1.9"/><circle cx="762.8" cy="840.7" r="1.9"/><circle cx="720.7" cy="806.5" r="1.9"/><circle cx="793.5" cy="851.0" r="1.9"/><circle cx="940.2" cy="866.0" r="1.9"/><circle cx="629.5" cy="669.0" r="1.9"/><circle cx="710.3" cy="791.9" r="1.9"/><circle cx="761.7" cy="839.2" r="1.9"/><circle cx="669.9" cy="727.6" r="1.9"/><circle cx="728.2" cy="812.5" r="1.9"/><circle cx="642.4" cy="688.4" r="1.9"/><circle cx="876.3" cy="864.3" r="1.9"/><circle cx="700.3" cy="775.6" r="1.9"/><circle cx="745.6" cy="826.4" r="1.9"/><circle cx="947.5" cy="864.4" r="1.9"/><circle cx="899.3" cy="863.6" r="1.9"/><circle cx="802.4" cy="852.2" r="1.9"/><circle cx="742.7" cy="825.4" r="1.9"/><circle cx="802.9" cy="852.5" r="1.9"/><circle cx="745.4" cy="826.4" r="1.9"/><circle cx="924.9" cy="864.6" r="1.9"/><circle cx="747.7" cy="831.6" r="1.9"/><circle cx="742.9" cy="824.8" r="1.9"/><circle cx="920.7" cy="864.3" r="1.9"/><circle cx="696.1" cy="765.7" r="1.9"/><circle cx="847.7" cy="861.6" r="1.9"/><circle cx="946.0" cy="869.0" r="1.9"/><circle cx="870.7" cy="862.2" r="1.9"/><circle cx="903.2" cy="865.3" r="1.9"/><circle cx="667.1" cy="736.0" r="1.9"/><circle cx="729.5" cy="808.4" r="1.9"/><circle cx="932.4" cy="868.4" r="1.9"/><circle cx="778.4" cy="847.0" r="1.9"/><circle cx="867.8" cy="867.0" r="1.9"/><circle cx="908.6" cy="867.8" r="1.9"/><circle cx="878.6" cy="865.1" r="1.9"/><circle cx="753.2" cy="826.4" r="1.9"/><circle cx="654.2" cy="716.1" r="1.9"/><circle cx="942.1" cy="863.4" r="1.9"/><circle cx="629.3" cy="672.1" r="1.9"/><circle cx="927.0" cy="862.4" r="1.9"/><circle cx="874.0" cy="861.2" r="1.9"/><circle cx="643.3" cy="688.7" r="1.9"/><circle cx="848.8" cy="860.8" r="1.9"/><circle cx="893.0" cy="863.9" r="1.9"/><circle cx="932.0" cy="866.3" r="1.9"/><circle cx="922.2" cy="863.2" r="1.9"/><circle cx="901.4" cy="863.0" r="1.9"/><circle cx="922.5" cy="869.0" r="1.9"/><circle cx="725.4" cy="811.6" r="1.9"/><circle cx="875.0" cy="866.4" r="1.9"/><circle cx="899.3" cy="861.8" r="1.9"/><circle cx="821.4" cy="859.5" r="1.9"/><circle cx="855.5" cy="863.8" r="1.9"/><circle cx="826.4" cy="858.2" r="1.9"/><circle cx="694.5" cy="777.6" r="1.9"/><circle cx="787.2" cy="848.3" r="1.9"/><circle cx="913.7" cy="867.5" r="1.9"/><circle cx="911.5" cy="863.5" r="1.9"/><circle cx="793.4" cy="850.0" r="1.9"/><circle cx="902.4" cy="865.7" r="1.9"/><circle cx="825.8" cy="858.6" r="1.9"/><circle cx="941.1" cy="865.2" r="1.9"/><circle cx="862.3" cy="863.5" r="1.9"/><circle cx="924.1" cy="867.5" r="1.9"/><circle cx="918.1" cy="865.6" r="1.9"/><circle cx="900.0" cy="861.8" r="1.9"/><circle cx="722.8" cy="803.8" r="1.9"/><circle cx="766.1" cy="837.6" r="1.9"/><circle cx="904.9" cy="866.8" r="1.9"/><circle cx="709.3" cy="789.6" r="1.9"/><circle cx="700.1" cy="782.2" r="1.9"/><circle cx="828.0" cy="861.5" r="1.9"/><circle cx="928.1" cy="863.8" r="1.9"/><circle cx="884.5" cy="863.3" r="1.9"/><circle cx="842.2" cy="862.3" r="1.9"/><circle cx="825.8" cy="860.3" r="1.9"/><circle cx="655.1" cy="717.3" r="1.9"/><circle cx="744.1" cy="824.6" r="1.9"/><circle cx="897.7" cy="866.4" r="1.9"/><circle cx="945.1" cy="867.8" r="1.9"/><circle cx="859.4" cy="865.8" r="1.9"/><circle cx="770.1" cy="838.4" r="1.9"/><circle cx="929.6" cy="866.7" r="1.9"/><circle cx="767.3" cy="836.6" r="1.9"/><circle cx="860.3" cy="866.3" r="1.9"/><circle cx="812.6" cy="854.9" r="1.9"/><circle cx="787.1" cy="845.5" r="1.9"/><circle cx="872.7" cy="864.0" r="1.9"/><circle cx="697.3" cy="775.5" r="1.9"/><circle cx="907.3" cy="863.6" r="1.9"/><circle cx="790.4" cy="845.7" r="1.9"/><circle cx="850.6" cy="864.7" r="1.9"/><circle cx="667.5" cy="723.2" r="1.9"/><circle cx="800.3" cy="852.8" r="1.9"/><circle cx="870.7" cy="864.9" r="1.9"/><circle cx="774.9" cy="843.2" r="1.9"/><circle cx="937.6" cy="865.5" r="1.9"/><circle cx="912.0" cy="864.4" r="1.9"/><circle cx="938.4" cy="868.8" r="1.9"/><circle cx="704.8" cy="790.2" r="1.9"/><circle cx="850.0" cy="864.2" r="1.9"/><circle cx="935.2" cy="865.5" r="1.9"/><circle cx="682.1" cy="766.6" r="1.9"/><circle cx="870.1" cy="865.7" r="1.9"/><circle cx="861.5" cy="866.6" r="1.9"/><circle cx="912.3" cy="866.7" r="1.9"/><circle cx="801.4" cy="849.8" r="1.9"/><circle cx="856.6" cy="861.5" r="1.9"/><circle cx="768.8" cy="842.6" r="1.9"/><circle cx="737.9" cy="823.1" r="1.9"/><circle cx="947.2" cy="863.8" r="1.9"/><circle cx="927.0" cy="867.1" r="1.9"/><circle cx="909.2" cy="864.3" r="1.9"/><circle cx="759.2" cy="835.9" r="1.9"/><circle cx="717.2" cy="800.6" r="1.9"/><circle cx="840.9" cy="863.1" r="1.9"/><circle cx="787.8" cy="851.8" r="1.9"/><circle cx="937.9" cy="866.6" r="1.9"/><circle cx="649.1" cy="703.5" r="1.9"/><circle cx="942.6" cy="862.0" r="1.9"/><circle cx="857.9" cy="864.1" r="1.9"/><circle cx="769.7" cy="839.0" r="1.9"/><circle cx="734.4" cy="816.6" r="1.9"/><circle cx="933.2" cy="863.4" r="1.9"/><circle cx="699.8" cy="784.6" r="1.9"/><circle cx="741.2" cy="826.3" r="1.9"/><circle cx="707.2" cy="779.5" r="1.9"/><circle cx="903.1" cy="866.1" r="1.9"/><circle cx="939.6" cy="867.9" r="1.9"/><circle cx="750.9" cy="832.5" r="1.9"/><circle cx="669.7" cy="733.8" r="1.9"/><circle cx="771.3" cy="840.7" r="1.9"/><circle cx="946.4" cy="865.5" r="1.9"/><circle cx="761.2" cy="833.4" r="1.9"/><circle cx="889.4" cy="866.7" r="1.9"/><circle cx="871.0" cy="860.9" r="1.9"/><circle cx="886.6" cy="865.9" r="1.9"/><circle cx="846.3" cy="863.8" r="1.9"/><circle cx="844.2" cy="865.4" r="1.9"/><circle cx="830.4" cy="858.6" r="1.9"/><circle cx="825.1" cy="856.7" r="1.9"/><circle cx="649.2" cy="694.2" r="1.9"/><circle cx="748.4" cy="824.1" r="1.9"/><circle cx="796.7" cy="854.6" r="1.9"/><circle cx="775.5" cy="847.7" r="1.9"/><circle cx="795.2" cy="852.6" r="1.9"/><circle cx="922.2" cy="865.4" r="1.9"/><circle cx="939.8" cy="865.3" r="1.9"/><circle cx="916.1" cy="864.6" r="1.9"/><circle cx="910.5" cy="865.1" r="1.9"/><circle cx="822.9" cy="856.9" r="1.9"/><circle cx="886.4" cy="863.5" r="1.9"/><circle cx="947.2" cy="863.0" r="1.9"/><circle cx="883.5" cy="861.1" r="1.9"/><circle cx="792.8" cy="853.6" r="1.9"/><circle cx="915.9" cy="864.3" r="1.9"/><circle cx="676.2" cy="750.0" r="1.9"/><circle cx="861.9" cy="862.7" r="1.9"/><circle cx="868.9" cy="865.1" r="1.9"/><circle cx="926.6" cy="866.0" r="1.9"/><circle cx="865.1" cy="864.4" r="1.9"/><circle cx="748.3" cy="826.4" r="1.9"/><circle cx="768.0" cy="842.8" r="1.9"/><circle cx="926.3" cy="866.8" r="1.9"/><circle cx="912.9" cy="866.5" r="1.9"/><circle cx="925.4" cy="862.8" r="1.9"/><circle cx="871.8" cy="866.8" r="1.9"/><circle cx="881.7" cy="866.5" r="1.9"/><circle cx="945.4" cy="867.3" r="1.9"/><circle cx="784.0" cy="844.0" r="1.9"/><circle cx="829.1" cy="859.0" r="1.9"/><circle cx="842.4" cy="863.5" r="1.9"/><circle cx="725.0" cy="810.5" r="1.9"/><circle cx="651.9" cy="702.1" r="1.9"/><circle cx="881.2" cy="868.6" r="1.9"/><circle cx="682.0" cy="743.6" r="1.9"/><circle cx="832.3" cy="861.5" r="1.9"/><circle cx="915.1" cy="867.2" r="1.9"/><circle cx="889.9" cy="866.7" r="1.9"/><circle cx="823.3" cy="858.3" r="1.9"/><circle cx="925.1" cy="864.3" r="1.9"/><circle cx="893.5" cy="864.4" r="1.9"/><circle cx="795.8" cy="854.1" r="1.9"/><circle cx="858.1" cy="862.0" r="1.9"/><circle cx="942.8" cy="865.5" r="1.9"/><circle cx="894.8" cy="864.0" r="1.9"/><circle cx="879.7" cy="865.8" r="1.9"/><circle cx="902.8" cy="865.7" r="1.9"/><circle cx="712.9" cy="799.7" r="1.9"/><circle cx="924.4" cy="864.3" r="1.9"/><circle cx="895.2" cy="865.6" r="1.9"/><circle cx="801.7" cy="857.2" r="1.9"/><circle cx="772.9" cy="845.5" r="1.9"/><circle cx="862.1" cy="864.1" r="1.9"/><circle cx="751.4" cy="827.9" r="1.9"/><circle cx="760.5" cy="835.0" r="1.9"/><circle cx="895.8" cy="865.5" r="1.9"/><circle cx="663.0" cy="718.9" r="1.9"/><circle cx="666.6" cy="728.7" r="1.9"/><circle cx="729.8" cy="809.2" r="1.9"/><circle cx="925.2" cy="866.7" r="1.9"/><circle cx="829.4" cy="859.2" r="1.9"/><circle cx="816.7" cy="857.0" r="1.9"/><circle cx="946.0" cy="865.3" r="1.9"/><circle cx="914.9" cy="864.3" r="1.9"/><circle cx="680.4" cy="746.2" r="1.9"/><circle cx="848.2" cy="863.3" r="1.9"/><circle cx="872.3" cy="863.9" r="1.9"/><circle cx="915.7" cy="865.8" r="1.9"/><circle cx="715.0" cy="798.5" r="1.9"/><circle cx="897.7" cy="865.5" r="1.9"/><circle cx="715.9" cy="799.0" r="1.9"/><circle cx="774.1" cy="842.1" r="1.9"/><circle cx="775.4" cy="840.0" r="1.9"/><circle cx="787.8" cy="849.2" r="1.9"/><circle cx="945.9" cy="865.4" r="1.9"/><circle cx="939.0" cy="864.8" r="1.9"/><circle cx="938.0" cy="867.8" r="1.9"/><circle cx="640.9" cy="708.2" r="1.9"/><circle cx="928.0" cy="866.4" r="1.9"/><circle cx="914.9" cy="867.9" r="1.9"/><circle cx="674.4" cy="739.9" r="1.9"/><circle cx="823.5" cy="858.4" r="1.9"/><circle cx="842.5" cy="864.1" r="1.9"/><circle cx="892.4" cy="865.4" r="1.9"/><circle cx="913.9" cy="865.4" r="1.9"/><circle cx="702.0" cy="783.7" r="1.9"/><circle cx="733.1" cy="816.5" r="1.9"/><circle cx="722.2" cy="801.5" r="1.9"/><circle cx="863.3" cy="865.0" r="1.9"/><circle cx="883.9" cy="863.4" r="1.9"/><circle cx="936.6" cy="865.2" r="1.9"/><circle cx="944.2" cy="864.4" r="1.9"/><circle cx="730.3" cy="812.0" r="1.9"/><circle cx="911.0" cy="865.2" r="1.9"/><circle cx="889.4" cy="863.0" r="1.9"/><circle cx="626.1" cy="666.6" r="1.9"/><circle cx="767.5" cy="840.1" r="1.9"/><circle cx="694.9" cy="778.1" r="1.9"/><circle cx="791.6" cy="852.6" r="1.9"/><circle cx="813.9" cy="857.0" r="1.9"/><circle cx="693.1" cy="762.9" r="1.9"/><circle cx="889.7" cy="864.3" r="1.9"/><circle cx="805.3" cy="854.0" r="1.9"/><circle cx="845.8" cy="861.7" r="1.9"/><circle cx="926.1" cy="870.3" r="1.9"/><circle cx="837.2" cy="861.3" r="1.9"/><circle cx="715.9" cy="803.1" r="1.9"/><circle cx="856.7" cy="865.4" r="1.9"/><circle cx="887.9" cy="863.0" r="1.9"/><circle cx="905.4" cy="865.0" r="1.9"/><circle cx="694.2" cy="769.7" r="1.9"/><circle cx="759.9" cy="835.4" r="1.9"/><circle cx="810.5" cy="857.7" r="1.9"/><circle cx="710.6" cy="787.8" r="1.9"/><circle cx="781.4" cy="847.4" r="1.9"/><circle cx="939.5" cy="867.8" r="1.9"/><circle cx="934.9" cy="865.9" r="1.9"/><circle cx="840.2" cy="860.5" r="1.9"/><circle cx="842.0" cy="864.8" r="1.9"/><circle cx="723.3" cy="802.0" r="1.9"/><circle cx="821.3" cy="856.1" r="1.9"/><circle cx="855.8" cy="861.1" r="1.9"/><circle cx="945.5" cy="864.2" r="1.9"/><circle cx="856.1" cy="861.5" r="1.9"/><circle cx="635.6" cy="675.1" r="1.9"/><circle cx="658.6" cy="727.2" r="1.9"/><circle cx="936.0" cy="865.3" r="1.9"/><circle cx="841.9" cy="864.8" r="1.9"/><circle cx="751.2" cy="828.2" r="1.9"/><circle cx="919.9" cy="864.8" r="1.9"/><circle cx="728.7" cy="815.3" r="1.9"/><circle cx="879.8" cy="864.5" r="1.9"/><circle cx="939.7" cy="864.8" r="1.9"/><circle cx="804.8" cy="856.3" r="1.9"/><circle cx="837.9" cy="859.8" r="1.9"/><circle cx="652.4" cy="715.8" r="1.9"/><circle cx="809.9" cy="854.6" r="1.9"/><circle cx="929.9" cy="864.8" r="1.9"/><circle cx="759.1" cy="831.7" r="1.9"/><circle cx="909.4" cy="869.0" r="1.9"/><circle cx="725.5" cy="802.7" r="1.9"/><circle cx="947.7" cy="867.9" r="1.9"/><circle cx="762.1" cy="839.7" r="1.9"/><circle cx="666.8" cy="729.4" r="1.9"/><circle cx="867.3" cy="865.5" r="1.9"/><circle cx="832.7" cy="863.4" r="1.9"/><circle cx="843.4" cy="862.7" r="1.9"/><circle cx="810.8" cy="857.4" r="1.9"/><circle cx="692.7" cy="763.9" r="1.9"/><circle cx="774.0" cy="840.1" r="1.9"/><circle cx="779.3" cy="845.6" r="1.9"/><circle cx="682.9" cy="747.8" r="1.9"/><circle cx="867.5" cy="860.2" r="1.9"/><circle cx="704.1" cy="780.7" r="1.9"/><circle cx="897.9" cy="866.9" r="1.9"/><circle cx="766.8" cy="840.1" r="1.9"/><circle cx="786.1" cy="848.0" r="1.9"/><circle cx="839.8" cy="864.4" r="1.9"/><circle cx="745.0" cy="828.1" r="1.9"/><circle cx="824.6" cy="860.5" r="1.9"/><circle cx="870.0" cy="866.7" r="1.9"/><circle cx="849.0" cy="863.7" r="1.9"/><circle cx="721.9" cy="800.6" r="1.9"/><circle cx="888.1" cy="865.6" r="1.9"/><circle cx="938.8" cy="867.3" r="1.9"/><circle cx="766.7" cy="838.6" r="1.9"/><circle cx="771.2" cy="842.0" r="1.9"/><circle cx="728.7" cy="809.8" r="1.9"/><circle cx="825.0" cy="860.2" r="1.9"/><circle cx="873.1" cy="862.9" r="1.9"/><circle cx="770.8" cy="838.2" r="1.9"/><circle cx="775.5" cy="846.6" r="1.9"/><circle cx="913.0" cy="865.1" r="1.9"/><circle cx="946.9" cy="865.3" r="1.9"/><circle cx="920.2" cy="863.0" r="1.9"/><circle cx="845.2" cy="862.6" r="1.9"/><circle cx="734.7" cy="817.9" r="1.9"/><circle cx="797.4" cy="847.6" r="1.9"/><circle cx="742.6" cy="829.7" r="1.9"/><circle cx="761.8" cy="835.3" r="1.9"/><circle cx="664.5" cy="724.4" r="1.9"/><circle cx="639.1" cy="690.7" r="1.9"/><circle cx="946.6" cy="868.6" r="1.9"/><circle cx="845.7" cy="861.5" r="1.9"/><circle cx="942.8" cy="866.8" r="1.9"/><circle cx="877.6" cy="863.3" r="1.9"/><circle cx="787.6" cy="848.6" r="1.9"/><circle cx="826.7" cy="862.5" r="1.9"/><circle cx="935.0" cy="868.4" r="1.9"/><circle cx="797.0" cy="851.6" r="1.9"/><circle cx="662.8" cy="725.4" r="1.9"/><circle cx="760.0" cy="834.8" r="1.9"/><circle cx="687.5" cy="769.5" r="1.9"/><circle cx="895.7" cy="864.3" r="1.9"/><circle cx="923.7" cy="866.7" r="1.9"/><circle cx="924.9" cy="863.2" r="1.9"/><circle cx="798.2" cy="852.6" r="1.9"/><circle cx="931.6" cy="866.1" r="1.9"/><circle cx="923.2" cy="862.3" r="1.9"/><circle cx="884.6" cy="865.2" r="1.9"/><circle cx="810.4" cy="857.4" r="1.9"/><circle cx="850.5" cy="866.9" r="1.9"/><circle cx="862.5" cy="862.7" r="1.9"/><circle cx="777.9" cy="845.3" r="1.9"/><circle cx="922.5" cy="867.4" r="1.9"/><circle cx="741.1" cy="827.2" r="1.9"/><circle cx="717.5" cy="808.8" r="1.9"/><circle cx="784.6" cy="846.8" r="1.9"/><circle cx="806.4" cy="859.0" r="1.9"/><circle cx="686.2" cy="755.1" r="1.9"/><circle cx="919.8" cy="862.8" r="1.9"/><circle cx="897.0" cy="864.9" r="1.9"/><circle cx="820.8" cy="859.0" r="1.9"/><circle cx="695.7" cy="778.6" r="1.9"/><circle cx="786.3" cy="848.6" r="1.9"/><circle cx="847.4" cy="860.0" r="1.9"/><circle cx="872.4" cy="861.4" r="1.9"/><circle cx="903.4" cy="865.7" r="1.9"/><circle cx="941.8" cy="863.3" r="1.9"/><circle cx="782.2" cy="848.1" r="1.9"/><circle cx="832.0" cy="860.9" r="1.9"/><circle cx="927.2" cy="868.7" r="1.9"/><circle cx="892.0" cy="865.6" r="1.9"/><circle cx="862.5" cy="865.2" r="1.9"/><circle cx="718.7" cy="804.0" r="1.9"/><circle cx="938.8" cy="866.7" r="1.9"/><circle cx="920.8" cy="865.7" r="1.9"/><circle cx="909.5" cy="864.8" r="1.9"/><circle cx="898.8" cy="863.3" r="1.9"/><circle cx="913.9" cy="862.7" r="1.9"/><circle cx="850.1" cy="863.3" r="1.9"/><circle cx="645.7" cy="694.2" r="1.9"/><circle cx="812.3" cy="857.5" r="1.9"/><circle cx="735.5" cy="823.3" r="1.9"/><circle cx="904.9" cy="863.0" r="1.9"/><circle cx="712.5" cy="793.2" r="1.9"/><circle cx="721.7" cy="805.0" r="1.9"/><circle cx="824.6" cy="860.9" r="1.9"/><circle cx="782.6" cy="849.3" r="1.9"/><circle cx="883.9" cy="865.8" r="1.9"/><circle cx="930.5" cy="867.0" r="1.9"/><circle cx="683.1" cy="748.7" r="1.9"/><circle cx="746.5" cy="823.1" r="1.9"/><circle cx="778.7" cy="842.1" r="1.9"/><circle cx="884.5" cy="863.5" r="1.9"/><circle cx="727.7" cy="814.0" r="1.9"/><circle cx="745.2" cy="829.8" r="1.9"/><circle cx="650.9" cy="703.0" r="1.9"/><circle cx="916.5" cy="867.8" r="1.9"/><circle cx="915.4" cy="868.2" r="1.9"/><circle cx="888.1" cy="863.6" r="1.9"/><circle cx="808.3" cy="858.9" r="1.9"/><circle cx="909.5" cy="864.6" r="1.9"/><circle cx="697.5" cy="778.1" r="1.9"/><circle cx="710.5" cy="800.4" r="1.9"/><circle cx="837.2" cy="860.8" r="1.9"/><circle cx="917.6" cy="867.0" r="1.9"/><circle cx="744.8" cy="823.8" r="1.9"/><circle cx="867.2" cy="864.3" r="1.9"/><circle cx="798.9" cy="853.4" r="1.9"/><circle cx="847.3" cy="861.8" r="1.9"/><circle cx="932.9" cy="866.7" r="1.9"/><circle cx="907.9" cy="863.6" r="1.9"/><circle cx="934.7" cy="863.2" r="1.9"/><circle cx="940.2" cy="866.5" r="1.9"/><circle cx="841.9" cy="864.1" r="1.9"/><circle cx="869.9" cy="865.3" r="1.9"/><circle cx="923.9" cy="866.3" r="1.9"/><circle cx="841.0" cy="860.8" r="1.9"/><circle cx="658.7" cy="713.4" r="1.9"/><circle cx="818.2" cy="856.5" r="1.9"/><circle cx="757.2" cy="832.7" r="1.9"/><circle cx="911.4" cy="865.2" r="1.9"/><circle cx="907.9" cy="866.4" r="1.9"/><circle cx="852.2" cy="863.9" r="1.9"/><circle cx="799.2" cy="849.1" r="1.9"/><circle cx="856.6" cy="862.6" r="1.9"/><circle cx="923.9" cy="863.8" r="1.9"/><circle cx="780.8" cy="846.1" r="1.9"/><circle cx="943.0" cy="867.0" r="1.9"/><circle cx="940.6" cy="864.4" r="1.9"/><circle cx="777.4" cy="840.7" r="1.9"/><circle cx="729.5" cy="813.9" r="1.9"/><circle cx="838.0" cy="864.0" r="1.9"/><circle cx="688.5" cy="761.2" r="1.9"/><circle cx="833.5" cy="859.7" r="1.9"/><circle cx="909.9" cy="866.8" r="1.9"/><circle cx="930.1" cy="865.2" r="1.9"/><circle cx="879.6" cy="864.6" r="1.9"/><circle cx="825.2" cy="863.2" r="1.9"/><circle cx="750.0" cy="827.2" r="1.9"/><circle cx="893.5" cy="863.3" r="1.9"/><circle cx="927.7" cy="863.8" r="1.9"/><circle cx="826.4" cy="861.1" r="1.9"/><circle cx="940.8" cy="864.4" r="1.9"/><circle cx="842.3" cy="861.5" r="1.9"/><circle cx="857.3" cy="864.6" r="1.9"/><circle cx="832.0" cy="861.7" r="1.9"/><circle cx="713.4" cy="798.1" r="1.9"/><circle cx="772.4" cy="840.9" r="1.9"/><circle cx="863.8" cy="865.0" r="1.9"/><circle cx="820.6" cy="858.2" r="1.9"/><circle cx="874.6" cy="865.1" r="1.9"/><circle cx="810.8" cy="855.1" r="1.9"/><circle cx="880.9" cy="862.1" r="1.9"/><circle cx="638.7" cy="684.6" r="1.9"/><circle cx="925.1" cy="864.4" r="1.9"/><circle cx="827.7" cy="856.9" r="1.9"/><circle cx="748.7" cy="828.6" r="1.9"/><circle cx="687.8" cy="770.6" r="1.9"/><circle cx="635.7" cy="682.5" r="1.9"/><circle cx="790.6" cy="852.4" r="1.9"/><circle cx="782.4" cy="848.5" r="1.9"/><circle cx="795.7" cy="850.3" r="1.9"/><circle cx="689.0" cy="778.3" r="1.9"/><circle cx="897.7" cy="864.1" r="1.9"/><circle cx="886.4" cy="863.1" r="1.9"/><circle cx="787.1" cy="849.7" r="1.9"/><circle cx="903.7" cy="862.8" r="1.9"/><circle cx="699.5" cy="775.0" r="1.9"/><circle cx="862.9" cy="867.1" r="1.9"/><circle cx="645.3" cy="697.0" r="1.9"/><circle cx="875.0" cy="864.4" r="1.9"/><circle cx="878.0" cy="865.1" r="1.9"/><circle cx="757.7" cy="835.1" r="1.9"/><circle cx="801.6" cy="860.2" r="1.9"/><circle cx="829.4" cy="856.2" r="1.9"/><circle cx="693.2" cy="772.2" r="1.9"/><circle cx="801.9" cy="853.2" r="1.9"/><circle cx="845.1" cy="865.7" r="1.9"/><circle cx="931.7" cy="864.2" r="1.9"/><circle cx="865.7" cy="867.5" r="1.9"/><circle cx="749.7" cy="830.5" r="1.9"/><circle cx="933.1" cy="868.5" r="1.9"/><circle cx="711.1" cy="790.0" r="1.9"/><circle cx="748.3" cy="828.7" r="1.9"/><circle cx="795.3" cy="849.5" r="1.9"/><circle cx="808.1" cy="855.0" r="1.9"/><circle cx="752.0" cy="828.7" r="1.9"/><circle cx="671.3" cy="731.5" r="1.9"/><circle cx="918.7" cy="866.1" r="1.9"/><circle cx="686.2" cy="749.4" r="1.9"/><circle cx="796.1" cy="852.1" r="1.9"/><circle cx="814.3" cy="859.9" r="1.9"/><circle cx="923.2" cy="863.8" r="1.9"/><circle cx="833.8" cy="858.2" r="1.9"/><circle cx="759.9" cy="837.2" r="1.9"/><circle cx="865.3" cy="863.0" r="1.9"/><circle cx="812.2" cy="859.9" r="1.9"/><circle cx="918.5" cy="865.8" r="1.9"/><circle cx="881.6" cy="865.5" r="1.9"/><circle cx="880.1" cy="862.2" r="1.9"/><circle cx="929.0" cy="867.3" r="1.9"/><circle cx="895.4" cy="863.6" r="1.9"/><circle cx="777.7" cy="845.9" r="1.9"/><circle cx="790.9" cy="847.5" r="1.9"/><circle cx="915.8" cy="866.2" r="1.9"/><circle cx="859.5" cy="862.8" r="1.9"/><circle cx="856.5" cy="859.4" r="1.9"/><circle cx="806.3" cy="855.8" r="1.9"/><circle cx="814.6" cy="859.0" r="1.9"/><circle cx="853.7" cy="865.3" r="1.9"/><circle cx="799.9" cy="851.1" r="1.9"/><circle cx="903.1" cy="868.1" r="1.9"/><circle cx="893.6" cy="864.0" r="1.9"/><circle cx="936.0" cy="866.7" r="1.9"/><circle cx="725.4" cy="806.1" r="1.9"/><circle cx="704.6" cy="782.9" r="1.9"/><circle cx="748.4" cy="830.4" r="1.9"/><circle cx="798.8" cy="854.4" r="1.9"/><circle cx="788.6" cy="848.4" r="1.9"/><circle cx="832.4" cy="861.3" r="1.9"/><circle cx="820.4" cy="857.9" r="1.9"/><circle cx="787.5" cy="847.0" r="1.9"/><circle cx="785.7" cy="850.7" r="1.9"/><circle cx="819.8" cy="859.6" r="1.9"/><circle cx="812.1" cy="858.8" r="1.9"/><circle cx="687.1" cy="764.7" r="1.9"/><circle cx="871.2" cy="867.4" r="1.9"/><circle cx="690.9" cy="762.2" r="1.9"/><circle cx="842.4" cy="863.2" r="1.9"/><circle cx="909.3" cy="862.9" r="1.9"/><circle cx="869.5" cy="868.1" r="1.9"/><circle cx="736.1" cy="822.6" r="1.9"/><circle cx="947.1" cy="868.3" r="1.9"/><circle cx="689.5" cy="762.5" r="1.9"/><circle cx="705.1" cy="789.3" r="1.9"/><circle cx="904.1" cy="865.6" r="1.9"/><circle cx="703.0" cy="788.5" r="1.9"/><circle cx="880.3" cy="868.0" r="1.9"/><circle cx="932.0" cy="864.2" r="1.9"/><circle cx="832.6" cy="864.5" r="1.9"/><circle cx="764.9" cy="842.3" r="1.9"/><circle cx="889.4" cy="863.8" r="1.9"/><circle cx="726.5" cy="809.8" r="1.9"/><circle cx="891.4" cy="864.4" r="1.9"/><circle cx="910.4" cy="864.5" r="1.9"/><circle cx="693.9" cy="770.7" r="1.9"/><circle cx="946.0" cy="863.9" r="1.9"/><circle cx="922.1" cy="864.6" r="1.9"/><circle cx="710.8" cy="794.7" r="1.9"/><circle cx="867.5" cy="865.8" r="1.9"/><circle cx="820.4" cy="856.4" r="1.9"/><circle cx="829.7" cy="857.3" r="1.9"/><circle cx="944.3" cy="869.6" r="1.9"/><circle cx="870.8" cy="867.0" r="1.9"/><circle cx="641.0" cy="668.8" r="1.9"/><circle cx="873.7" cy="864.4" r="1.9"/><circle cx="903.4" cy="864.3" r="1.9"/><circle cx="883.2" cy="866.2" r="1.9"/><circle cx="869.0" cy="862.3" r="1.9"/><circle cx="933.5" cy="864.9" r="1.9"/><circle cx="845.3" cy="862.5" r="1.9"/><circle cx="804.3" cy="855.8" r="1.9"/><circle cx="831.3" cy="864.3" r="1.9"/><circle cx="826.9" cy="861.3" r="1.9"/><circle cx="848.0" cy="865.7" r="1.9"/><circle cx="851.6" cy="863.6" r="1.9"/><circle cx="798.0" cy="854.4" r="1.9"/><circle cx="784.5" cy="842.9" r="1.9"/><circle cx="885.1" cy="865.5" r="1.9"/><circle cx="731.8" cy="806.0" r="1.9"/><circle cx="805.8" cy="858.3" r="1.9"/><circle cx="889.5" cy="862.2" r="1.9"/><circle cx="750.9" cy="830.7" r="1.9"/><circle cx="813.9" cy="854.2" r="1.9"/><circle cx="715.4" cy="794.3" r="1.9"/><circle cx="872.4" cy="862.6" r="1.9"/><circle cx="906.7" cy="863.5" r="1.9"/><circle cx="697.7" cy="775.0" r="1.9"/><circle cx="849.0" cy="862.9" r="1.9"/><circle cx="846.5" cy="861.5" r="1.9"/><circle cx="707.7" cy="788.8" r="1.9"/><circle cx="752.6" cy="833.7" r="1.9"/><circle cx="895.0" cy="865.2" r="1.9"/><circle cx="901.5" cy="863.7" r="1.9"/><circle cx="847.1" cy="861.5" r="1.9"/><circle cx="940.4" cy="869.1" r="1.9"/><circle cx="662.8" cy="727.4" r="1.9"/><circle cx="760.2" cy="834.3" r="1.9"/><circle cx="920.2" cy="868.7" r="1.9"/><circle cx="651.2" cy="694.4" r="1.9"/><circle cx="813.2" cy="859.7" r="1.9"/><circle cx="824.7" cy="862.1" r="1.9"/><circle cx="927.1" cy="866.1" r="1.9"/><circle cx="721.3" cy="802.0" r="1.9"/><circle cx="719.7" cy="809.6" r="1.9"/><circle cx="721.2" cy="804.7" r="1.9"/><circle cx="826.2" cy="864.9" r="1.9"/><circle cx="827.5" cy="857.9" r="1.9"/><circle cx="907.3" cy="864.9" r="1.9"/><circle cx="701.3" cy="772.7" r="1.9"/><circle cx="865.8" cy="866.3" r="1.9"/><circle cx="862.7" cy="864.5" r="1.9"/><circle cx="782.2" cy="847.6" r="1.9"/><circle cx="853.0" cy="865.0" r="1.9"/><circle cx="885.4" cy="865.9" r="1.9"/><circle cx="910.9" cy="862.6" r="1.9"/><circle cx="945.7" cy="864.3" r="1.9"/><circle cx="707.6" cy="787.7" r="1.9"/><circle cx="709.6" cy="798.5" r="1.9"/><circle cx="687.0" cy="759.6" r="1.9"/><circle cx="904.2" cy="862.6" r="1.9"/><circle cx="895.4" cy="868.9" r="1.9"/><circle cx="728.9" cy="813.7" r="1.9"/><circle cx="755.1" cy="837.0" r="1.9"/><circle cx="903.3" cy="866.9" r="1.9"/><circle cx="923.0" cy="862.6" r="1.9"/><circle cx="798.5" cy="851.0" r="1.9"/><circle cx="704.1" cy="779.4" r="1.9"/><circle cx="684.1" cy="753.7" r="1.9"/><circle cx="750.2" cy="831.9" r="1.9"/><circle cx="796.9" cy="853.2" r="1.9"/><circle cx="771.1" cy="842.9" r="1.9"/><circle cx="648.5" cy="700.5" r="1.9"/><circle cx="866.9" cy="861.3" r="1.9"/><circle cx="856.8" cy="863.4" r="1.9"/><circle cx="758.3" cy="835.5" r="1.9"/><circle cx="865.9" cy="867.3" r="1.9"/><circle cx="734.9" cy="811.7" r="1.9"/><circle cx="939.7" cy="866.1" r="1.9"/><circle cx="936.0" cy="868.4" r="1.9"/><circle cx="810.0" cy="857.6" r="1.9"/><circle cx="890.4" cy="863.3" r="1.9"/><circle cx="910.1" cy="867.5" r="1.9"/><circle cx="873.6" cy="866.9" r="1.9"/><circle cx="900.2" cy="862.8" r="1.9"/><circle cx="839.1" cy="859.5" r="1.9"/><circle cx="775.2" cy="840.9" r="1.9"/><circle cx="733.4" cy="813.8" r="1.9"/><circle cx="786.9" cy="850.0" r="1.9"/><circle cx="738.5" cy="822.3" r="1.9"/><circle cx="655.5" cy="717.6" r="1.9"/><circle cx="743.7" cy="821.4" r="1.9"/><circle cx="752.7" cy="829.7" r="1.9"/><circle cx="891.7" cy="863.1" r="1.9"/><circle cx="718.9" cy="802.6" r="1.9"/><circle cx="682.2" cy="754.0" r="1.9"/><circle cx="667.9" cy="729.8" r="1.9"/><circle cx="889.3" cy="865.6" r="1.9"/><circle cx="728.6" cy="813.0" r="1.9"/><circle cx="907.8" cy="864.5" r="1.9"/><circle cx="790.0" cy="846.7" r="1.9"/><circle cx="847.0" cy="864.1" r="1.9"/><circle cx="818.2" cy="860.9" r="1.9"/><circle cx="941.7" cy="866.8" r="1.9"/><circle cx="733.5" cy="812.1" r="1.9"/><circle cx="879.1" cy="858.9" r="1.9"/><circle cx="865.0" cy="864.4" r="1.9"/><circle cx="734.9" cy="818.2" r="1.9"/><circle cx="905.8" cy="865.6" r="1.9"/><circle cx="826.3" cy="857.3" r="1.9"/><circle cx="711.8" cy="793.0" r="1.9"/><circle cx="885.1" cy="864.6" r="1.9"/><circle cx="741.1" cy="827.9" r="1.9"/><circle cx="896.2" cy="865.2" r="1.9"/><circle cx="705.5" cy="793.0" r="1.9"/><circle cx="873.4" cy="863.2" r="1.9"/><circle cx="822.3" cy="861.4" r="1.9"/><circle cx="922.2" cy="867.9" r="1.9"/><circle cx="838.0" cy="861.2" r="1.9"/><circle cx="873.6" cy="864.0" r="1.9"/><circle cx="877.1" cy="867.3" r="1.9"/><circle cx="732.4" cy="814.4" r="1.9"/><circle cx="797.5" cy="855.8" r="1.9"/><circle cx="941.0" cy="863.9" r="1.9"/><circle cx="755.8" cy="831.7" r="1.9"/><circle cx="919.9" cy="864.5" r="1.9"/><circle cx="946.9" cy="864.5" r="1.9"/><circle cx="822.8" cy="858.7" r="1.9"/><circle cx="926.0" cy="867.3" r="1.9"/><circle cx="942.6" cy="866.7" r="1.9"/><circle cx="890.0" cy="862.3" r="1.9"/><circle cx="944.5" cy="867.8" r="1.9"/><circle cx="878.0" cy="864.3" r="1.9"/><circle cx="876.7" cy="866.7" r="1.9"/><circle cx="935.2" cy="862.2" r="1.9"/><circle cx="876.1" cy="865.9" r="1.9"/><circle cx="827.5" cy="861.8" r="1.9"/><circle cx="938.2" cy="865.0" r="1.9"/><circle cx="873.7" cy="863.8" r="1.9"/><circle cx="672.2" cy="745.2" r="1.9"/><circle cx="814.4" cy="860.7" r="1.9"/><circle cx="879.0" cy="860.9" r="1.9"/><circle cx="788.4" cy="853.9" r="1.9"/><circle cx="837.5" cy="862.2" r="1.9"/><circle cx="883.5" cy="866.0" r="1.9"/><circle cx="897.7" cy="863.7" r="1.9"/><circle cx="724.2" cy="811.2" r="1.9"/><circle cx="947.0" cy="869.0" r="1.9"/><circle cx="837.7" cy="866.4" r="1.9"/><circle cx="903.8" cy="868.9" r="1.9"/><circle cx="920.6" cy="866.5" r="1.9"/><circle cx="911.4" cy="865.5" r="1.9"/><circle cx="668.2" cy="732.0" r="1.9"/><circle cx="907.1" cy="866.7" r="1.9"/><circle cx="867.5" cy="866.3" r="1.9"/><circle cx="764.8" cy="838.6" r="1.9"/><circle cx="947.8" cy="870.1" r="1.9"/><circle cx="683.7" cy="760.1" r="1.9"/><circle cx="713.1" cy="800.7" r="1.9"/><circle cx="688.6" cy="750.9" r="1.9"/><circle cx="835.7" cy="860.7" r="1.9"/><circle cx="762.0" cy="838.7" r="1.9"/><circle cx="730.2" cy="810.0" r="1.9"/><circle cx="846.8" cy="862.0" r="1.9"/><circle cx="731.8" cy="819.1" r="1.9"/><circle cx="880.7" cy="865.5" r="1.9"/><circle cx="743.5" cy="824.9" r="1.9"/><circle cx="878.8" cy="861.1" r="1.9"/><circle cx="895.6" cy="866.3" r="1.9"/><circle cx="792.8" cy="848.7" r="1.9"/><circle cx="877.2" cy="862.7" r="1.9"/><circle cx="816.7" cy="858.8" r="1.9"/><circle cx="882.2" cy="866.5" r="1.9"/><circle cx="909.5" cy="865.3" r="1.9"/><circle cx="832.3" cy="860.1" r="1.9"/><circle cx="923.8" cy="866.9" r="1.9"/><circle cx="906.9" cy="865.0" r="1.9"/><circle cx="627.1" cy="651.6" r="1.9"/><circle cx="868.3" cy="863.8" r="1.9"/><circle cx="761.9" cy="841.0" r="1.9"/><circle cx="783.6" cy="845.0" r="1.9"/><circle cx="854.7" cy="860.1" r="1.9"/><circle cx="901.1" cy="867.0" r="1.9"/><circle cx="936.1" cy="865.7" r="1.9"/><circle cx="934.8" cy="865.9" r="1.9"/><circle cx="925.1" cy="868.2" r="1.9"/><circle cx="773.6" cy="844.3" r="1.9"/><circle cx="875.8" cy="861.8" r="1.9"/><circle cx="897.2" cy="865.5" r="1.9"/><circle cx="682.2" cy="758.4" r="1.9"/><circle cx="899.2" cy="863.6" r="1.9"/><circle cx="771.9" cy="843.9" r="1.9"/><circle cx="915.5" cy="865.0" r="1.9"/><circle cx="850.9" cy="862.1" r="1.9"/><circle cx="823.7" cy="859.4" r="1.9"/><circle cx="934.0" cy="866.1" r="1.9"/><circle cx="758.0" cy="835.5" r="1.9"/><circle cx="791.4" cy="850.5" r="1.9"/><circle cx="549.7" cy="475.3" r="1.9"/><circle cx="565.3" cy="508.3" r="1.9"/><circle cx="572" cy="528.8" r="1.9"/><circle cx="566.3" cy="535.5" r="1.9"/><circle cx="570.5" cy="538.9" r="1.9"/><circle cx="575.8" cy="542.7" r="1.9"/><circle cx="575.3" cy="545.4" r="1.9"/><circle cx="584.8" cy="540.6" r="1.9"/><circle cx="588.6" cy="553.2" r="1.9"/><circle cx="586.9" cy="558.6" r="1.9"/><circle cx="593" cy="556.5" r="1.9"/><circle cx="594.4" cy="554.9" r="1.9"/><circle cx="592.7" cy="570.8" r="1.9"/><circle cx="598.8" cy="577.1" r="1.9"/><circle cx="592.3" cy="585.3" r="1.9"/><circle cx="596.3" cy="586.3" r="1.9"/><circle cx="597.2" cy="592.2" r="1.9"/><circle cx="602.6" cy="594.9" r="1.9"/><circle cx="603" cy="608.6" r="1.9"/><circle cx="610.8" cy="607.7" r="1.9"/><circle cx="609.3" cy="617" r="1.9"/><circle cx="612.5" cy="617.8" r="1.9"/><circle cx="609.5" cy="624.3" r="1.9"/><circle cx="614" cy="629.4" r="1.9"/><circle cx="618.4" cy="626.6" r="1.9"/><circle cx="619.2" cy="631" r="1.9"/><circle cx="616.5" cy="638.6" r="1.9"/><circle cx="619.8" cy="642.4" r="1.9"/><circle cx="621.1" cy="646.2" r="1.9"/><circle cx="625.9" cy="651.4" r="1.9"/><circle cx="620.2" cy="642.3" r="1.9"/><circle cx="620.2" cy="646.4" r="1.9"/><circle cx="626.0" cy="651.0" r="1.9"/><circle cx="624.4" cy="668.0" r="1.9"/><circle cx="630.1" cy="665.7" r="1.9"/><circle cx="630.5" cy="669.8" r="1.9"/><circle cx="634.0" cy="683.6" r="1.9"/><circle cx="636.3" cy="674.4" r="1.9"/><circle cx="639.7" cy="674.4" r="1.9"/><circle cx="640.9" cy="688.1" r="1.9"/><circle cx="637.4" cy="693.9" r="1.9"/><circle cx="645.9" cy="693.9" r="1.9"/><circle cx="642.0" cy="706.0" r="1.9"/><circle cx="646.6" cy="711.1" r="1.9"/><circle cx="652.3" cy="701.9" r="1.9"/><circle cx="657.4" cy="712.9" r="1.9"/><circle cx="655.8" cy="721.4" r="1.9"/><circle cx="661.5" cy="720.2" r="1.9"/><circle cx="664.9" cy="726.0" r="1.9"/><circle cx="656.9" cy="727.6" r="1.9"/><circle cx="669.5" cy="730.5" r="1.9"/><circle cx="663.8" cy="735.1" r="1.9"/><circle cx="671.8" cy="734.0" r="1.9"/><circle cx="667.2" cy="742.0" r="1.9"/><circle cx="672.9" cy="744.3" r="1.9"/><circle cx="667.2" cy="751.9" r="1.9"/><circle cx="672.5" cy="750.0" r="1.9"/><circle cx="677.5" cy="755.8" r="1.9"/><circle cx="682.1" cy="755.8" r="1.9"/><circle cx="679.8" cy="766.1" r="1.9"/><circle cx="686.7" cy="768.4" r="1.9"/><circle cx="684.4" cy="775.2" r="1.9"/><circle cx="689.0" cy="777.5" r="1.9"/><circle cx="692.4" cy="786.7" r="1.9"/><circle cx="699.3" cy="778.7" r="1.9"/><circle cx="695.9" cy="783.3" r="1.9"/><circle cx="702.8" cy="789.0" r="1.9"/><circle cx="700.5" cy="795.9" r="1.9"/><circle cx="707.3" cy="786.7" r="1.9"/><circle cx="713.1" cy="791.3" r="1.9"/><circle cx="714.2" cy="798.2" r="1.9"/><circle cx="724.5" cy="796.3" r="1.9"/><circle cx="721.1" cy="815.4" r="1.9"/><circle cx="726.8" cy="805.0" r="1.9"/><circle cx="732.6" cy="809.6" r="1.9"/><circle cx="730.3" cy="821.1" r="1.9"/><circle cx="737.1" cy="816.5" r="1.9"/><circle cx="741.7" cy="831.4" r="1.9"/><circle cx="750.9" cy="823.4" r="1.9"/><circle cx="756.6" cy="837.1" r="1.9"/><circle cx="768.1" cy="831.4" r="1.9"/><circle cx="769.2" cy="841.7" r="1.9"/><circle cx="778.4" cy="836.0" r="1.9"/></g>
<path d="M544.30 718.50 C546.97 718.50 548.90 719.13 552.30 721.60 C555.70 724.07 560.78 728.07 564.70 733.30 C568.62 738.53 572.10 744.98 575.80 753.00 C579.50 761.02 583.82 773.38 586.90 781.40 C589.98 789.42 591.83 794.12 594.30 801.10 C596.77 808.08 599.23 816.10 601.70 823.30 C604.17 830.50 606.65 837.93 609.10 844.30 C611.55 850.67 614.35 857.92 616.40 861.50 C618.45 865.08 619.80 865.05 621.40 865.80 C623.00 866.55 623.17 865.97 626.00 866.00 C628.83 866.03 634.26 866.00 638.39 866.00 C642.52 866.00 646.65 866.00 650.78 866.00 C654.92 866.00 659.05 866.00 663.18 866.00 C667.31 866.00 671.44 866.00 675.57 866.00 C679.70 866.00 683.83 866.00 687.96 866.00 C692.09 866.00 696.22 866.00 700.35 866.00 C704.48 866.00 708.62 866.00 712.75 866.00 C716.88 866.00 721.01 866.00 725.14 866.00 C729.27 866.00 733.40 866.00 737.53 866.00 C741.66 866.00 745.79 866.00 749.92 866.00 C754.05 866.00 758.18 866.00 762.32 866.00 C766.45 866.00 770.58 866.00 774.71 866.00 C778.84 866.00 782.97 866.00 787.10 866.00 C791.23 866.00 795.36 866.00 799.49 866.00 C803.62 866.00 807.75 866.00 811.88 866.00 C816.02 866.00 820.15 866.00 824.28 866.00 C828.41 866.00 832.54 866.00 836.67 866.00 C840.80 866.00 844.93 866.00 849.06 866.00 C853.19 866.00 857.32 866.00 861.45 866.00 C865.58 866.00 869.72 866.00 873.85 866.00 C877.98 866.00 882.11 866.00 886.24 866.00 C890.37 866.00 894.50 866.00 898.63 866.00 C902.76 866.00 906.89 866.00 911.02 866.00 C915.15 866.00 919.28 866.00 923.42 866.00 C927.55 866.00 931.68 866.00 935.81 866.00 C939.94 866.00 946.13 866.00 948.20 866.00" fill="none" stroke="#ecac1e" stroke-width="1.9" stroke-linejoin="round" stroke-linecap="round"/>
<path d="M544.00 486.80 C547.23 486.80 550.48 488.72 553.70 491.00 C556.92 493.28 560.33 496.85 563.30 500.50 C566.27 504.15 568.98 508.55 571.50 512.90 C574.02 517.25 576.35 522.03 578.40 526.60 C580.45 531.17 581.98 535.52 583.80 540.30 C585.62 545.08 587.47 550.05 589.30 555.30 C591.13 560.55 592.97 566.08 594.80 571.80 C596.63 577.52 598.47 583.67 600.30 589.60 C602.13 595.53 603.98 601.47 605.80 607.40 C607.62 613.33 609.65 619.75 611.20 625.20 C612.75 630.65 614.05 636.50 615.10 640.10 C616.15 643.70 616.70 644.95 617.50 646.80 C618.30 648.65 619.18 649.92 619.90 651.20 C620.62 652.48 620.83 652.67 621.80 654.50 C622.77 656.33 624.42 659.63 625.70 662.20 C626.98 664.77 628.22 667.35 629.50 669.90 C630.78 672.45 632.12 675.12 633.40 677.50 C634.68 679.88 636.08 682.20 637.20 684.20 C638.32 686.20 637.97 686.55 640.10 689.50 C642.23 692.45 646.43 696.78 650.00 701.90 C653.57 707.02 657.67 714.08 661.50 720.20 C665.33 726.32 669.18 732.48 673.00 738.60 C676.82 744.72 680.58 750.80 684.40 756.90 C688.22 763.00 692.08 769.85 695.90 775.20 C699.72 780.55 703.48 784.40 707.30 789.00 C711.12 793.60 714.97 798.60 718.80 802.80 C722.63 807.00 726.48 810.58 730.30 814.20 C734.12 817.82 737.88 821.45 741.70 824.50 C745.52 827.55 749.38 830.20 753.20 832.50 C757.02 834.80 760.28 836.22 764.60 838.30 C768.92 840.38 773.50 842.47 779.10 845.00 C784.70 847.53 791.83 851.28 798.20 853.50 C804.57 855.72 810.93 856.92 817.30 858.30 C823.67 859.68 830.03 860.90 836.40 861.80 C842.77 862.70 849.13 863.23 855.50 863.70 C861.87 864.17 865.05 864.32 874.60 864.60 C884.15 864.88 900.53 865.17 912.80 865.40 C925.07 865.63 942.30 865.90 948.20 866.00" fill="none" stroke="#d9481a" stroke-width="1.9" stroke-linejoin="round" stroke-linecap="round"/>
<path d="M544.10 634.50 C548.20 634.50 551.38 633.65 556.40 633.70 C561.42 633.75 569.63 634.57 574.20 634.80 C578.77 635.03 580.37 634.77 583.80 635.10 C587.23 635.43 591.73 636.12 594.80 636.80 C597.87 637.48 599.77 638.25 602.20 639.20 C604.63 640.15 607.25 641.23 609.40 642.50 C611.55 643.77 613.50 645.43 615.10 646.80 C616.70 648.17 617.88 649.42 619.00 650.70 C620.12 651.98 620.68 652.58 621.80 654.50 C622.92 656.42 624.42 659.63 625.70 662.20 C626.98 664.77 628.22 667.35 629.50 669.90 C630.78 672.45 632.12 675.12 633.40 677.50 C634.68 679.88 636.08 682.20 637.20 684.20 C638.32 686.20 637.97 686.55 640.10 689.50 C642.23 692.45 646.43 696.78 650.00 701.90 C653.57 707.02 657.67 714.08 661.50 720.20 C665.33 726.32 669.18 732.48 673.00 738.60 C676.82 744.72 680.58 750.80 684.40 756.90 C688.22 763.00 692.08 769.85 695.90 775.20 C699.72 780.55 703.48 784.40 707.30 789.00 C711.12 793.60 714.97 798.60 718.80 802.80 C722.63 807.00 726.48 810.58 730.30 814.20 C734.12 817.82 737.88 821.45 741.70 824.50 C745.52 827.55 749.38 830.20 753.20 832.50 C757.02 834.80 760.28 836.22 764.60 838.30 C768.92 840.38 773.50 842.47 779.10 845.00 C784.70 847.53 791.83 851.28 798.20 853.50 C804.57 855.72 810.93 856.92 817.30 858.30 C823.67 859.68 830.03 860.90 836.40 861.80 C842.77 862.70 849.13 863.23 855.50 863.70 C861.87 864.17 865.05 864.32 874.60 864.60 C884.15 864.88 900.53 865.17 912.80 865.40 C925.07 865.63 942.30 865.90 948.20 866.00" fill="none" stroke="#7e2a8e" stroke-width="1.9" stroke-linejoin="round" stroke-linecap="round"/>
<path d="M104.3 975.2 V1382 H506.6" fill="none" stroke="#000" stroke-width="2"/>
<line x1="104.3" y1="1374.2" x2="108.3" y2="1374.2" stroke="#000" stroke-width="1.6"/>
<line x1="104.3" y1="1334.3" x2="108.3" y2="1334.3" stroke="#000" stroke-width="1.6"/>
<line x1="104.3" y1="1294.4" x2="108.3" y2="1294.4" stroke="#000" stroke-width="1.6"/>
<line x1="104.3" y1="1254.5" x2="108.3" y2="1254.5" stroke="#000" stroke-width="1.6"/>
<line x1="104.3" y1="1214.6" x2="108.3" y2="1214.6" stroke="#000" stroke-width="1.6"/>
<line x1="104.3" y1="1174.7" x2="108.3" y2="1174.7" stroke="#000" stroke-width="1.6"/>
<line x1="104.3" y1="1134.8" x2="108.3" y2="1134.8" stroke="#000" stroke-width="1.6"/>
<line x1="104.3" y1="1094.9" x2="108.3" y2="1094.9" stroke="#000" stroke-width="1.6"/>
<line x1="104.3" y1="1055.0" x2="108.3" y2="1055.0" stroke="#000" stroke-width="1.6"/>
<line x1="104.3" y1="1015.1" x2="108.3" y2="1015.1" stroke="#000" stroke-width="1.6"/>
<line x1="104.3" y1="975.2" x2="108.3" y2="975.2" stroke="#000" stroke-width="1.6"/>
<text x="99.3" y="1384.4" font-family="Liberation Sans, sans-serif" font-size="25" text-anchor="end" >0</text>
<text x="99.3" y="1184.9" font-family="Liberation Sans, sans-serif" font-size="25" text-anchor="end" >0.5</text>
<text x="99.3" y="985.4" font-family="Liberation Sans, sans-serif" font-size="25" text-anchor="end" >1.0</text>
<text x="104.6" y="1414.2" font-family="Liberation Sans, sans-serif" font-size="25" text-anchor="middle" >0</text>
<line x1="166.6" y1="1382" x2="166.6" y2="1378.5" stroke="#000" stroke-width="1.6"/>
<text x="166.6" y="1414.2" font-family="Liberation Sans, sans-serif" font-size="25" text-anchor="middle" >100</text>
<line x1="228.6" y1="1382" x2="228.6" y2="1378.5" stroke="#000" stroke-width="1.6"/>
<text x="228.6" y="1414.2" font-family="Liberation Sans, sans-serif" font-size="25" text-anchor="middle" >200</text>
<line x1="290.6" y1="1382" x2="290.6" y2="1378.5" stroke="#000" stroke-width="1.6"/>
<text x="290.6" y="1414.2" font-family="Liberation Sans, sans-serif" font-size="25" text-anchor="middle" >300</text>
<line x1="352.6" y1="1382" x2="352.6" y2="1378.5" stroke="#000" stroke-width="1.6"/>
<text x="352.6" y="1414.2" font-family="Liberation Sans, sans-serif" font-size="25" text-anchor="middle" >400</text>
<line x1="414.6" y1="1382" x2="414.6" y2="1378.5" stroke="#000" stroke-width="1.6"/>
<text x="414.6" y="1414.2" font-family="Liberation Sans, sans-serif" font-size="25" text-anchor="middle" >500</text>
<line x1="476.6" y1="1382" x2="476.6" y2="1378.5" stroke="#000" stroke-width="1.6"/>
<text x="476.6" y="1414.2" font-family="Liberation Sans, sans-serif" font-size="25" text-anchor="middle" >600</text>
<line x1="506.6" y1="1382" x2="506.6" y2="1378.5" stroke="#000" stroke-width="1.6"/>
<text x="179.6" y="1452" font-family="Liberation Sans, sans-serif" font-size="25" textLength="217.5">Temperature, <tspan font-style="italic">T</tspan> (nK)</text>
<text transform="translate(19.2,1258.4) rotate(-90)" font-family="Liberation Sans, sans-serif" font-size="25" textLength="172">BEC fraction, <tspan font-style="italic">f</tspan><tspan font-size="17" dy="7">0</tspan></text>
<path d="M542.8 974.4 V1382 H947.6" fill="none" stroke="#000" stroke-width="2"/>
<line x1="542.8" y1="1374.2" x2="546.8" y2="1374.2" stroke="#000" stroke-width="1.6"/>
<line x1="542.8" y1="1334.3" x2="546.8" y2="1334.3" stroke="#000" stroke-width="1.6"/>
<line x1="542.8" y1="1294.4" x2="546.8" y2="1294.4" stroke="#000" stroke-width="1.6"/>
<line x1="542.8" y1="1254.5" x2="546.8" y2="1254.5" stroke="#000" stroke-width="1.6"/>
<line x1="542.8" y1="1214.6" x2="546.8" y2="1214.6" stroke="#000" stroke-width="1.6"/>
<line x1="542.8" y1="1174.7" x2="546.8" y2="1174.7" stroke="#000" stroke-width="1.6"/>
<line x1="542.8" y1="1134.8" x2="546.8" y2="1134.8" stroke="#000" stroke-width="1.6"/>
<line x1="542.8" y1="1094.9" x2="546.8" y2="1094.9" stroke="#000" stroke-width="1.6"/>
<line x1="542.8" y1="1055.0" x2="546.8" y2="1055.0" stroke="#000" stroke-width="1.6"/>
<line x1="542.8" y1="1015.1" x2="546.8" y2="1015.1" stroke="#000" stroke-width="1.6"/>
<line x1="542.8" y1="975.2" x2="546.8" y2="975.2" stroke="#000" stroke-width="1.6"/>
<line x1="542.8" y1="1382" x2="542.8" y2="1378.5" stroke="#000" stroke-width="1.6"/>
<text x="542.8" y="1414.2" font-family="Liberation Sans, sans-serif" font-size="25" text-anchor="middle" >0</text>
<line x1="600.5" y1="1382" x2="600.5" y2="1378.5" stroke="#000" stroke-width="1.6"/>
<text x="600.5" y="1414.2" font-family="Liberation Sans, sans-serif" font-size="25" text-anchor="middle" >0.2</text>
<line x1="658.2" y1="1382" x2="658.2" y2="1378.5" stroke="#000" stroke-width="1.6"/>
<text x="658.2" y="1414.2" font-family="Liberation Sans, sans-serif" font-size="25" text-anchor="middle" >0.4</text>
<line x1="716.0" y1="1382" x2="716.0" y2="1378.5" stroke="#000" stroke-width="1.6"/>
<text x="716.0" y="1414.2" font-family="Liberation Sans, sans-serif" font-size="25" text-anchor="middle" >0.6</text>
<line x1="773.7" y1="1382" x2="773.7" y2="1378.5" stroke="#000" stroke-width="1.6"/>
<text x="773.7" y="1414.2" font-family="Liberation Sans, sans-serif" font-size="25" text-anchor="middle" >0.8</text>
<line x1="831.4" y1="1382" x2="831.4" y2="1378.5" stroke="#000" stroke-width="1.6"/>
<text x="831.4" y="1414.2" font-family="Liberation Sans, sans-serif" font-size="25" text-anchor="middle" >1.0</text>
<line x1="889.1" y1="1382" x2="889.1" y2="1378.5" stroke="#000" stroke-width="1.6"/>
<text x="889.1" y="1414.2" font-family="Liberation Sans, sans-serif" font-size="25" text-anchor="middle" >1.2</text>
<line x1="946.8" y1="1382" x2="946.8" y2="1378.5" stroke="#000" stroke-width="1.6"/>
<text x="946.8" y="1414.2" font-family="Liberation Sans, sans-serif" font-size="25" text-anchor="middle" >1.4</text>
<text x="716.6" y="1451.2" font-family="Liberation Sans, sans-serif" font-size="25" textLength="39.5"><tspan font-style="italic">T</tspan>/<tspan font-style="italic">T</tspan></text>
<text x="755.6" y="1443" font-family="Liberation Sans, sans-serif" font-size="17.5" text-anchor="start" >0</text>
<text x="754.4" y="1459" font-family="Liberation Sans, sans-serif" font-size="17.5" text-anchor="start" >c</text>
<circle cx="351.0" cy="1374.2" r="2.9" fill="#583090"/><circle cx="354.2" cy="1374.4" r="2.9" fill="#583090"/><circle cx="357.4" cy="1374.8" r="2.9" fill="#583090"/><circle cx="360.6" cy="1374.3" r="2.9" fill="#583090"/><circle cx="363.8" cy="1374.3" r="2.9" fill="#86208c"/><circle cx="367.0" cy="1374.4" r="2.9" fill="#86208c"/><circle cx="370.2" cy="1373.9" r="2.9" fill="#86208c"/><circle cx="373.4" cy="1374.3" r="2.9" fill="#86208c"/><circle cx="376.6" cy="1374.5" r="2.9" fill="#86208c"/><circle cx="379.8" cy="1374.7" r="2.9" fill="#86208c"/><circle cx="383.0" cy="1374.2" r="2.9" fill="#583090"/><circle cx="386.2" cy="1373.8" r="2.9" fill="#583090"/><circle cx="389.4" cy="1374.4" r="2.9" fill="#583090"/><circle cx="392.6" cy="1374.9" r="2.9" fill="#86208c"/><circle cx="395.8" cy="1374.5" r="2.9" fill="#b4168a"/><circle cx="399.0" cy="1374.4" r="2.9" fill="#b4168a"/><circle cx="402.2" cy="1373.9" r="2.9" fill="#b4168a"/><circle cx="405.4" cy="1373.7" r="2.9" fill="#b4168a"/><circle cx="408.6" cy="1374.3" r="2.9" fill="#b4168a"/><circle cx="411.8" cy="1373.8" r="2.9" fill="#b4168a"/><circle cx="415.0" cy="1373.9" r="2.9" fill="#b4168a"/><circle cx="418.2" cy="1374.4" r="2.9" fill="#e20c44"/><circle cx="421.4" cy="1374.1" r="2.9" fill="#86208c"/><circle cx="424.6" cy="1374.3" r="2.9" fill="#e20c44"/><circle cx="427.8" cy="1374.3" r="2.9" fill="#e20c44"/><circle cx="431.0" cy="1374.2" r="2.9" fill="#e20c44"/><circle cx="434.2" cy="1374.2" r="2.9" fill="#e20c44"/><circle cx="437.4" cy="1374.5" r="2.9" fill="#e20c44"/><circle cx="440.6" cy="1374.6" r="2.9" fill="#e20c44"/><circle cx="443.8" cy="1373.7" r="2.9" fill="#e20c44"/><circle cx="447.0" cy="1374.2" r="2.9" fill="#e20c44"/><circle cx="450.2" cy="1374.2" r="2.9" fill="#e20c44"/><circle cx="453.4" cy="1374.7" r="2.9" fill="#e20c44"/><circle cx="456.6" cy="1374.0" r="2.9" fill="#e20c44"/><circle cx="459.8" cy="1374.3" r="2.9" fill="#e20c44"/><circle cx="467.5" cy="1374.3" r="2.9" fill="#ff4a22"/><circle cx="471" cy="1374.3" r="2.9" fill="#ff4a22"/><circle cx="474.5" cy="1374.3" r="2.9" fill="#ff4a22"/><circle cx="478" cy="1374.3" r="2.9" fill="#ff4a22"/><circle cx="481" cy="1374.3" r="2.9" fill="#ff4a22"/><path d="M187.3 1173.2 V1181.6000000000001" stroke="#5590cf" stroke-width="1.4"/><circle cx="187.3" cy="1177.4" r="2.9" fill="#5590cf"/><circle cx="202.7" cy="1182.1" r="2.9" fill="#2c6cb8"/><circle cx="203.2" cy="1186.7" r="2.9" fill="#2c6cb8"/><circle cx="194.9" cy="1191.0" r="2.9" fill="#2c6cb8"/><circle cx="197.6" cy="1191.8" r="2.9" fill="#2c6cb8"/><circle cx="205.3" cy="1192.4" r="2.9" fill="#2c6cb8"/><path d="M182.9 1194.2 V1202.6000000000001" stroke="#5590cf" stroke-width="1.4"/><circle cx="182.9" cy="1198.4" r="2.9" fill="#5590cf"/><circle cx="192.5" cy="1202.1" r="2.9" fill="#2c6cb8"/><circle cx="190.6" cy="1206.1" r="2.9" fill="#2c6cb8"/><circle cx="206.5" cy="1201.9" r="2.9" fill="#2c6cb8"/><circle cx="201.7" cy="1206.1" r="2.9" fill="#2c6cb8"/><circle cx="204.7" cy="1211.9" r="2.9" fill="#2c6cb8"/><path d="M181.5 1207.3 V1215.7" stroke="#5590cf" stroke-width="1.4"/><circle cx="181.5" cy="1211.5" r="2.9" fill="#5590cf"/><path d="M184.9 1208.6 V1217.0" stroke="#5590cf" stroke-width="1.4"/><circle cx="184.9" cy="1212.8" r="2.9" fill="#5590cf"/><path d="M187.5 1210.6 V1219.0" stroke="#5590cf" stroke-width="1.4"/><circle cx="187.5" cy="1214.8" r="2.9" fill="#5590cf"/><path d="M179.8 1218.0 V1226.4" stroke="#5590cf" stroke-width="1.4"/><circle cx="179.8" cy="1222.2" r="2.9" fill="#5590cf"/><path d="M182.6 1226.0 V1234.4" stroke="#5590cf" stroke-width="1.4"/><circle cx="182.6" cy="1230.2" r="2.9" fill="#5590cf"/><circle cx="206.5" cy="1225.5" r="2.9" fill="#2c6cb8"/><circle cx="210.9" cy="1242.2" r="2.9" fill="#1650a2"/><circle cx="213.6" cy="1241.6" r="2.9" fill="#1650a2"/><circle cx="223.4" cy="1245.2" r="2.9" fill="#1650a2"/><circle cx="210.0" cy="1250.3" r="2.9" fill="#2c6cb8"/><circle cx="216.6" cy="1252.5" r="2.9" fill="#1650a2"/><circle cx="219.6" cy="1255.6" r="2.9" fill="#1650a2"/><circle cx="223.4" cy="1257.6" r="2.9" fill="#1650a2"/><circle cx="215.0" cy="1260.0" r="2.9" fill="#1650a2"/><circle cx="217.6" cy="1258.9" r="2.9" fill="#1650a2"/><circle cx="206.9" cy="1256.7" r="2.9" fill="#2c6cb8"/><circle cx="223.9" cy="1263.0" r="2.9" fill="#1650a2"/><circle cx="223.4" cy="1268.0" r="2.9" fill="#1650a2"/><circle cx="205.2" cy="1267.4" r="2.9" fill="#2c6cb8"/><circle cx="205.6" cy="1271.0" r="2.9" fill="#2c6cb8"/><circle cx="210.3" cy="1271.6" r="2.9" fill="#2c6cb8"/><circle cx="202.3" cy="1276.3" r="2.9" fill="#2c6cb8"/><circle cx="229.7" cy="1278.3" r="2.9" fill="#1650a2"/><circle cx="227.0" cy="1282.3" r="2.9" fill="#1650a2"/><circle cx="196.9" cy="1287.0" r="2.9" fill="#2c6cb8"/><circle cx="200.9" cy="1285.7" r="2.9" fill="#2c6cb8"/><circle cx="232.3" cy="1292.1" r="2.9" fill="#1650a2"/><circle cx="238.6" cy="1290.0" r="2.9" fill="#1650a2"/><circle cx="240.4" cy="1294.8" r="2.9" fill="#1650a2"/><circle cx="202.0" cy="1295.4" r="2.9" fill="#2c6cb8"/><circle cx="245.0" cy="1297.7" r="2.9" fill="#1650a2"/><circle cx="196.9" cy="1299.1" r="2.9" fill="#2c6cb8"/><circle cx="197.6" cy="1300.4" r="2.9" fill="#2c6cb8"/><circle cx="236.4" cy="1300.4" r="2.9" fill="#1650a2"/><circle cx="247.1" cy="1302.0" r="2.9" fill="#1650a2"/><circle cx="247.1" cy="1306.0" r="2.9" fill="#1650a2"/><circle cx="239.4" cy="1310.3" r="2.9" fill="#1650a2"/><circle cx="243.0" cy="1309.8" r="2.9" fill="#1650a2"/><circle cx="245.7" cy="1315.1" r="2.9" fill="#1650a2"/><circle cx="248.4" cy="1312.1" r="2.9" fill="#1650a2"/><circle cx="231.4" cy="1310.3" r="2.9" fill="#2c6cb8"/><circle cx="229.7" cy="1315.1" r="2.9" fill="#2c6cb8"/><circle cx="233.0" cy="1315.4" r="2.9" fill="#2c6cb8"/><circle cx="226.3" cy="1321.4" r="2.9" fill="#2c6cb8"/><circle cx="219.6" cy="1323.4" r="2.9" fill="#2c6cb8"/><circle cx="221.0" cy="1329.8" r="2.9" fill="#2c6cb8"/><circle cx="219.0" cy="1332.1" r="2.9" fill="#2c6cb8"/><circle cx="219.6" cy="1334.4" r="2.9" fill="#2c6cb8"/><circle cx="221.6" cy="1345.5" r="2.9" fill="#2c6cb8"/><circle cx="249.1" cy="1332.5" r="2.9" fill="#1650a2"/><circle cx="247.0" cy="1338.8" r="2.9" fill="#1650a2"/><circle cx="247.7" cy="1340.8" r="2.9" fill="#1650a2"/><circle cx="243.0" cy="1347.5" r="2.9" fill="#1650a2"/><circle cx="247.7" cy="1348.8" r="2.9" fill="#1650a2"/><circle cx="239.0" cy="1351.5" r="2.9" fill="#1650a2"/><circle cx="243.7" cy="1355.5" r="2.9" fill="#1650a2"/><circle cx="240.4" cy="1360.2" r="2.9" fill="#1650a2"/><circle cx="240.6" cy="1290.4" r="2.9" fill="#1650a2"/><circle cx="241.1" cy="1295.0" r="2.9" fill="#1650a2"/><circle cx="244.6" cy="1298.4" r="2.9" fill="#1650a2"/><circle cx="247.4" cy="1299.5" r="2.9" fill="#1650a2"/><circle cx="248.9" cy="1302.2" r="2.9" fill="#1650a2"/><circle cx="242.3" cy="1310.4" r="2.9" fill="#1650a2"/><circle cx="248.0" cy="1312.7" r="2.9" fill="#1650a2"/><circle cx="250.3" cy="1312.7" r="2.9" fill="#1650a2"/><circle cx="259.3" cy="1325.9" r="2.9" fill="#1650a2"/><circle cx="264.6" cy="1328.8" r="2.9" fill="#1650a2"/><circle cx="270.7" cy="1327.0" r="2.9" fill="#1650a2"/><circle cx="265.8" cy="1332.2" r="2.9" fill="#1650a2"/><circle cx="269.2" cy="1333.9" r="2.9" fill="#1650a2"/><circle cx="250.3" cy="1332.4" r="2.9" fill="#1650a2"/><circle cx="254.9" cy="1335.6" r="2.9" fill="#1650a2"/><circle cx="257.8" cy="1333.4" r="2.9" fill="#1650a2"/><circle cx="259.3" cy="1340.8" r="2.9" fill="#1650a2"/><circle cx="247.4" cy="1338.5" r="2.9" fill="#1650a2"/><circle cx="268.1" cy="1339.7" r="2.9" fill="#1650a2"/><circle cx="271.5" cy="1342.0" r="2.9" fill="#1650a2"/><circle cx="243.4" cy="1347.1" r="2.9" fill="#2c6cb8"/><circle cx="246.9" cy="1348.8" r="2.9" fill="#2c6cb8"/><circle cx="250.9" cy="1346.0" r="2.9" fill="#1650a2"/><circle cx="248.0" cy="1351.7" r="2.9" fill="#1650a2"/><circle cx="244.0" cy="1355.7" r="2.9" fill="#2c6cb8"/><circle cx="241.1" cy="1359.7" r="2.9" fill="#2c6cb8"/><circle cx="263.5" cy="1359.1" r="2.9" fill="#2c3c92"/><circle cx="270.9" cy="1355.1" r="2.9" fill="#2c3c92"/><circle cx="274.4" cy="1358.3" r="2.9" fill="#2c3c92"/><circle cx="268.7" cy="1361.4" r="2.9" fill="#2c3c92"/><circle cx="265.8" cy="1366.0" r="2.9" fill="#2c3c92"/><circle cx="269.8" cy="1364.9" r="2.9" fill="#2c3c92"/><circle cx="275.0" cy="1363.7" r="2.9" fill="#2c3c92"/><circle cx="275.5" cy="1350.5" r="2.9" fill="#2c3c92"/><circle cx="279.0" cy="1348.8" r="2.9" fill="#2c3c92"/><circle cx="287.0" cy="1347.1" r="2.9" fill="#583090"/><circle cx="289.3" cy="1350.5" r="2.9" fill="#2c3c92"/><circle cx="289.3" cy="1357.4" r="2.9" fill="#2c3c92"/><circle cx="292.7" cy="1354.6" r="2.9" fill="#583090"/><circle cx="296.7" cy="1351.7" r="2.9" fill="#583090"/><circle cx="300.7" cy="1351.7" r="2.9" fill="#583090"/><circle cx="303.6" cy="1357.7" r="2.9" fill="#583090"/><circle cx="292.7" cy="1362.0" r="2.9" fill="#2c3c92"/><circle cx="300.7" cy="1362.0" r="2.9" fill="#2c3c92"/><circle cx="302.5" cy="1366.6" r="2.9" fill="#2c3c92"/><circle cx="295.0" cy="1366.6" r="2.9" fill="#2c3c92"/><circle cx="296.2" cy="1371.2" r="2.9" fill="#2c3c92"/><circle cx="287.2" cy="1368.0" r="2.9" fill="#2c3c92"/><circle cx="288.7" cy="1373.8" r="2.9" fill="#2c3c92"/><circle cx="308.2" cy="1365.7" r="2.9" fill="#583090"/><circle cx="310.5" cy="1356.8" r="2.9" fill="#583090"/><circle cx="313.9" cy="1354.6" r="2.9" fill="#583090"/><circle cx="317.9" cy="1357.4" r="2.9" fill="#583090"/><circle cx="319.1" cy="1360.9" r="2.9" fill="#583090"/><circle cx="322.5" cy="1364.3" r="2.9" fill="#86208c"/><circle cx="325.4" cy="1363.7" r="2.9" fill="#86208c"/><circle cx="324.8" cy="1368.3" r="2.9" fill="#583090"/><circle cx="331.1" cy="1365.4" r="2.9" fill="#583090"/><circle cx="332.8" cy="1369.5" r="2.9" fill="#583090"/><circle cx="313.4" cy="1373.5" r="2.9" fill="#583090"/><circle cx="317.9" cy="1373.5" r="2.9" fill="#583090"/><circle cx="324.2" cy="1373.5" r="2.9" fill="#583090"/><circle cx="328.8" cy="1373.5" r="2.9" fill="#583090"/><circle cx="340.9" cy="1363.2" r="2.9" fill="#86208c"/><circle cx="345.4" cy="1364.9" r="2.9" fill="#86208c"/><circle cx="350.0" cy="1364.9" r="2.9" fill="#86208c"/><circle cx="353.5" cy="1363.2" r="2.9" fill="#86208c"/><circle cx="355.8" cy="1367.7" r="2.9" fill="#86208c"/><circle cx="343.2" cy="1368.3" r="2.9" fill="#86208c"/><circle cx="347.7" cy="1370.0" r="2.9" fill="#86208c"/><circle cx="338.0" cy="1374.0" r="2.9" fill="#583090"/><circle cx="345.4" cy="1374.0" r="2.9" fill="#583090"/><circle cx="354.0" cy="1374.0" r="2.9" fill="#583090"/><circle cx="359.2" cy="1374.0" r="2.9" fill="#b4168a"/><circle cx="353.1" cy="1362.9" r="2.9" fill="#86208c"/><circle cx="355.3" cy="1368.2" r="2.9" fill="#583090"/><circle cx="364.5" cy="1366.7" r="2.9" fill="#b4168a"/><circle cx="371.4" cy="1367.4" r="2.9" fill="#b4168a"/><circle cx="376.0" cy="1366.7" r="2.9" fill="#b4168a"/><circle cx="420.3" cy="1371.6" r="2.9" fill="#e20c44"/>
<path d="M747.3 1172.6 V1181.0 M742.8 1176.8 H751.8" stroke="#5590cf" stroke-width="1.4"/><circle cx="747.3" cy="1176.8" r="2.9" fill="#5590cf"/><circle cx="752.0" cy="1182.0" r="2.9" fill="#2c6cb8"/><circle cx="755.3" cy="1185.8" r="2.9" fill="#2c6cb8"/><circle cx="751.5" cy="1191.0" r="2.9" fill="#2c6cb8"/><circle cx="754.9" cy="1192.0" r="2.9" fill="#2c6cb8"/><path d="M744.8 1194.0 V1202.4 M740.3 1198.2 H749.3" stroke="#5590cf" stroke-width="1.4"/><circle cx="744.8" cy="1198.2" r="2.9" fill="#5590cf"/><path d="M742.9 1197.8 V1206.2 M738.4 1202.0 H747.4" stroke="#5590cf" stroke-width="1.4"/><circle cx="742.9" cy="1202.0" r="2.9" fill="#5590cf"/><circle cx="759.0" cy="1201.7" r="2.9" fill="#2c6cb8"/><circle cx="750.1" cy="1205.8" r="2.9" fill="#2c6cb8"/><circle cx="752.5" cy="1207.8" r="2.9" fill="#2c6cb8"/><path d="M752.0 1210.2 V1218.6000000000001 M747.5 1214.4 H756.5" stroke="#5590cf" stroke-width="1.4"/><circle cx="752.0" cy="1214.4" r="2.9" fill="#5590cf"/><path d="M760.1 1207.3999999999999 V1215.8 M755.6 1211.6 H764.6" stroke="#5590cf" stroke-width="1.4"/><circle cx="760.1" cy="1211.6" r="2.9" fill="#5590cf"/><path d="M764.9 1207.8999999999999 V1216.3 M760.4 1212.1 H769.4" stroke="#5590cf" stroke-width="1.4"/><circle cx="764.9" cy="1212.1" r="2.9" fill="#5590cf"/><path d="M766.8 1209.3 V1217.7 M762.3 1213.5 H771.3" stroke="#5590cf" stroke-width="1.4"/><circle cx="766.8" cy="1213.5" r="2.9" fill="#5590cf"/><path d="M764.4 1217.8999999999999 V1226.3 M759.9 1222.1 H768.9" stroke="#5590cf" stroke-width="1.4"/><circle cx="764.4" cy="1222.1" r="2.9" fill="#5590cf"/><circle cx="749.1" cy="1225.4" r="2.9" fill="#2c6cb8"/><path d="M771.6 1226.0 V1234.4 M767.1 1230.2 H776.1" stroke="#5590cf" stroke-width="1.4"/><circle cx="771.6" cy="1230.2" r="2.9" fill="#5590cf"/><circle cx="756.1" cy="1242.1" r="2.9" fill="#2c6cb8"/><circle cx="762.3" cy="1241.7" r="2.9" fill="#2c6cb8"/><circle cx="771.6" cy="1245.0" r="2.9" fill="#1650a2"/><circle cx="767.8" cy="1250.3" r="2.9" fill="#2c6cb8"/><circle cx="770.1" cy="1252.6" r="2.9" fill="#2c6cb8"/><circle cx="764.4" cy="1256.5" r="2.9" fill="#1650a2"/><circle cx="774.4" cy="1258.4" r="2.9" fill="#2c6cb8"/><circle cx="769.6" cy="1251.9" r="2.9" fill="#2c6cb8"/><circle cx="763.9" cy="1256.7" r="2.9" fill="#2c6cb8"/><circle cx="766.7" cy="1259.6" r="2.9" fill="#2c6cb8"/><circle cx="774.9" cy="1259.6" r="2.9" fill="#2c6cb8"/><circle cx="768.7" cy="1262.4" r="2.9" fill="#1650a2"/><circle cx="768.2" cy="1267.7" r="2.9" fill="#1650a2"/><circle cx="778.2" cy="1267.7" r="2.9" fill="#2c6cb8"/><circle cx="772.0" cy="1271.5" r="2.9" fill="#5590cf"/><circle cx="774.4" cy="1274.8" r="2.9" fill="#5590cf"/><circle cx="770.6" cy="1278.2" r="2.9" fill="#1650a2"/><circle cx="773.4" cy="1281.0" r="2.9" fill="#1650a2"/><circle cx="772.5" cy="1285.8" r="2.9" fill="#5590cf"/><circle cx="773.0" cy="1292.0" r="2.9" fill="#1650a2"/><circle cx="785.8" cy="1290.1" r="2.9" fill="#1650a2"/><circle cx="780.6" cy="1294.9" r="2.9" fill="#1650a2"/><circle cx="784.9" cy="1298.7" r="2.9" fill="#1650a2"/><circle cx="782.5" cy="1301.6" r="2.9" fill="#1650a2"/><circle cx="771.5" cy="1300.6" r="2.9" fill="#5590cf"/><circle cx="780.1" cy="1310.2" r="2.9" fill="#1650a2"/><circle cx="788.7" cy="1310.2" r="2.9" fill="#2c6cb8"/><circle cx="783.0" cy="1315.0" r="2.9" fill="#1650a2"/><circle cx="786.8" cy="1315.9" r="2.9" fill="#1650a2"/><circle cx="786.8" cy="1321.6" r="2.9" fill="#2c6cb8"/><circle cx="791.6" cy="1325.5" r="2.9" fill="#2c3c92"/><circle cx="798.3" cy="1327.4" r="2.9" fill="#2c3c92"/><circle cx="780.1" cy="1330.7" r="2.9" fill="#2c6cb8"/><circle cx="784.9" cy="1331.2" r="2.9" fill="#2c6cb8"/><circle cx="784.4" cy="1334.0" r="2.9" fill="#2c6cb8"/><circle cx="794.4" cy="1331.2" r="2.9" fill="#2c3c92"/><circle cx="797.3" cy="1336.0" r="2.9" fill="#2c3c92"/><circle cx="792.5" cy="1338.3" r="2.9" fill="#1650a2"/><circle cx="799.7" cy="1341.2" r="2.9" fill="#2c3c92"/><circle cx="791.6" cy="1345.5" r="2.9" fill="#2c6cb8"/><circle cx="798.3" cy="1346.5" r="2.9" fill="#2c3c92"/><circle cx="806.9" cy="1346.5" r="2.9" fill="#583090"/><circle cx="811.6" cy="1347.4" r="2.9" fill="#583090"/><circle cx="785.7" cy="1321.0" r="2.9" fill="#2c6cb8"/><circle cx="783.8" cy="1331.5" r="2.9" fill="#2c6cb8"/><circle cx="781.9" cy="1330.5" r="2.9" fill="#2c6cb8"/><circle cx="792.4" cy="1325.7" r="2.9" fill="#2c3c92"/><circle cx="798.1" cy="1327.2" r="2.9" fill="#2c3c92"/><circle cx="796.7" cy="1332.4" r="2.9" fill="#1650a2"/><circle cx="792.4" cy="1337.2" r="2.9" fill="#1650a2"/><circle cx="800.1" cy="1341.5" r="2.9" fill="#1650a2"/><circle cx="791.5" cy="1345.8" r="2.9" fill="#2c6cb8"/><circle cx="796.2" cy="1352.0" r="2.9" fill="#1650a2"/><circle cx="802.9" cy="1349.6" r="2.9" fill="#583090"/><circle cx="807.2" cy="1346.7" r="2.9" fill="#583090"/><circle cx="812.0" cy="1347.7" r="2.9" fill="#583090"/><circle cx="815.8" cy="1350.6" r="2.9" fill="#583090"/><circle cx="803.9" cy="1356.3" r="2.9" fill="#2c6cb8"/><circle cx="802.9" cy="1360.1" r="2.9" fill="#2c6cb8"/><circle cx="808.7" cy="1363.9" r="2.9" fill="#1650a2"/><circle cx="816.3" cy="1357.2" r="2.9" fill="#1650a2"/><circle cx="813.9" cy="1360.1" r="2.9" fill="#2c3c92"/><circle cx="816.3" cy="1365.8" r="2.9" fill="#583090"/><circle cx="820.1" cy="1367.8" r="2.9" fill="#583090"/><circle cx="823.5" cy="1363.9" r="2.9" fill="#86208c"/><circle cx="823.0" cy="1355.3" r="2.9" fill="#583090"/><circle cx="826.8" cy="1356.3" r="2.9" fill="#583090"/><circle cx="824.9" cy="1360.1" r="2.9" fill="#2c3c92"/><circle cx="823.9" cy="1373.5" r="2.9" fill="#2c3c92"/><circle cx="833.0" cy="1362.5" r="2.9" fill="#2c3c92"/><circle cx="833.5" cy="1367.8" r="2.9" fill="#2c3c92"/><circle cx="837.3" cy="1373.5" r="2.9" fill="#2c3c92"/><circle cx="841.1" cy="1363.9" r="2.9" fill="#86208c"/><circle cx="845.9" cy="1364.4" r="2.9" fill="#86208c"/><circle cx="843.0" cy="1368.7" r="2.9" fill="#583090"/><circle cx="846.9" cy="1371.6" r="2.9" fill="#2c3c92"/><circle cx="840.2" cy="1373.5" r="2.9" fill="#583090"/><circle cx="855.5" cy="1366.8" r="2.9" fill="#b4168a"/><circle cx="860.2" cy="1365.8" r="2.9" fill="#86208c"/><circle cx="862.1" cy="1368.7" r="2.9" fill="#86208c"/><circle cx="852.6" cy="1373.5" r="2.9" fill="#b4168a"/><circle cx="860.2" cy="1374.4" r="2.9" fill="#e20c44"/><circle cx="866.0" cy="1372.1" r="2.9" fill="#2c3c92"/><circle cx="870.7" cy="1373.5" r="2.9" fill="#86208c"/><circle cx="875.5" cy="1373.5" r="2.9" fill="#86208c"/><circle cx="879.3" cy="1374.0" r="2.9" fill="#86208c"/><circle cx="861.9" cy="1367.7" r="2.9" fill="#86208c"/><circle cx="860.0" cy="1373.4" r="2.9" fill="#e20c44"/><circle cx="865.7" cy="1371.5" r="2.9" fill="#2c3c92"/><circle cx="868.6" cy="1373.9" r="2.9" fill="#86208c"/><circle cx="872.4" cy="1374.4" r="2.9" fill="#b4168a"/><circle cx="878.1" cy="1373.9" r="2.9" fill="#86208c"/><circle cx="883.4" cy="1371.0" r="2.9" fill="#e20c44"/><circle cx="883.9" cy="1374.4" r="2.9" fill="#b4168a"/><circle cx="888.7" cy="1373.9" r="2.9" fill="#86208c"/><circle cx="891.5" cy="1374.4" r="2.9" fill="#86208c"/><circle cx="895.3" cy="1373.9" r="2.9" fill="#ff4a22"/><circle cx="900.1" cy="1374.4" r="2.9" fill="#e20c44"/><circle cx="906.8" cy="1374.4" r="2.9" fill="#86208c"/><circle cx="913.5" cy="1374.4" r="2.9" fill="#e20c44"/><circle cx="919.7" cy="1374.4" r="2.9" fill="#ff4a22"/><circle cx="925.4" cy="1373.9" r="2.9" fill="#e20c44"/><circle cx="929.2" cy="1373.9" r="2.9" fill="#86208c"/><circle cx="935.0" cy="1374.4" r="2.9" fill="#b4168a"/><circle cx="941.7" cy="1373.9" r="2.9" fill="#86208c"/><circle cx="779.6" cy="1309.9" r="2.9" fill="#1650a2"/><circle cx="782.6" cy="1314.5" r="2.9" fill="#1650a2"/><circle cx="788.8" cy="1309.9" r="2.9" fill="#1650a2"/><circle cx="788.0" cy="1315.3" r="2.9" fill="#1650a2"/><circle cx="784.2" cy="1312.2" r="2.9" fill="#1650a2"/><circle cx="786.5" cy="1320.6" r="2.9" fill="#2c6cb8"/><circle cx="787.2" cy="1323.7" r="2.9" fill="#2c6cb8"/><circle cx="792.6" cy="1325.2" r="2.9" fill="#1650a2"/><circle cx="797.9" cy="1326.7" r="2.9" fill="#2c3c92"/><circle cx="796.4" cy="1330.6" r="2.9" fill="#2c3c92"/><circle cx="793.3" cy="1332.8" r="2.9" fill="#1650a2"/><circle cx="797.2" cy="1336.7" r="2.9" fill="#1650a2"/><circle cx="792.6" cy="1337.4" r="2.9" fill="#1650a2"/><circle cx="799.4" cy="1341.3" r="2.9" fill="#2c3c92"/><circle cx="797.9" cy="1345.1" r="2.9" fill="#1650a2"/><circle cx="795.6" cy="1351.9" r="2.9" fill="#1650a2"/><circle cx="800.2" cy="1347.4" r="2.9" fill="#1650a2"/><circle cx="779.6" cy="1330.6" r="2.9" fill="#2c6cb8"/><circle cx="784.9" cy="1329.8" r="2.9" fill="#2c6cb8"/><circle cx="784.2" cy="1334.4" r="2.9" fill="#2c6cb8"/><circle cx="791.0" cy="1345.8" r="2.9" fill="#2c6cb8"/><circle cx="804.0" cy="1348.9" r="2.9" fill="#583090"/><circle cx="807.1" cy="1345.8" r="2.9" fill="#583090"/><circle cx="810.9" cy="1347.4" r="2.9" fill="#583090"/><circle cx="813.2" cy="1346.6" r="2.9" fill="#583090"/><circle cx="815.5" cy="1351.2" r="2.9" fill="#583090"/><circle cx="817.0" cy="1353.5" r="2.9" fill="#583090"/><circle cx="802.5" cy="1353.5" r="2.9" fill="#2c3c92"/><circle cx="804.0" cy="1358.1" r="2.9" fill="#2c6cb8"/><circle cx="803.3" cy="1361.1" r="2.9" fill="#2c6cb8"/><circle cx="808.6" cy="1353.5" r="2.9" fill="#2c3c92"/><circle cx="808.6" cy="1358.1" r="2.9" fill="#2c3c92"/><circle cx="811.7" cy="1356.5" r="2.9" fill="#1650a2"/><circle cx="814.7" cy="1358.1" r="2.9" fill="#1650a2"/><circle cx="813.2" cy="1361.1" r="2.9" fill="#1650a2"/><circle cx="817.8" cy="1358.1" r="2.9" fill="#2c3c92"/><circle cx="808.6" cy="1364.2" r="2.9" fill="#1650a2"/><circle cx="814.7" cy="1365.7" r="2.9" fill="#583090"/><circle cx="818.5" cy="1365.7" r="2.9" fill="#583090"/><circle cx="817.8" cy="1362.6" r="2.9" fill="#2c3c92"/><circle cx="821.6" cy="1368.8" r="2.9" fill="#2c3c92"/><circle cx="823.9" cy="1373.3" r="2.9" fill="#2c3c92"/><circle cx="822.4" cy="1355.0" r="2.9" fill="#583090"/><circle cx="825.4" cy="1353.5" r="2.9" fill="#583090"/><circle cx="827.7" cy="1356.5" r="2.9" fill="#583090"/><circle cx="823.1" cy="1364.9" r="2.9" fill="#86208c"/><circle cx="823.9" cy="1361.1" r="2.9" fill="#583090"/><circle cx="827.0" cy="1367.2" r="2.9" fill="#2c3c92"/><circle cx="828.5" cy="1372.6" r="2.9" fill="#2c3c92"/><circle cx="833.1" cy="1361.9" r="2.9" fill="#2c3c92"/><circle cx="834.6" cy="1367.2" r="2.9" fill="#2c3c92"/><circle cx="832.3" cy="1371.8" r="2.9" fill="#2c3c92"/><circle cx="837.6" cy="1372.6" r="2.9" fill="#583090"/><circle cx="840.7" cy="1364.2" r="2.9" fill="#86208c"/><circle cx="843.8" cy="1363.4" r="2.9" fill="#86208c"/><circle cx="846.8" cy="1364.9" r="2.9" fill="#86208c"/><circle cx="841.5" cy="1368.8" r="2.9" fill="#583090"/><circle cx="845.3" cy="1368.8" r="2.9" fill="#583090"/><circle cx="847.6" cy="1372.6" r="2.9" fill="#583090"/><circle cx="853.7" cy="1367.2" r="2.9" fill="#b4168a"/><circle cx="851.4" cy="1373.3" r="2.9" fill="#b4168a"/>
<path d="M542.80 975.20 L544.24 975.20 L545.69 975.20 L547.13 975.20 L548.57 975.21 L550.01 975.22 L551.46 975.23 L552.90 975.25 L554.34 975.27 L555.79 975.29 L557.23 975.32 L558.67 975.36 L560.12 975.40 L561.56 975.45 L563.00 975.50 L564.44 975.57 L565.89 975.64 L567.33 975.71 L568.77 975.80 L570.22 975.89 L571.66 976.00 L573.10 976.11 L574.55 976.23 L575.99 976.36 L577.43 976.50 L578.88 976.65 L580.32 976.82 L581.76 976.99 L583.20 977.17 L584.65 977.37 L586.09 977.58 L587.53 977.80 L588.98 978.03 L590.42 978.28 L591.86 978.54 L593.30 978.81 L594.75 979.09 L596.19 979.39 L597.63 979.70 L599.08 980.03 L600.52 980.37 L601.96 980.73 L603.41 981.10 L604.85 981.49 L606.29 981.89 L607.73 982.31 L609.18 982.74 L610.62 983.20 L612.06 983.66 L613.51 984.15 L614.95 984.65 L616.39 985.17 L617.84 985.71 L619.28 986.26 L620.72 986.83 L622.16 987.42 L623.61 988.03 L625.05 988.66 L626.49 989.31 L627.94 989.97 L629.38 990.66 L630.82 991.37 L632.27 992.09 L633.71 992.84 L635.15 993.60 L636.60 994.39 L638.04 995.20 L639.48 996.03 L640.92 996.88 L642.37 997.75 L643.81 998.64 L645.25 999.56 L646.70 1000.49 L648.14 1001.45 L649.58 1002.43 L651.02 1003.44 L652.47 1004.47 L653.91 1005.52 L655.35 1006.59 L656.80 1007.69 L658.24 1008.82 L659.68 1009.96 L661.13 1011.13 L662.57 1012.33 L664.01 1013.55 L665.45 1014.79 L666.90 1016.06 L668.34 1017.36 L669.78 1018.68 L671.23 1020.03 L672.67 1021.40 L674.11 1022.80 L675.56 1024.23 L677.00 1025.68 L678.44 1027.16 L679.88 1028.66 L681.33 1030.20 L682.77 1031.76 L684.21 1033.34 L685.66 1034.96 L687.10 1036.60 L688.54 1038.28 L689.99 1039.98 L691.43 1041.70 L692.87 1043.46 L694.31 1045.25 L695.76 1047.07 L697.20 1048.91 L698.64 1050.79 L700.09 1052.69 L701.53 1054.62 L702.97 1056.59 L704.42 1058.58 L705.86 1060.61 L707.30 1062.67 L708.74 1064.75 L710.19 1066.87 L711.63 1069.02 L713.07 1071.20 L714.52 1073.41 L715.96 1075.66 L717.40 1077.93 L718.85 1080.24 L720.29 1082.58 L721.73 1084.96 L723.17 1087.36 L724.62 1089.80 L726.06 1092.27 L727.50 1094.78 L728.95 1097.32 L730.39 1099.89 L731.83 1102.50 L733.28 1105.14 L734.72 1107.81 L736.16 1110.52 L737.61 1113.27 L739.05 1116.05 L740.49 1118.86 L741.93 1121.71 L743.38 1124.59 L744.82 1127.51 L746.26 1130.47 L747.71 1133.46 L749.15 1136.49 L750.59 1139.55 L752.03 1142.65 L753.48 1145.79 L754.92 1148.96 L756.36 1152.17 L757.81 1155.42 L759.25 1158.70 L760.69 1162.02 L762.14 1165.38 L763.58 1168.78 L765.02 1172.21 L766.46 1175.69 L767.91 1179.20 L769.35 1182.75 L770.79 1186.34 L772.24 1189.97 L773.68 1193.63 L775.12 1197.34 L776.57 1201.08 L778.01 1204.87 L779.45 1208.69 L780.89 1212.56 L782.34 1216.46 L783.78 1220.40 L785.22 1224.39 L786.67 1228.41 L788.11 1232.48 L789.55 1236.59 L791.00 1240.73 L792.44 1244.92 L793.88 1249.15 L795.33 1253.42 L796.77 1257.74 L798.21 1262.09 L799.65 1266.49 L801.10 1270.93 L802.54 1275.41 L803.98 1279.94 L805.43 1284.50 L806.87 1289.11 L808.31 1293.77 L809.75 1298.46 L811.20 1303.20 L812.64 1307.99 L814.08 1312.81 L815.53 1317.68 L816.97 1322.60 L818.41 1327.56 L819.86 1332.56 L821.30 1337.61 L822.74 1342.70 L824.18 1347.84 L825.63 1353.02 L827.07 1358.25 L828.51 1363.52 L829.96 1368.84 L831.40 1374.20" fill="none" stroke="#4cb8e8" stroke-width="2" stroke-linejoin="round" stroke-linecap="round"/>
<path d="M542.80 975.20 L544.09 975.20 L545.39 975.20 L546.68 975.20 L547.98 975.21 L549.27 975.22 L550.57 975.23 L551.86 975.25 L553.16 975.27 L554.45 975.29 L555.74 975.32 L557.04 975.36 L558.33 975.40 L559.63 975.45 L560.92 975.50 L562.22 975.56 L563.51 975.63 L564.81 975.71 L566.10 975.79 L567.39 975.89 L568.69 975.99 L569.98 976.10 L571.28 976.22 L572.57 976.35 L573.87 976.49 L575.16 976.64 L576.46 976.80 L577.75 976.97 L579.05 977.16 L580.34 977.35 L581.63 977.56 L582.93 977.78 L584.22 978.01 L585.52 978.25 L586.81 978.51 L588.11 978.78 L589.40 979.06 L590.70 979.35 L591.99 979.66 L593.28 979.99 L594.58 980.33 L595.87 980.68 L597.17 981.05 L598.46 981.43 L599.76 981.83 L601.05 982.25 L602.35 982.68 L603.64 983.13 L604.93 983.59 L606.23 984.07 L607.52 984.57 L608.82 985.08 L610.11 985.61 L611.41 986.16 L612.70 986.73 L614.00 987.32 L615.29 987.92 L616.58 988.54 L617.88 989.18 L619.17 989.84 L620.47 990.52 L621.76 991.22 L623.06 991.94 L624.35 992.68 L625.65 993.44 L626.94 994.22 L628.23 995.02 L629.53 995.84 L630.82 996.69 L632.12 997.55 L633.41 998.43 L634.71 999.34 L636.00 1000.27 L637.30 1001.22 L638.59 1002.20 L639.89 1003.19 L641.18 1004.21 L642.47 1005.25 L643.77 1006.32 L645.06 1007.41 L646.36 1008.52 L647.65 1009.66 L648.95 1010.82 L650.24 1012.00 L651.54 1013.21 L652.83 1014.45 L654.12 1015.71 L655.42 1016.99 L656.71 1018.30 L658.01 1019.63 L659.30 1021.00 L660.60 1022.38 L661.89 1023.80 L663.19 1025.23 L664.48 1026.70 L665.77 1028.19 L667.07 1029.71 L668.36 1031.26 L669.66 1032.83 L670.95 1034.44 L672.25 1036.06 L673.54 1037.72 L674.84 1039.41 L676.13 1041.12 L677.42 1042.86 L678.72 1044.63 L680.01 1046.43 L681.31 1048.26 L682.60 1050.12 L683.90 1052.01 L685.19 1053.93 L686.49 1055.87 L687.78 1057.85 L689.07 1059.86 L690.37 1061.90 L691.66 1063.97 L692.96 1066.07 L694.25 1068.20 L695.55 1070.36 L696.84 1072.55 L698.14 1074.78 L699.43 1077.03 L700.73 1079.32 L702.02 1081.64 L703.31 1083.99 L704.61 1086.38 L705.90 1088.80 L707.20 1091.25 L708.49 1093.73 L709.79 1096.25 L711.08 1098.80 L712.38 1101.38 L713.67 1104.00 L714.96 1106.65 L716.26 1109.34 L717.55 1112.06 L718.85 1114.81 L720.14 1117.60 L721.44 1120.42 L722.73 1123.28 L724.03 1126.18 L725.32 1129.11 L726.61 1132.07 L727.91 1135.07 L729.20 1138.11 L730.50 1141.18 L731.79 1144.29 L733.09 1147.44 L734.38 1150.62 L735.68 1153.84 L736.97 1157.09 L738.26 1160.38 L739.56 1163.71 L740.85 1167.08 L742.15 1170.49 L743.44 1173.93 L744.74 1177.41 L746.03 1180.93 L747.33 1184.49 L748.62 1188.08 L749.92 1191.72 L751.21 1195.39 L752.50 1199.10 L753.80 1202.85 L755.09 1206.64 L756.39 1210.47 L757.68 1214.34 L758.98 1218.25 L760.27 1222.20 L761.57 1226.19 L762.86 1230.22 L764.15 1234.29 L765.45 1238.40 L766.74 1242.56 L768.04 1246.75 L769.33 1250.98 L770.63 1255.26 L771.92 1259.58 L773.22 1263.94 L774.51 1268.34 L775.80 1272.78 L777.10 1277.26 L778.39 1281.79 L779.69 1286.36 L780.98 1290.97 L782.28 1295.63 L783.57 1300.33 L784.87 1305.07 L786.16 1309.85 L787.45 1314.68 L788.75 1319.55 L790.04 1324.47 L791.34 1329.42 L792.63 1334.43 L793.93 1339.48 L795.22 1344.57 L796.52 1349.70 L797.81 1354.89 L799.10 1360.11 L800.40 1365.38 L801.69 1370.70 Q802.54 1374.20 805.74 1374.20 L831.40 1374.20" fill="none" stroke="#a8163a" stroke-width="2" stroke-linejoin="round" stroke-linecap="round"/>
<defs><linearGradient id="g2" x1="0" y1="0" x2="0" y2="1"><stop offset="0.000" stop-color="#ff6a2e"/><stop offset="0.025" stop-color="#ff5d29"/><stop offset="0.050" stop-color="#ff5125"/><stop offset="0.075" stop-color="#ff4420"/><stop offset="0.100" stop-color="#ff361d"/><stop offset="0.125" stop-color="#ff2919"/><stop offset="0.150" stop-color="#ff1a11"/><stop offset="0.175" stop-color="#ff0906"/><stop offset="0.200" stop-color="#fc0108"/><stop offset="0.225" stop-color="#f5031b"/><stop offset="0.250" stop-color="#ef062e"/><stop offset="0.275" stop-color="#e8083c"/><stop offset="0.300" stop-color="#e1094a"/><stop offset="0.325" stop-color="#da0b5a"/><stop offset="0.350" stop-color="#d40d6c"/><stop offset="0.375" stop-color="#cd107e"/><stop offset="0.400" stop-color="#c31282"/><stop offset="0.425" stop-color="#b91484"/><stop offset="0.450" stop-color="#ad1686"/><stop offset="0.475" stop-color="#a21888"/><stop offset="0.500" stop-color="#971b8a"/><stop offset="0.525" stop-color="#8c1d8c"/><stop offset="0.550" stop-color="#81208d"/><stop offset="0.575" stop-color="#77238e"/><stop offset="0.600" stop-color="#6e268f"/><stop offset="0.625" stop-color="#642990"/><stop offset="0.650" stop-color="#5a2b90"/><stop offset="0.675" stop-color="#4f2e8f"/><stop offset="0.700" stop-color="#43318f"/><stop offset="0.725" stop-color="#35358f"/><stop offset="0.750" stop-color="#2e3790"/><stop offset="0.775" stop-color="#293991"/><stop offset="0.800" stop-color="#263a92"/><stop offset="0.825" stop-color="#1f3e94"/><stop offset="0.850" stop-color="#164398"/><stop offset="0.875" stop-color="#0c4d9f"/><stop offset="0.900" stop-color="#1559a8"/><stop offset="0.925" stop-color="#286bb4"/><stop offset="0.950" stop-color="#3f7fc1"/><stop offset="0.975" stop-color="#508dc8"/><stop offset="1.000" stop-color="#609acf"/></linearGradient></defs>
<rect x="963" y="973.6" width="27.8" height="408.9" fill="url(#g2)" stroke="#000" stroke-width="2"/>
<line x1="986.5" y1="995.6" x2="990.8" y2="995.6" stroke="#000" stroke-width="1.6"/>
<text x="997.5" y="1004.1" font-family="Liberation Sans, sans-serif" font-size="25" text-anchor="start" >3</text>
<line x1="986.5" y1="1130.9" x2="990.8" y2="1130.9" stroke="#000" stroke-width="1.6"/>
<text x="997.5" y="1139.4" font-family="Liberation Sans, sans-serif" font-size="25" text-anchor="start" >2</text>
<line x1="986.5" y1="1265.9" x2="990.8" y2="1265.9" stroke="#000" stroke-width="1.6"/>
<text x="997.5" y="1274.4" font-family="Liberation Sans, sans-serif" font-size="25" text-anchor="start" >1</text>
<text transform="translate(1041.2,1314.6) rotate(-90)" font-family="Liberation Sans, sans-serif" font-size="25" textLength="287">Total atom number (×10<tspan font-size="17" dy="-9">5</tspan><tspan dy="9">)</tspan></text>
</svg></body></html>
